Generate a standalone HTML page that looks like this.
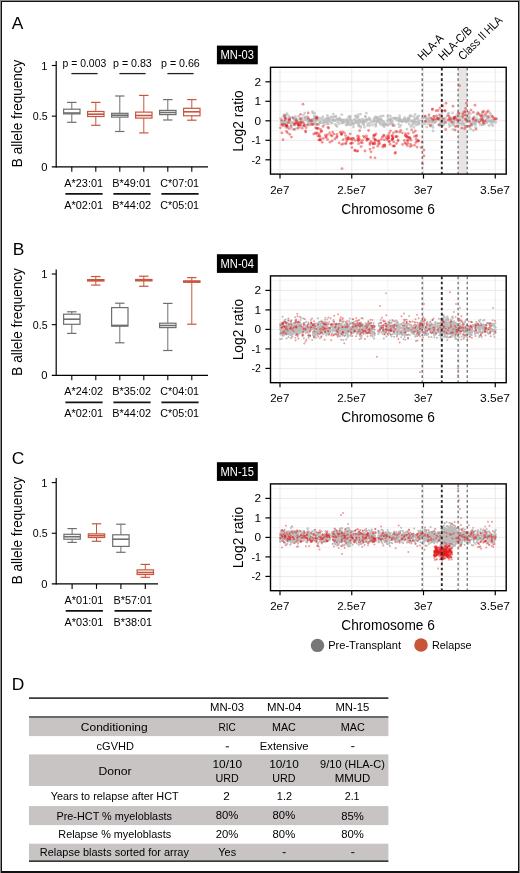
<!DOCTYPE html><html><head><meta charset="utf-8"><style>
html,body{margin:0;padding:0;background:#fff;}
svg{display:block;font-family:"Liberation Sans", sans-serif;will-change:transform;}
</style></head><body>
<svg width="520" height="873" viewBox="0 0 520 873"><rect x="0" y="0" width="520" height="873" fill="#8a8a8a"/>
<rect x="1" y="1" width="518" height="872" fill="#111"/>
<rect x="2" y="2" width="516" height="869" fill="#fff"/>
<text x="11.8" y="28.8" font-size="17.4" fill="#000">A</text>
<line x1="56.2" y1="61.0" x2="56.2" y2="167.4" stroke="#000" stroke-width="1.2"/>
<line x1="51.8" y1="166.8" x2="208" y2="166.8" stroke="#000" stroke-width="1.3"/>
<line x1="51.8" y1="65.5" x2="56.2" y2="65.5" stroke="#000" stroke-width="1.1"/>
<line x1="51.8" y1="116.15" x2="56.2" y2="116.15" stroke="#000" stroke-width="1.1"/>
<text x="47.6" y="69.5" font-size="11.2" fill="#000" text-anchor="end">1</text>
<text x="47.6" y="120.15" font-size="11.2" fill="#000" text-anchor="end" textLength="14.8" lengthAdjust="spacingAndGlyphs">0.5</text>
<text x="47.6" y="170.8" font-size="11.2" fill="#000" text-anchor="end">0</text>
<text x="22.3" y="113.4" font-size="14.8" fill="#000" text-anchor="middle" textLength="107.5" lengthAdjust="spacingAndGlyphs" transform="rotate(-90 22.3 113.4)">B allele frequency</text>
<line x1="71.8" y1="166.8" x2="71.8" y2="171.8" stroke="#000" stroke-width="1.1"/>
<line x1="71.8" y1="102.4" x2="71.8" y2="109.2" stroke="#6f6f6f" stroke-width="1.0"/>
<line x1="71.8" y1="113.9" x2="71.8" y2="122.3" stroke="#6f6f6f" stroke-width="1.0"/>
<line x1="67.1" y1="102.4" x2="76.5" y2="102.4" stroke="#6f6f6f" stroke-width="1.2"/>
<line x1="67.1" y1="122.3" x2="76.5" y2="122.3" stroke="#6f6f6f" stroke-width="1.2"/>
<rect x="63.599999999999994" y="109.2" width="16.4" height="4.700000000000003" fill="none" stroke="#6f6f6f" stroke-width="1.2"/>
<line x1="63.599999999999994" y1="113.0" x2="80.0" y2="113.0" stroke="#6f6f6f" stroke-width="1.6"/>
<line x1="95.8" y1="166.8" x2="95.8" y2="171.8" stroke="#000" stroke-width="1.1"/>
<line x1="95.8" y1="102.4" x2="95.8" y2="111.5" stroke="#c9563c" stroke-width="1.0"/>
<line x1="95.8" y1="116.5" x2="95.8" y2="125.3" stroke="#c9563c" stroke-width="1.0"/>
<line x1="91.1" y1="102.4" x2="100.5" y2="102.4" stroke="#c9563c" stroke-width="1.2"/>
<line x1="91.1" y1="125.3" x2="100.5" y2="125.3" stroke="#c9563c" stroke-width="1.2"/>
<rect x="87.6" y="111.5" width="16.4" height="5.0" fill="none" stroke="#c9563c" stroke-width="1.2"/>
<line x1="87.6" y1="114.2" x2="104.0" y2="114.2" stroke="#c9563c" stroke-width="1.6"/>
<line x1="119.8" y1="166.8" x2="119.8" y2="171.8" stroke="#000" stroke-width="1.1"/>
<line x1="119.8" y1="96" x2="119.8" y2="113.3" stroke="#6f6f6f" stroke-width="1.0"/>
<line x1="119.8" y1="117.1" x2="119.8" y2="131.5" stroke="#6f6f6f" stroke-width="1.0"/>
<line x1="115.1" y1="96" x2="124.5" y2="96" stroke="#6f6f6f" stroke-width="1.2"/>
<line x1="115.1" y1="131.5" x2="124.5" y2="131.5" stroke="#6f6f6f" stroke-width="1.2"/>
<rect x="111.6" y="113.3" width="16.4" height="3.799999999999997" fill="none" stroke="#6f6f6f" stroke-width="1.2"/>
<line x1="111.6" y1="115.2" x2="128.0" y2="115.2" stroke="#6f6f6f" stroke-width="1.6"/>
<line x1="143.8" y1="166.8" x2="143.8" y2="171.8" stroke="#000" stroke-width="1.1"/>
<line x1="143.8" y1="95.4" x2="143.8" y2="112.1" stroke="#c9563c" stroke-width="1.0"/>
<line x1="143.8" y1="118.1" x2="143.8" y2="132.9" stroke="#c9563c" stroke-width="1.0"/>
<line x1="139.10000000000002" y1="95.4" x2="148.5" y2="95.4" stroke="#c9563c" stroke-width="1.2"/>
<line x1="139.10000000000002" y1="132.9" x2="148.5" y2="132.9" stroke="#c9563c" stroke-width="1.2"/>
<rect x="135.60000000000002" y="112.1" width="16.4" height="6.0" fill="none" stroke="#c9563c" stroke-width="1.2"/>
<line x1="135.60000000000002" y1="115.5" x2="152.0" y2="115.5" stroke="#c9563c" stroke-width="1.6"/>
<line x1="167.8" y1="166.8" x2="167.8" y2="171.8" stroke="#000" stroke-width="1.1"/>
<line x1="167.8" y1="99.6" x2="167.8" y2="110.4" stroke="#6f6f6f" stroke-width="1.0"/>
<line x1="167.8" y1="114.6" x2="167.8" y2="120" stroke="#6f6f6f" stroke-width="1.0"/>
<line x1="163.10000000000002" y1="99.6" x2="172.5" y2="99.6" stroke="#6f6f6f" stroke-width="1.2"/>
<line x1="163.10000000000002" y1="120" x2="172.5" y2="120" stroke="#6f6f6f" stroke-width="1.2"/>
<rect x="159.60000000000002" y="110.4" width="16.4" height="4.199999999999989" fill="none" stroke="#6f6f6f" stroke-width="1.2"/>
<line x1="159.60000000000002" y1="112.5" x2="176.0" y2="112.5" stroke="#6f6f6f" stroke-width="1.6"/>
<line x1="191.8" y1="166.8" x2="191.8" y2="171.8" stroke="#000" stroke-width="1.1"/>
<line x1="191.8" y1="99.6" x2="191.8" y2="108.3" stroke="#c9563c" stroke-width="1.0"/>
<line x1="191.8" y1="115.8" x2="191.8" y2="120.2" stroke="#c9563c" stroke-width="1.0"/>
<line x1="187.10000000000002" y1="99.6" x2="196.5" y2="99.6" stroke="#c9563c" stroke-width="1.2"/>
<line x1="187.10000000000002" y1="120.2" x2="196.5" y2="120.2" stroke="#c9563c" stroke-width="1.2"/>
<rect x="183.60000000000002" y="108.3" width="16.4" height="7.5" fill="none" stroke="#c9563c" stroke-width="1.2"/>
<line x1="183.60000000000002" y1="111.8" x2="200.0" y2="111.8" stroke="#c9563c" stroke-width="1.6"/>
<text x="83.7" y="186.8" font-size="11.8" fill="#000" text-anchor="middle" textLength="38.8" lengthAdjust="spacingAndGlyphs">A*23:01</text>
<line x1="65.4" y1="193.8" x2="102.6" y2="193.8" stroke="#111" stroke-width="1.8"/>
<text x="83.7" y="208.9" font-size="11.8" fill="#000" text-anchor="middle" textLength="38.8" lengthAdjust="spacingAndGlyphs">A*02:01</text>
<text x="131.7" y="186.8" font-size="11.8" fill="#000" text-anchor="middle" textLength="38.8" lengthAdjust="spacingAndGlyphs">B*49:01</text>
<line x1="113.4" y1="193.8" x2="150.6" y2="193.8" stroke="#111" stroke-width="1.8"/>
<text x="131.7" y="208.9" font-size="11.8" fill="#000" text-anchor="middle" textLength="38.8" lengthAdjust="spacingAndGlyphs">B*44:02</text>
<text x="179.7" y="186.8" font-size="11.8" fill="#000" text-anchor="middle" textLength="38.8" lengthAdjust="spacingAndGlyphs">C*07:01</text>
<line x1="161.4" y1="193.8" x2="198.6" y2="193.8" stroke="#111" stroke-width="1.8"/>
<text x="179.7" y="208.9" font-size="11.8" fill="#000" text-anchor="middle" textLength="38.8" lengthAdjust="spacingAndGlyphs">C*05:01</text>
<text x="84.4" y="66.5" font-size="10.3" fill="#000" text-anchor="middle" textLength="43.599999999999994" lengthAdjust="spacingAndGlyphs">p = 0.003</text>
<line x1="71.4" y1="73.6" x2="97.6" y2="73.6" stroke="#222" stroke-width="1.3"/>
<text x="132.4" y="66.5" font-size="10.3" fill="#000" text-anchor="middle" textLength="38.8" lengthAdjust="spacingAndGlyphs">p = 0.83</text>
<line x1="119.4" y1="73.6" x2="145.6" y2="73.6" stroke="#222" stroke-width="1.3"/>
<text x="180.4" y="66.5" font-size="10.3" fill="#000" text-anchor="middle" textLength="38.8" lengthAdjust="spacingAndGlyphs">p = 0.66</text>
<line x1="167.4" y1="73.6" x2="193.6" y2="73.6" stroke="#222" stroke-width="1.3"/>
<text x="12.8" y="254.6" font-size="17.4" fill="#000">B</text>
<line x1="56.2" y1="269.5" x2="56.2" y2="375.90000000000003" stroke="#000" stroke-width="1.2"/>
<line x1="51.8" y1="375.3" x2="208" y2="375.3" stroke="#000" stroke-width="1.3"/>
<line x1="51.8" y1="274.0" x2="56.2" y2="274.0" stroke="#000" stroke-width="1.1"/>
<line x1="51.8" y1="324.65" x2="56.2" y2="324.65" stroke="#000" stroke-width="1.1"/>
<text x="47.6" y="278.0" font-size="11.2" fill="#000" text-anchor="end">1</text>
<text x="47.6" y="328.65" font-size="11.2" fill="#000" text-anchor="end" textLength="14.8" lengthAdjust="spacingAndGlyphs">0.5</text>
<text x="47.6" y="379.3" font-size="11.2" fill="#000" text-anchor="end">0</text>
<text x="22.3" y="321.9" font-size="14.8" fill="#000" text-anchor="middle" textLength="107.5" lengthAdjust="spacingAndGlyphs" transform="rotate(-90 22.3 321.9)">B allele frequency</text>
<line x1="71.8" y1="375.3" x2="71.8" y2="380.3" stroke="#000" stroke-width="1.1"/>
<line x1="71.8" y1="311.8" x2="71.8" y2="314.2" stroke="#6f6f6f" stroke-width="1.0"/>
<line x1="71.8" y1="324.3" x2="71.8" y2="333.4" stroke="#6f6f6f" stroke-width="1.0"/>
<line x1="67.1" y1="311.8" x2="76.5" y2="311.8" stroke="#6f6f6f" stroke-width="1.2"/>
<line x1="67.1" y1="333.4" x2="76.5" y2="333.4" stroke="#6f6f6f" stroke-width="1.2"/>
<rect x="63.599999999999994" y="314.2" width="16.4" height="10.100000000000023" fill="none" stroke="#6f6f6f" stroke-width="1.2"/>
<line x1="63.599999999999994" y1="319.2" x2="80.0" y2="319.2" stroke="#6f6f6f" stroke-width="1.6"/>
<line x1="95.8" y1="375.3" x2="95.8" y2="380.3" stroke="#000" stroke-width="1.1"/>
<line x1="95.8" y1="276.5" x2="95.8" y2="279.6" stroke="#c9563c" stroke-width="1.0"/>
<line x1="95.8" y1="281.0" x2="95.8" y2="285.1" stroke="#c9563c" stroke-width="1.0"/>
<line x1="91.1" y1="276.5" x2="100.5" y2="276.5" stroke="#c9563c" stroke-width="1.2"/>
<line x1="91.1" y1="285.1" x2="100.5" y2="285.1" stroke="#c9563c" stroke-width="1.2"/>
<rect x="87.6" y="279.6" width="16.4" height="1.3999999999999773" fill="none" stroke="#c9563c" stroke-width="1.2"/>
<line x1="87.6" y1="280.3" x2="104.0" y2="280.3" stroke="#c9563c" stroke-width="1.6"/>
<line x1="119.8" y1="375.3" x2="119.8" y2="380.3" stroke="#000" stroke-width="1.1"/>
<line x1="119.8" y1="303.2" x2="119.8" y2="307.6" stroke="#6f6f6f" stroke-width="1.0"/>
<line x1="119.8" y1="326.2" x2="119.8" y2="342.8" stroke="#6f6f6f" stroke-width="1.0"/>
<line x1="115.1" y1="303.2" x2="124.5" y2="303.2" stroke="#6f6f6f" stroke-width="1.2"/>
<line x1="115.1" y1="342.8" x2="124.5" y2="342.8" stroke="#6f6f6f" stroke-width="1.2"/>
<rect x="111.6" y="307.6" width="16.4" height="18.599999999999966" fill="none" stroke="#6f6f6f" stroke-width="1.2"/>
<line x1="111.6" y1="325.4" x2="128.0" y2="325.4" stroke="#6f6f6f" stroke-width="1.6"/>
<line x1="143.8" y1="375.3" x2="143.8" y2="380.3" stroke="#000" stroke-width="1.1"/>
<line x1="143.8" y1="276.2" x2="143.8" y2="279.5" stroke="#c9563c" stroke-width="1.0"/>
<line x1="143.8" y1="280.9" x2="143.8" y2="286.3" stroke="#c9563c" stroke-width="1.0"/>
<line x1="139.10000000000002" y1="276.2" x2="148.5" y2="276.2" stroke="#c9563c" stroke-width="1.2"/>
<line x1="139.10000000000002" y1="286.3" x2="148.5" y2="286.3" stroke="#c9563c" stroke-width="1.2"/>
<rect x="135.60000000000002" y="279.5" width="16.4" height="1.3999999999999773" fill="none" stroke="#c9563c" stroke-width="1.2"/>
<line x1="135.60000000000002" y1="280.2" x2="152.0" y2="280.2" stroke="#c9563c" stroke-width="1.6"/>
<line x1="167.8" y1="375.3" x2="167.8" y2="380.3" stroke="#000" stroke-width="1.1"/>
<line x1="167.8" y1="303.4" x2="167.8" y2="323.2" stroke="#6f6f6f" stroke-width="1.0"/>
<line x1="167.8" y1="327.6" x2="167.8" y2="350.5" stroke="#6f6f6f" stroke-width="1.0"/>
<line x1="163.10000000000002" y1="303.4" x2="172.5" y2="303.4" stroke="#6f6f6f" stroke-width="1.2"/>
<line x1="163.10000000000002" y1="350.5" x2="172.5" y2="350.5" stroke="#6f6f6f" stroke-width="1.2"/>
<rect x="159.60000000000002" y="323.2" width="16.4" height="4.400000000000034" fill="none" stroke="#6f6f6f" stroke-width="1.2"/>
<line x1="159.60000000000002" y1="325.5" x2="176.0" y2="325.5" stroke="#6f6f6f" stroke-width="1.6"/>
<line x1="191.8" y1="375.3" x2="191.8" y2="380.3" stroke="#000" stroke-width="1.1"/>
<line x1="191.8" y1="277.6" x2="191.8" y2="280.9" stroke="#c9563c" stroke-width="1.0"/>
<line x1="191.8" y1="282.3" x2="191.8" y2="324.2" stroke="#c9563c" stroke-width="1.0"/>
<line x1="187.10000000000002" y1="277.6" x2="196.5" y2="277.6" stroke="#c9563c" stroke-width="1.2"/>
<line x1="187.10000000000002" y1="324.2" x2="196.5" y2="324.2" stroke="#c9563c" stroke-width="1.2"/>
<rect x="183.60000000000002" y="280.9" width="16.4" height="1.400000000000034" fill="none" stroke="#c9563c" stroke-width="1.2"/>
<line x1="183.60000000000002" y1="281.6" x2="200.0" y2="281.6" stroke="#c9563c" stroke-width="1.6"/>
<text x="83.7" y="395.3" font-size="11.8" fill="#000" text-anchor="middle" textLength="38.8" lengthAdjust="spacingAndGlyphs">A*24:02</text>
<line x1="65.4" y1="402.3" x2="102.6" y2="402.3" stroke="#111" stroke-width="1.8"/>
<text x="83.7" y="417.40000000000003" font-size="11.8" fill="#000" text-anchor="middle" textLength="38.8" lengthAdjust="spacingAndGlyphs">A*02:01</text>
<text x="131.7" y="395.3" font-size="11.8" fill="#000" text-anchor="middle" textLength="38.8" lengthAdjust="spacingAndGlyphs">B*35:02</text>
<line x1="113.4" y1="402.3" x2="150.6" y2="402.3" stroke="#111" stroke-width="1.8"/>
<text x="131.7" y="417.40000000000003" font-size="11.8" fill="#000" text-anchor="middle" textLength="38.8" lengthAdjust="spacingAndGlyphs">B*44:02</text>
<text x="179.7" y="395.3" font-size="11.8" fill="#000" text-anchor="middle" textLength="38.8" lengthAdjust="spacingAndGlyphs">C*04:01</text>
<line x1="161.4" y1="402.3" x2="198.6" y2="402.3" stroke="#111" stroke-width="1.8"/>
<text x="179.7" y="417.40000000000003" font-size="11.8" fill="#000" text-anchor="middle" textLength="38.8" lengthAdjust="spacingAndGlyphs">C*05:01</text>
<text x="11.8" y="463.7" font-size="17.4" fill="#000">C</text>
<line x1="56.2" y1="478.1" x2="56.2" y2="584.5" stroke="#000" stroke-width="1.2"/>
<line x1="51.8" y1="583.9" x2="158" y2="583.9" stroke="#000" stroke-width="1.3"/>
<line x1="51.8" y1="482.6" x2="56.2" y2="482.6" stroke="#000" stroke-width="1.1"/>
<line x1="51.8" y1="533.25" x2="56.2" y2="533.25" stroke="#000" stroke-width="1.1"/>
<text x="47.6" y="486.6" font-size="11.2" fill="#000" text-anchor="end">1</text>
<text x="47.6" y="537.25" font-size="11.2" fill="#000" text-anchor="end" textLength="14.8" lengthAdjust="spacingAndGlyphs">0.5</text>
<text x="47.6" y="587.9" font-size="11.2" fill="#000" text-anchor="end">0</text>
<text x="22.3" y="530.5" font-size="14.8" fill="#000" text-anchor="middle" textLength="107.5" lengthAdjust="spacingAndGlyphs" transform="rotate(-90 22.3 530.5)">B allele frequency</text>
<line x1="72.1" y1="583.9" x2="72.1" y2="588.9" stroke="#000" stroke-width="1.1"/>
<line x1="72.1" y1="528.6" x2="72.1" y2="534.3" stroke="#6f6f6f" stroke-width="1.0"/>
<line x1="72.1" y1="539.2" x2="72.1" y2="542.4" stroke="#6f6f6f" stroke-width="1.0"/>
<line x1="67.39999999999999" y1="528.6" x2="76.8" y2="528.6" stroke="#6f6f6f" stroke-width="1.2"/>
<line x1="67.39999999999999" y1="542.4" x2="76.8" y2="542.4" stroke="#6f6f6f" stroke-width="1.2"/>
<rect x="63.89999999999999" y="534.3" width="16.4" height="4.900000000000091" fill="none" stroke="#6f6f6f" stroke-width="1.2"/>
<line x1="63.89999999999999" y1="536.7" x2="80.3" y2="536.7" stroke="#6f6f6f" stroke-width="1.6"/>
<line x1="96.5" y1="583.9" x2="96.5" y2="588.9" stroke="#000" stroke-width="1.1"/>
<line x1="96.5" y1="523.8" x2="96.5" y2="533.9" stroke="#c9563c" stroke-width="1.0"/>
<line x1="96.5" y1="537.5" x2="96.5" y2="541.3" stroke="#c9563c" stroke-width="1.0"/>
<line x1="91.8" y1="523.8" x2="101.2" y2="523.8" stroke="#c9563c" stroke-width="1.2"/>
<line x1="91.8" y1="541.3" x2="101.2" y2="541.3" stroke="#c9563c" stroke-width="1.2"/>
<rect x="88.3" y="533.9" width="16.4" height="3.6000000000000227" fill="none" stroke="#c9563c" stroke-width="1.2"/>
<line x1="88.3" y1="535.7" x2="104.7" y2="535.7" stroke="#c9563c" stroke-width="1.6"/>
<line x1="120.9" y1="583.9" x2="120.9" y2="588.9" stroke="#000" stroke-width="1.1"/>
<line x1="120.9" y1="524.2" x2="120.9" y2="534.8" stroke="#6f6f6f" stroke-width="1.0"/>
<line x1="120.9" y1="546.4" x2="120.9" y2="552.3" stroke="#6f6f6f" stroke-width="1.0"/>
<line x1="116.2" y1="524.2" x2="125.60000000000001" y2="524.2" stroke="#6f6f6f" stroke-width="1.2"/>
<line x1="116.2" y1="552.3" x2="125.60000000000001" y2="552.3" stroke="#6f6f6f" stroke-width="1.2"/>
<rect x="112.7" y="534.8" width="16.4" height="11.600000000000023" fill="none" stroke="#6f6f6f" stroke-width="1.2"/>
<line x1="112.7" y1="539.2" x2="129.1" y2="539.2" stroke="#6f6f6f" stroke-width="1.6"/>
<line x1="145.3" y1="583.9" x2="145.3" y2="588.9" stroke="#000" stroke-width="1.1"/>
<line x1="145.3" y1="564.4" x2="145.3" y2="569.9" stroke="#c9563c" stroke-width="1.0"/>
<line x1="145.3" y1="574.5" x2="145.3" y2="577.3" stroke="#c9563c" stroke-width="1.0"/>
<line x1="140.60000000000002" y1="564.4" x2="150.0" y2="564.4" stroke="#c9563c" stroke-width="1.2"/>
<line x1="140.60000000000002" y1="577.3" x2="150.0" y2="577.3" stroke="#c9563c" stroke-width="1.2"/>
<rect x="137.10000000000002" y="569.9" width="16.4" height="4.600000000000023" fill="none" stroke="#c9563c" stroke-width="1.2"/>
<line x1="137.10000000000002" y1="572.5" x2="153.5" y2="572.5" stroke="#c9563c" stroke-width="1.6"/>
<text x="84.0" y="603.9" font-size="11.8" fill="#000" text-anchor="middle" textLength="38.8" lengthAdjust="spacingAndGlyphs">A*01:01</text>
<line x1="65.69999999999999" y1="610.9" x2="102.9" y2="610.9" stroke="#111" stroke-width="1.8"/>
<text x="84.0" y="626.0" font-size="11.8" fill="#000" text-anchor="middle" textLength="38.8" lengthAdjust="spacingAndGlyphs">A*03:01</text>
<text x="132.79999999999998" y="603.9" font-size="11.8" fill="#000" text-anchor="middle" textLength="38.8" lengthAdjust="spacingAndGlyphs">B*57:01</text>
<line x1="114.5" y1="610.9" x2="151.7" y2="610.9" stroke="#111" stroke-width="1.8"/>
<text x="132.79999999999998" y="626.0" font-size="11.8" fill="#000" text-anchor="middle" textLength="38.8" lengthAdjust="spacingAndGlyphs">B*38:01</text>
<rect x="216.9" y="45.599999999999994" width="40.9" height="18.7" fill="#000"/>
<text x="237.3" y="58.9" font-size="13.2" fill="#fff" text-anchor="middle" textLength="33.4" lengthAdjust="spacingAndGlyphs">MN-03</text>
<line x1="270.5" y1="169.55" x2="506.2" y2="169.55" stroke="#f3f1f1" stroke-width="0.8"/><line x1="270.5" y1="150.05" x2="506.2" y2="150.05" stroke="#f3f1f1" stroke-width="0.8"/><line x1="270.5" y1="130.55" x2="506.2" y2="130.55" stroke="#f3f1f1" stroke-width="0.8"/><line x1="270.5" y1="111.05" x2="506.2" y2="111.05" stroke="#f3f1f1" stroke-width="0.8"/><line x1="270.5" y1="91.55" x2="506.2" y2="91.55" stroke="#f3f1f1" stroke-width="0.8"/><line x1="270.5" y1="72.05" x2="506.2" y2="72.05" stroke="#f3f1f1" stroke-width="0.8"/><line x1="315.875" y1="67.3" x2="315.875" y2="174.1" stroke="#f3f1f1" stroke-width="0.8"/><line x1="387.625" y1="67.3" x2="387.625" y2="174.1" stroke="#f3f1f1" stroke-width="0.8"/><line x1="459.375" y1="67.3" x2="459.375" y2="174.1" stroke="#f3f1f1" stroke-width="0.8"/><line x1="270.5" y1="159.8" x2="506.2" y2="159.8" stroke="#ebe8e8" stroke-width="1"/><line x1="270.5" y1="140.3" x2="506.2" y2="140.3" stroke="#ebe8e8" stroke-width="1"/><line x1="270.5" y1="120.8" x2="506.2" y2="120.8" stroke="#ebe8e8" stroke-width="1"/><line x1="270.5" y1="101.3" x2="506.2" y2="101.3" stroke="#ebe8e8" stroke-width="1"/><line x1="270.5" y1="81.8" x2="506.2" y2="81.8" stroke="#ebe8e8" stroke-width="1"/><line x1="280.0" y1="67.3" x2="280.0" y2="174.1" stroke="#ebe8e8" stroke-width="1"/><line x1="351.75" y1="67.3" x2="351.75" y2="174.1" stroke="#ebe8e8" stroke-width="1"/><line x1="423.5" y1="67.3" x2="423.5" y2="174.1" stroke="#ebe8e8" stroke-width="1"/><line x1="495.25" y1="67.3" x2="495.25" y2="174.1" stroke="#ebe8e8" stroke-width="1"/>
<rect x="458.4" y="67.3" width="8.6" height="106.8" fill="#e8e4e4"/>
<g stroke="#bbbbbb" stroke-width="2.8" stroke-linecap="round" stroke-opacity="0.7" fill="none"><path d="M307.8 119.7h0"/><path d="M387.8 125.2h0"/><path d="M409.9 115.8h0"/><path d="M286.2 114.7h0"/><path d="M312.0 123.8h0"/><path d="M480.5 115.4h0"/><path d="M295.2 120.6h0"/><path d="M308.0 121.3h0"/><path d="M484.8 116.1h0"/><path d="M414.3 120.1h0"/><path d="M359.7 119.8h0"/><path d="M390.5 116.1h0"/><path d="M423.2 116.8h0"/><path d="M339.5 118.0h0"/><path d="M309.8 125.2h0"/><path d="M450.2 125.7h0"/><path d="M424.8 117.3h0"/><path d="M390.7 123.7h0"/><path d="M456.4 120.3h0"/><path d="M398.6 124.2h0"/><path d="M491.9 121.4h0"/><path d="M324.2 124.8h0"/><path d="M399.6 115.7h0"/><path d="M384.5 124.0h0"/><path d="M356.3 121.2h0"/><path d="M407.8 121.4h0"/><path d="M330.8 117.0h0"/><path d="M453.3 125.2h0"/><path d="M467.3 120.9h0"/><path d="M307.8 121.5h0"/><path d="M380.9 119.1h0"/><path d="M339.9 119.3h0"/><path d="M298.0 122.2h0"/><path d="M473.5 120.1h0"/><path d="M372.9 122.0h0"/><path d="M311.9 119.3h0"/><path d="M425.4 121.1h0"/><path d="M323.7 122.8h0"/><path d="M474.7 120.9h0"/><path d="M326.9 119.7h0"/><path d="M287.1 113.7h0"/><path d="M323.4 122.3h0"/><path d="M354.7 119.8h0"/><path d="M381.3 116.2h0"/><path d="M475.7 127.3h0"/><path d="M430.6 126.2h0"/><path d="M353.3 124.5h0"/><path d="M283.6 121.2h0"/><path d="M314.5 113.2h0"/><path d="M495.2 119.6h0"/><path d="M379.3 117.0h0"/><path d="M429.3 121.5h0"/><path d="M291.8 128.5h0"/><path d="M287.4 128.0h0"/><path d="M462.7 117.6h0"/><path d="M407.0 120.2h0"/><path d="M346.7 124.9h0"/><path d="M348.6 117.3h0"/><path d="M299.3 125.6h0"/><path d="M317.3 117.3h0"/><path d="M285.3 116.3h0"/><path d="M461.3 123.2h0"/><path d="M380.7 124.3h0"/><path d="M307.5 118.2h0"/><path d="M439.7 124.2h0"/><path d="M322.3 118.1h0"/><path d="M293.4 124.5h0"/><path d="M409.3 118.3h0"/><path d="M473.5 120.5h0"/><path d="M285.8 122.2h0"/><path d="M453.9 123.6h0"/><path d="M321.1 120.1h0"/><path d="M300.1 126.7h0"/><path d="M283.9 121.7h0"/><path d="M343.3 122.0h0"/><path d="M437.1 118.7h0"/><path d="M386.5 124.7h0"/><path d="M464.2 115.5h0"/><path d="M326.9 121.8h0"/><path d="M348.1 124.4h0"/><path d="M335.8 116.5h0"/><path d="M491.3 115.6h0"/><path d="M483.3 121.4h0"/><path d="M353.6 123.6h0"/><path d="M374.2 120.7h0"/><path d="M347.9 123.0h0"/><path d="M441.2 121.8h0"/><path d="M288.6 115.9h0"/><path d="M294.6 119.6h0"/><path d="M367.3 120.3h0"/><path d="M332.9 119.7h0"/><path d="M462.6 121.0h0"/><path d="M440.2 118.2h0"/><path d="M397.9 118.1h0"/><path d="M422.9 122.0h0"/><path d="M429.5 120.5h0"/><path d="M448.7 113.3h0"/><path d="M480.3 119.5h0"/><path d="M312.3 121.4h0"/><path d="M415.2 114.4h0"/><path d="M311.0 120.8h0"/><path d="M375.7 124.2h0"/><path d="M449.8 118.7h0"/><path d="M473.3 123.6h0"/><path d="M444.0 122.4h0"/><path d="M287.6 119.8h0"/><path d="M357.6 121.2h0"/><path d="M315.2 123.2h0"/><path d="M495.7 122.5h0"/><path d="M311.1 122.7h0"/><path d="M332.8 117.2h0"/><path d="M357.2 123.0h0"/><path d="M293.2 122.6h0"/><path d="M468.0 114.4h0"/><path d="M417.5 122.5h0"/><path d="M314.5 116.2h0"/><path d="M387.6 116.7h0"/><path d="M297.0 121.3h0"/><path d="M412.0 125.2h0"/><path d="M330.0 119.4h0"/><path d="M288.3 118.7h0"/><path d="M304.9 117.8h0"/><path d="M399.9 120.6h0"/><path d="M417.6 117.0h0"/><path d="M350.2 116.5h0"/><path d="M419.0 124.1h0"/><path d="M356.0 116.3h0"/><path d="M308.2 120.3h0"/><path d="M348.1 122.6h0"/><path d="M365.4 121.8h0"/><path d="M477.1 114.9h0"/><path d="M305.0 117.7h0"/><path d="M298.6 126.4h0"/><path d="M401.3 120.5h0"/><path d="M488.1 121.2h0"/><path d="M476.0 121.3h0"/><path d="M431.3 122.4h0"/><path d="M294.4 125.3h0"/><path d="M454.2 118.1h0"/><path d="M427.6 123.7h0"/><path d="M311.1 122.0h0"/><path d="M380.4 122.7h0"/><path d="M290.7 123.1h0"/><path d="M453.2 118.5h0"/><path d="M435.2 119.6h0"/><path d="M453.8 122.9h0"/><path d="M444.2 123.7h0"/><path d="M337.7 122.3h0"/><path d="M450.6 117.8h0"/><path d="M333.8 120.4h0"/><path d="M309.8 120.1h0"/><path d="M364.3 121.8h0"/><path d="M387.5 121.6h0"/><path d="M341.7 120.1h0"/><path d="M410.8 126.6h0"/><path d="M410.1 115.8h0"/><path d="M331.8 123.3h0"/><path d="M414.5 122.6h0"/><path d="M357.2 116.6h0"/><path d="M438.7 120.1h0"/><path d="M342.7 120.7h0"/><path d="M452.5 122.6h0"/><path d="M369.7 125.7h0"/><path d="M399.5 120.2h0"/><path d="M425.4 117.1h0"/><path d="M392.0 123.6h0"/><path d="M335.6 116.5h0"/><path d="M491.5 124.3h0"/><path d="M300.7 123.1h0"/><path d="M350.2 119.2h0"/><path d="M398.6 120.8h0"/><path d="M286.2 118.6h0"/><path d="M313.5 123.1h0"/><path d="M452.6 124.0h0"/><path d="M449.3 126.6h0"/><path d="M417.6 124.6h0"/><path d="M474.8 124.2h0"/><path d="M443.2 125.3h0"/><path d="M344.5 119.8h0"/><path d="M419.3 122.9h0"/><path d="M353.5 127.0h0"/><path d="M442.0 113.1h0"/><path d="M363.1 123.4h0"/><path d="M313.1 124.7h0"/><path d="M469.3 116.9h0"/><path d="M429.1 117.2h0"/><path d="M440.9 124.4h0"/><path d="M400.9 125.4h0"/><path d="M449.1 123.9h0"/><path d="M376.7 117.3h0"/><path d="M402.2 121.8h0"/><path d="M293.5 123.3h0"/><path d="M399.9 120.9h0"/><path d="M456.0 117.0h0"/><path d="M432.4 125.1h0"/><path d="M453.5 122.0h0"/><path d="M387.2 125.1h0"/><path d="M470.4 114.0h0"/><path d="M303.4 115.1h0"/><path d="M469.2 117.8h0"/><path d="M360.2 121.2h0"/><path d="M299.6 118.7h0"/><path d="M413.8 127.4h0"/><path d="M378.3 119.9h0"/><path d="M372.5 125.0h0"/><path d="M464.0 124.9h0"/><path d="M309.8 123.0h0"/><path d="M413.3 121.9h0"/><path d="M369.4 119.0h0"/><path d="M394.1 118.6h0"/><path d="M387.9 120.0h0"/><path d="M309.0 123.7h0"/><path d="M390.6 118.7h0"/><path d="M466.2 121.2h0"/><path d="M317.0 117.1h0"/><path d="M282.5 123.7h0"/><path d="M294.6 129.4h0"/><path d="M379.3 122.3h0"/><path d="M490.5 114.1h0"/><path d="M289.6 119.3h0"/><path d="M494.0 121.4h0"/><path d="M395.8 118.0h0"/><path d="M306.0 119.2h0"/><path d="M370.4 119.4h0"/><path d="M324.8 122.4h0"/><path d="M434.3 120.6h0"/><path d="M397.0 120.2h0"/><path d="M342.2 122.8h0"/><path d="M335.2 124.3h0"/><path d="M467.3 120.4h0"/><path d="M445.5 117.8h0"/><path d="M374.2 118.8h0"/><path d="M367.6 119.3h0"/><path d="M439.3 119.2h0"/><path d="M489.7 112.7h0"/><path d="M297.2 120.0h0"/><path d="M314.4 117.5h0"/><path d="M358.3 114.7h0"/><path d="M389.7 120.6h0"/><path d="M295.4 120.0h0"/><path d="M291.6 117.5h0"/><path d="M327.4 115.5h0"/><path d="M363.4 119.8h0"/><path d="M439.7 119.7h0"/><path d="M411.7 120.5h0"/><path d="M286.3 124.6h0"/><path d="M289.7 117.3h0"/><path d="M377.6 121.6h0"/><path d="M469.0 126.2h0"/><path d="M477.6 121.2h0"/><path d="M358.9 126.2h0"/><path d="M471.7 123.9h0"/><path d="M480.7 120.7h0"/><path d="M367.8 123.7h0"/><path d="M441.2 117.4h0"/><path d="M358.9 125.4h0"/><path d="M313.2 120.0h0"/><path d="M404.2 119.0h0"/><path d="M298.7 116.2h0"/><path d="M423.3 117.9h0"/><path d="M454.8 120.0h0"/><path d="M477.7 120.5h0"/><path d="M376.8 121.0h0"/><path d="M305.4 117.2h0"/><path d="M474.9 122.8h0"/><path d="M468.0 119.1h0"/><path d="M489.0 121.1h0"/><path d="M408.3 120.0h0"/><path d="M425.5 121.6h0"/><path d="M360.6 114.1h0"/><path d="M319.6 122.8h0"/><path d="M343.0 120.0h0"/><path d="M435.7 119.9h0"/><path d="M350.2 118.9h0"/><path d="M429.4 119.4h0"/><path d="M388.5 119.4h0"/><path d="M377.0 117.7h0"/><path d="M489.0 125.5h0"/><path d="M315.9 120.7h0"/><path d="M385.2 124.6h0"/><path d="M314.5 120.0h0"/><path d="M482.5 124.5h0"/><path d="M385.5 123.8h0"/><path d="M351.7 121.0h0"/><path d="M316.4 116.4h0"/><path d="M408.3 119.0h0"/><path d="M366.2 119.8h0"/><path d="M307.5 116.4h0"/><path d="M287.0 123.7h0"/><path d="M364.5 127.3h0"/><path d="M406.0 122.1h0"/><path d="M392.1 121.6h0"/><path d="M474.4 116.9h0"/><path d="M476.9 114.1h0"/><path d="M482.2 124.9h0"/><path d="M452.7 113.0h0"/><path d="M383.2 115.9h0"/><path d="M393.1 118.1h0"/><path d="M365.8 119.6h0"/><path d="M366.3 113.2h0"/><path d="M289.0 120.5h0"/><path d="M452.5 122.2h0"/><path d="M333.1 120.3h0"/><path d="M286.3 125.0h0"/><path d="M380.8 119.3h0"/><path d="M435.1 121.1h0"/><path d="M374.2 119.7h0"/><path d="M358.7 119.6h0"/><path d="M422.2 124.1h0"/><path d="M315.2 116.6h0"/><path d="M282.4 123.9h0"/><path d="M408.0 118.0h0"/><path d="M394.6 125.7h0"/><path d="M467.0 119.6h0"/><path d="M369.8 123.3h0"/><path d="M449.8 120.6h0"/><path d="M283.9 122.8h0"/><path d="M285.9 127.6h0"/><path d="M409.3 124.2h0"/><path d="M328.9 120.5h0"/><path d="M294.5 118.8h0"/><path d="M307.6 125.3h0"/><path d="M360.9 127.4h0"/><path d="M352.8 123.5h0"/><path d="M401.8 121.4h0"/><path d="M471.7 122.7h0"/><path d="M359.0 123.3h0"/><path d="M319.8 118.1h0"/><path d="M404.9 117.7h0"/><path d="M280.5 118.4h0"/><path d="M363.1 123.7h0"/><path d="M348.5 120.5h0"/><path d="M363.7 121.4h0"/><path d="M291.0 125.2h0"/><path d="M399.7 118.0h0"/><path d="M414.8 120.5h0"/><path d="M441.9 122.3h0"/><path d="M486.8 116.3h0"/><path d="M356.6 118.4h0"/><path d="M421.8 118.1h0"/><path d="M375.5 117.0h0"/><path d="M326.5 118.5h0"/><path d="M472.1 124.7h0"/><path d="M441.1 122.0h0"/><path d="M483.6 117.6h0"/><path d="M457.5 123.2h0"/><path d="M478.2 120.6h0"/><path d="M307.7 119.5h0"/><path d="M283.4 116.3h0"/><path d="M322.9 116.7h0"/><path d="M369.0 118.0h0"/><path d="M428.5 121.3h0"/><path d="M374.7 117.9h0"/><path d="M390.9 119.1h0"/><path d="M444.4 121.3h0"/><path d="M295.3 116.5h0"/><path d="M426.5 119.2h0"/><path d="M290.5 123.1h0"/><path d="M333.7 116.8h0"/><path d="M436.0 121.6h0"/><path d="M427.5 118.9h0"/><path d="M367.5 125.5h0"/><path d="M343.6 120.8h0"/><path d="M458.9 123.7h0"/><path d="M339.3 123.8h0"/><path d="M286.7 126.7h0"/><path d="M333.4 114.1h0"/><path d="M284.6 121.2h0"/><path d="M455.1 120.0h0"/><path d="M306.4 117.3h0"/><path d="M490.4 121.1h0"/><path d="M326.0 119.2h0"/><path d="M346.1 125.0h0"/><path d="M406.4 120.2h0"/><path d="M346.6 122.1h0"/><path d="M361.9 119.2h0"/><path d="M302.5 120.2h0"/><path d="M364.0 125.1h0"/><path d="M285.5 126.5h0"/><path d="M328.4 123.9h0"/><path d="M476.4 118.5h0"/><path d="M340.6 119.4h0"/><path d="M338.5 119.5h0"/><path d="M426.7 127.1h0"/><path d="M470.7 129.2h0"/><path d="M343.9 122.7h0"/><path d="M361.3 121.8h0"/><path d="M434.4 122.7h0"/><path d="M451.1 119.7h0"/><path d="M412.6 121.3h0"/><path d="M318.7 124.5h0"/><path d="M319.0 123.5h0"/><path d="M443.7 120.3h0"/><path d="M432.7 120.6h0"/><path d="M473.6 121.0h0"/><path d="M448.4 113.7h0"/><path d="M371.0 121.6h0"/><path d="M308.8 120.4h0"/><path d="M472.3 123.9h0"/><path d="M430.2 121.9h0"/><path d="M404.5 119.2h0"/><path d="M427.3 119.0h0"/><path d="M363.2 121.3h0"/><path d="M354.1 119.6h0"/><path d="M404.3 120.6h0"/><path d="M384.3 126.7h0"/><path d="M433.1 131.0h0"/><path d="M482.2 113.6h0"/><path d="M463.0 118.2h0"/><path d="M363.7 121.0h0"/><path d="M360.5 126.2h0"/><path d="M480.2 124.8h0"/><path d="M365.2 116.6h0"/><path d="M452.9 129.5h0"/><path d="M300.0 121.8h0"/><path d="M377.4 118.1h0"/><path d="M391.5 120.4h0"/><path d="M454.7 118.4h0"/><path d="M469.6 121.2h0"/><path d="M313.0 113.3h0"/><path d="M413.3 124.0h0"/><path d="M415.9 125.1h0"/><path d="M312.7 119.9h0"/><path d="M460.1 116.3h0"/><path d="M399.5 121.0h0"/><path d="M487.7 117.5h0"/><path d="M320.2 122.5h0"/><path d="M393.4 124.5h0"/><path d="M349.9 116.4h0"/><path d="M418.8 115.9h0"/><path d="M411.3 116.0h0"/><path d="M390.7 122.2h0"/><path d="M350.2 124.4h0"/><path d="M388.9 124.4h0"/><path d="M360.4 121.5h0"/><path d="M472.4 119.0h0"/><path d="M379.7 119.2h0"/><path d="M382.7 125.3h0"/><path d="M335.8 120.2h0"/><path d="M334.8 120.7h0"/><path d="M486.0 120.5h0"/><path d="M347.8 120.9h0"/><path d="M467.6 121.4h0"/><path d="M408.5 118.9h0"/><path d="M491.8 120.4h0"/><path d="M315.4 120.1h0"/><path d="M483.4 123.0h0"/><path d="M446.9 119.6h0"/><path d="M402.7 121.2h0"/><path d="M433.1 127.4h0"/><path d="M436.0 119.3h0"/><path d="M376.9 121.6h0"/><path d="M417.0 117.9h0"/><path d="M329.4 121.3h0"/><path d="M284.6 121.1h0"/><path d="M426.1 120.1h0"/><path d="M382.5 120.8h0"/><path d="M475.6 122.2h0"/><path d="M337.0 126.4h0"/><path d="M456.7 115.1h0"/><path d="M493.0 125.7h0"/><path d="M474.0 121.9h0"/><path d="M488.3 118.8h0"/><path d="M314.4 119.6h0"/><path d="M315.7 119.0h0"/><path d="M329.3 118.4h0"/><path d="M358.1 116.9h0"/><path d="M304.9 119.9h0"/><path d="M312.5 111.7h0"/><path d="M284.0 124.0h0"/><path d="M481.6 120.1h0"/><path d="M358.0 121.9h0"/><path d="M415.2 122.5h0"/><path d="M378.2 119.9h0"/><path d="M440.5 116.3h0"/><path d="M454.1 123.0h0"/><path d="M362.7 123.0h0"/><path d="M395.6 118.5h0"/><path d="M301.1 119.1h0"/><path d="M341.7 114.7h0"/><path d="M328.1 117.6h0"/><path d="M346.6 120.1h0"/><path d="M350.1 121.8h0"/><path d="M404.2 120.1h0"/><path d="M351.9 121.3h0"/><path d="M350.6 125.1h0"/><path d="M459.6 120.8h0"/><path d="M282.6 121.3h0"/><path d="M281.1 121.5h0"/><path d="M292.3 122.1h0"/><path d="M467.0 115.5h0"/><path d="M416.9 118.6h0"/><path d="M437.2 117.9h0"/><path d="M486.9 122.7h0"/><path d="M327.1 124.0h0"/><path d="M478.7 121.7h0"/><path d="M332.4 120.0h0"/><path d="M392.1 121.9h0"/><path d="M427.1 121.4h0"/><path d="M452.2 117.8h0"/><path d="M333.6 119.9h0"/><path d="M383.0 123.9h0"/><path d="M289.8 122.1h0"/><path d="M342.2 122.9h0"/><path d="M491.9 120.2h0"/><path d="M475.5 124.4h0"/><path d="M405.7 121.4h0"/><path d="M449.9 118.6h0"/><path d="M474.9 120.7h0"/><path d="M351.7 123.7h0"/><path d="M491.8 122.7h0"/><path d="M376.9 120.4h0"/><path d="M314.3 119.3h0"/><path d="M394.5 118.2h0"/><path d="M408.2 121.3h0"/><path d="M429.7 124.9h0"/><path d="M424.9 116.4h0"/><path d="M289.0 119.9h0"/><path d="M418.0 119.5h0"/><path d="M479.1 119.8h0"/><path d="M424.7 124.0h0"/><path d="M490.6 121.8h0"/><path d="M390.5 120.0h0"/><path d="M455.0 117.6h0"/><path d="M310.3 120.6h0"/><path d="M473.4 130.5h0"/><path d="M374.3 121.6h0"/><path d="M469.4 119.7h0"/><path d="M349.3 116.8h0"/><path d="M414.9 118.6h0"/><path d="M462.9 113.0h0"/><path d="M433.7 116.4h0"/><path d="M413.9 116.6h0"/><path d="M489.7 117.9h0"/><path d="M299.0 125.1h0"/><path d="M302.0 118.2h0"/><path d="M399.1 118.9h0"/><path d="M486.2 122.4h0"/><path d="M428.3 119.0h0"/><path d="M346.9 119.5h0"/><path d="M303.3 122.3h0"/><path d="M376.8 121.2h0"/><path d="M383.7 121.6h0"/><path d="M381.1 120.1h0"/><path d="M413.8 122.1h0"/><path d="M338.9 119.1h0"/><path d="M470.2 126.8h0"/><path d="M342.3 121.7h0"/><path d="M303.1 126.1h0"/><path d="M355.4 122.3h0"/><path d="M482.1 119.2h0"/><path d="M314.4 120.7h0"/><path d="M340.0 121.1h0"/><path d="M480.1 120.6h0"/><path d="M355.2 115.9h0"/><path d="M462.1 124.3h0"/><path d="M289.8 118.0h0"/><path d="M471.9 125.5h0"/><path d="M331.3 122.3h0"/><path d="M319.0 120.3h0"/><path d="M440.3 123.5h0"/><path d="M493.7 120.2h0"/><path d="M487.2 118.5h0"/><path d="M442.5 124.5h0"/><path d="M477.5 121.0h0"/><path d="M493.2 122.0h0"/><path d="M399.4 126.9h0"/><path d="M311.2 121.4h0"/><path d="M463.5 123.3h0"/><path d="M365.5 116.6h0"/><path d="M347.5 123.5h0"/><path d="M388.2 115.5h0"/><path d="M287.5 122.5h0"/><path d="M284.0 114.8h0"/><path d="M337.1 119.1h0"/><path d="M408.7 119.4h0"/><path d="M441.9 118.3h0"/><path d="M486.8 118.0h0"/><path d="M456.7 116.4h0"/><path d="M483.3 115.4h0"/><path d="M417.4 121.9h0"/><path d="M438.5 124.7h0"/><path d="M406.9 129.1h0"/><path d="M297.6 122.0h0"/><path d="M293.4 118.4h0"/><path d="M444.2 119.6h0"/><path d="M323.7 120.4h0"/><path d="M450.6 121.9h0"/><path d="M380.2 122.8h0"/><path d="M281.5 121.7h0"/><path d="M401.3 119.6h0"/><path d="M375.7 126.3h0"/><path d="M296.0 118.5h0"/><path d="M336.4 125.4h0"/><path d="M346.2 121.3h0"/><path d="M354.7 122.8h0"/><path d="M432.7 122.0h0"/><path d="M316.1 124.1h0"/><path d="M375.8 124.4h0"/><path d="M411.1 121.5h0"/><path d="M484.4 124.2h0"/><path d="M304.8 113.1h0"/><path d="M297.1 122.1h0"/><path d="M321.4 122.9h0"/><path d="M327.6 122.5h0"/><path d="M315.2 124.2h0"/><path d="M296.4 128.5h0"/><path d="M325.3 121.6h0"/><path d="M328.2 119.9h0"/><path d="M383.6 125.5h0"/><path d="M419.9 120.8h0"/><path d="M358.6 124.6h0"/><path d="M316.3 120.9h0"/><path d="M300.4 119.7h0"/><path d="M336.8 119.3h0"/><path d="M316.9 119.5h0"/><path d="M383.9 123.0h0"/><path d="M468.2 118.1h0"/><path d="M434.8 122.2h0"/><path d="M323.9 119.7h0"/></g>
<g stroke="#e41a1c" stroke-width="2.8" stroke-linecap="round" stroke-opacity="0.47" fill="none"><path d="M308.2 112.9h0"/><path d="M312.9 124.3h0"/><path d="M298.1 124.9h0"/><path d="M283.0 125.8h0"/><path d="M300.6 114.3h0"/><path d="M289.2 128.6h0"/><path d="M281.2 124.6h0"/><path d="M315.6 127.7h0"/><path d="M311.6 124.4h0"/><path d="M304.1 124.0h0"/><path d="M308.4 118.2h0"/><path d="M305.5 131.0h0"/><path d="M297.6 123.9h0"/><path d="M284.6 115.6h0"/><path d="M291.0 126.4h0"/><path d="M299.2 124.7h0"/><path d="M302.1 128.3h0"/><path d="M291.5 137.1h0"/><path d="M284.8 124.3h0"/><path d="M293.0 117.8h0"/><path d="M287.1 126.2h0"/><path d="M315.4 133.2h0"/><path d="M288.4 122.5h0"/><path d="M295.0 123.4h0"/><path d="M300.6 118.7h0"/><path d="M289.6 119.2h0"/><path d="M298.8 125.2h0"/><path d="M301.0 121.8h0"/><path d="M281.9 132.9h0"/><path d="M316.0 118.2h0"/><path d="M300.4 122.9h0"/><path d="M285.5 118.3h0"/><path d="M317.3 118.4h0"/><path d="M286.4 125.3h0"/><path d="M307.6 124.6h0"/><path d="M298.3 128.2h0"/><path d="M289.8 134.3h0"/><path d="M294.4 124.5h0"/><path d="M298.3 123.0h0"/><path d="M294.1 129.3h0"/><path d="M289.4 120.2h0"/><path d="M295.8 123.3h0"/><path d="M296.6 121.5h0"/><path d="M306.1 127.7h0"/><path d="M287.5 132.8h0"/><path d="M281.7 119.9h0"/><path d="M311.7 120.7h0"/><path d="M282.6 124.4h0"/><path d="M304.0 125.9h0"/><path d="M300.9 125.2h0"/><path d="M317.1 124.5h0"/><path d="M287.2 126.4h0"/><path d="M313.7 134.0h0"/><path d="M285.0 119.8h0"/><path d="M286.5 131.4h0"/><path d="M304.8 125.5h0"/><path d="M286.3 125.4h0"/><path d="M302.3 122.5h0"/><path d="M305.7 132.0h0"/><path d="M284.8 117.7h0"/><path d="M310.0 120.5h0"/><path d="M296.1 119.9h0"/><path d="M316.7 117.4h0"/><path d="M280.4 127.8h0"/><path d="M283.0 139.7h0"/><path d="M323.0 126.4h0"/><path d="M317.2 128.3h0"/><path d="M327.9 127.4h0"/><path d="M316.7 128.4h0"/><path d="M322.3 142.3h0"/><path d="M318.4 128.5h0"/><path d="M329.6 132.8h0"/><path d="M330.7 135.1h0"/><path d="M320.6 139.7h0"/><path d="M330.0 142.2h0"/><path d="M318.8 139.9h0"/><path d="M327.4 134.6h0"/><path d="M320.0 140.2h0"/><path d="M323.1 138.4h0"/><path d="M325.8 137.5h0"/><path d="M321.6 131.2h0"/><path d="M319.2 135.9h0"/><path d="M325.4 135.2h0"/><path d="M328.7 128.0h0"/><path d="M331.9 136.0h0"/><path d="M321.2 131.5h0"/><path d="M320.1 139.6h0"/><path d="M317.2 132.8h0"/><path d="M319.3 133.9h0"/><path d="M316.4 133.6h0"/><path d="M320.0 136.7h0"/><path d="M327.6 139.5h0"/><path d="M317.8 135.9h0"/><path d="M326.3 136.7h0"/><path d="M320.7 129.4h0"/><path d="M407.5 140.3h0"/><path d="M397.2 136.6h0"/><path d="M358.9 136.6h0"/><path d="M392.0 139.5h0"/><path d="M358.6 143.7h0"/><path d="M374.7 135.4h0"/><path d="M407.7 137.3h0"/><path d="M352.3 138.3h0"/><path d="M348.1 138.4h0"/><path d="M410.3 138.4h0"/><path d="M374.6 142.5h0"/><path d="M348.0 137.2h0"/><path d="M361.2 146.6h0"/><path d="M357.8 138.6h0"/><path d="M414.5 145.2h0"/><path d="M375.5 140.1h0"/><path d="M416.7 135.3h0"/><path d="M375.3 139.7h0"/><path d="M418.4 140.7h0"/><path d="M416.3 136.3h0"/><path d="M384.2 139.8h0"/><path d="M404.3 140.4h0"/><path d="M358.4 140.3h0"/><path d="M342.6 131.8h0"/><path d="M387.6 135.6h0"/><path d="M337.1 136.4h0"/><path d="M375.0 143.9h0"/><path d="M389.0 135.8h0"/><path d="M402.6 144.4h0"/><path d="M414.5 136.4h0"/><path d="M350.8 143.6h0"/><path d="M411.6 129.8h0"/><path d="M377.7 146.2h0"/><path d="M389.3 133.1h0"/><path d="M374.5 135.0h0"/><path d="M410.0 146.6h0"/><path d="M359.6 139.7h0"/><path d="M332.7 132.1h0"/><path d="M408.3 133.5h0"/><path d="M392.9 146.1h0"/><path d="M397.9 141.0h0"/><path d="M343.4 143.9h0"/><path d="M351.0 143.2h0"/><path d="M389.5 141.5h0"/><path d="M400.7 130.4h0"/><path d="M392.8 138.0h0"/><path d="M386.8 139.6h0"/><path d="M392.2 140.1h0"/><path d="M345.6 135.6h0"/><path d="M373.5 135.5h0"/><path d="M362.3 142.8h0"/><path d="M399.7 132.1h0"/><path d="M379.6 143.5h0"/><path d="M398.2 139.9h0"/><path d="M395.9 136.6h0"/><path d="M415.3 131.0h0"/><path d="M410.8 140.2h0"/><path d="M336.7 137.4h0"/><path d="M393.4 132.8h0"/><path d="M366.4 135.8h0"/><path d="M341.3 133.6h0"/><path d="M376.0 134.0h0"/><path d="M409.6 137.5h0"/><path d="M405.3 135.8h0"/><path d="M341.7 134.5h0"/><path d="M350.6 138.8h0"/><path d="M395.9 131.5h0"/><path d="M421.1 147.5h0"/><path d="M339.1 142.8h0"/><path d="M340.2 132.2h0"/><path d="M396.0 136.7h0"/><path d="M388.7 141.5h0"/><path d="M406.6 136.9h0"/><path d="M350.2 133.8h0"/><path d="M377.5 141.1h0"/><path d="M405.7 135.2h0"/><path d="M367.2 139.2h0"/><path d="M368.8 139.1h0"/><path d="M335.0 138.9h0"/><path d="M405.4 133.7h0"/><path d="M373.1 143.7h0"/><path d="M366.8 140.3h0"/><path d="M392.3 135.7h0"/><path d="M410.5 144.1h0"/><path d="M411.7 145.7h0"/><path d="M363.5 136.1h0"/><path d="M388.0 138.6h0"/><path d="M367.6 139.3h0"/><path d="M409.2 138.0h0"/><path d="M405.0 143.0h0"/><path d="M392.9 125.6h0"/><path d="M407.8 143.0h0"/><path d="M378.9 140.6h0"/><path d="M384.5 145.0h0"/><path d="M347.0 140.5h0"/><path d="M397.1 131.8h0"/><path d="M358.5 138.5h0"/><path d="M383.7 136.0h0"/><path d="M332.2 140.8h0"/><path d="M368.6 130.5h0"/><path d="M388.7 137.9h0"/><path d="M390.0 144.2h0"/><path d="M383.9 135.2h0"/><path d="M355.2 140.3h0"/><path d="M392.2 135.9h0"/><path d="M392.8 138.0h0"/><path d="M386.3 137.5h0"/><path d="M366.7 138.0h0"/><path d="M346.0 142.7h0"/><path d="M383.2 145.4h0"/><path d="M336.8 134.3h0"/><path d="M416.3 139.2h0"/><path d="M364.4 137.4h0"/><path d="M358.0 140.7h0"/><path d="M373.5 147.7h0"/><path d="M341.6 144.4h0"/><path d="M413.3 132.4h0"/><path d="M422.1 142.2h0"/><path d="M407.7 140.4h0"/><path d="M384.8 145.2h0"/><path d="M418.5 141.0h0"/><path d="M362.4 140.3h0"/><path d="M374.8 139.6h0"/><path d="M347.8 139.0h0"/><path d="M371.1 141.5h0"/><path d="M417.3 141.2h0"/><path d="M393.0 138.7h0"/><path d="M382.2 137.2h0"/><path d="M381.3 139.3h0"/><path d="M390.4 130.8h0"/><path d="M388.1 137.7h0"/><path d="M373.6 137.9h0"/><path d="M379.0 141.6h0"/><path d="M341.3 134.0h0"/><path d="M372.8 143.2h0"/><path d="M394.1 145.9h0"/><path d="M352.5 143.0h0"/><path d="M357.5 135.9h0"/><path d="M406.0 143.8h0"/><path d="M344.5 132.9h0"/><path d="M350.0 138.8h0"/><path d="M407.3 145.5h0"/><path d="M343.1 139.7h0"/><path d="M359.6 130.7h0"/><path d="M415.8 142.5h0"/><path d="M370.0 144.5h0"/><path d="M407.2 136.4h0"/><path d="M402.3 132.8h0"/><path d="M333.8 134.1h0"/><path d="M352.2 140.1h0"/><path d="M395.5 152.5h0"/><path d="M345.9 143.8h0"/><path d="M384.8 146.6h0"/><path d="M357.7 150.9h0"/><path d="M373.3 143.9h0"/><path d="M354.8 150.7h0"/><path d="M394.5 146.1h0"/><path d="M353.6 138.3h0"/><path d="M370.7 157.4h0"/><path d="M378.5 144.1h0"/><path d="M369.9 143.0h0"/><path d="M356.9 151.2h0"/><path d="M360.9 142.5h0"/><path d="M396.4 143.5h0"/><path d="M351.9 147.6h0"/><path d="M346.0 138.5h0"/><path d="M395.0 153.2h0"/><path d="M393.7 141.8h0"/><path d="M382.7 147.0h0"/><path d="M371.0 151.8h0"/><path d="M462.8 113.8h0"/><path d="M483.7 111.5h0"/><path d="M475.8 120.5h0"/><path d="M469.5 121.5h0"/><path d="M473.2 119.1h0"/><path d="M456.7 126.1h0"/><path d="M482.9 119.7h0"/><path d="M485.1 120.8h0"/><path d="M465.3 114.9h0"/><path d="M432.5 118.9h0"/><path d="M455.1 130.0h0"/><path d="M443.3 118.6h0"/><path d="M438.0 110.5h0"/><path d="M445.7 129.5h0"/><path d="M483.8 123.2h0"/><path d="M449.4 118.7h0"/><path d="M455.4 126.6h0"/><path d="M451.9 122.0h0"/><path d="M437.5 118.5h0"/><path d="M465.7 126.5h0"/><path d="M454.4 117.1h0"/><path d="M492.4 116.4h0"/><path d="M469.1 126.2h0"/><path d="M495.4 118.6h0"/><path d="M486.7 112.4h0"/><path d="M459.8 119.8h0"/><path d="M425.2 116.2h0"/><path d="M439.5 115.0h0"/><path d="M432.7 120.1h0"/><path d="M477.8 113.0h0"/><path d="M434.1 116.5h0"/><path d="M471.1 124.5h0"/><path d="M447.5 115.7h0"/><path d="M459.1 113.6h0"/><path d="M479.2 114.0h0"/><path d="M445.8 122.5h0"/><path d="M436.5 116.0h0"/><path d="M445.0 110.6h0"/><path d="M492.9 117.3h0"/><path d="M464.4 111.7h0"/><path d="M445.0 111.0h0"/><path d="M434.6 118.9h0"/><path d="M429.0 114.8h0"/><path d="M448.4 120.3h0"/><path d="M468.8 112.4h0"/><path d="M457.3 119.2h0"/><path d="M483.3 121.8h0"/><path d="M496.6 118.8h0"/><path d="M465.6 119.0h0"/><path d="M449.2 116.4h0"/><path d="M482.0 115.9h0"/><path d="M430.5 125.4h0"/><path d="M479.4 122.4h0"/><path d="M488.4 116.5h0"/><path d="M480.7 115.8h0"/><path d="M431.2 118.1h0"/><path d="M466.4 103.2h0"/><path d="M482.6 112.0h0"/><path d="M454.0 119.0h0"/><path d="M485.6 114.3h0"/><path d="M436.1 110.7h0"/><path d="M462.6 116.4h0"/><path d="M464.7 128.7h0"/><path d="M481.5 118.0h0"/><path d="M454.1 118.2h0"/><path d="M442.9 106.0h0"/><path d="M476.0 129.2h0"/><path d="M432.3 109.4h0"/><path d="M450.9 119.4h0"/><path d="M458.2 113.0h0"/><path d="M481.5 120.2h0"/><path d="M455.0 117.4h0"/><path d="M465.0 111.8h0"/><path d="M473.5 118.0h0"/><path d="M473.3 112.3h0"/><path d="M494.3 118.9h0"/><path d="M457.8 120.8h0"/><path d="M465.7 119.7h0"/><path d="M425.4 121.4h0"/><path d="M438.0 119.1h0"/><path d="M442.2 110.4h0"/><path d="M439.4 125.2h0"/><path d="M461.9 128.1h0"/><path d="M438.6 118.5h0"/><path d="M465.6 108.5h0"/><path d="M303.0 104.2h0"/><path d="M342.0 168.6h0"/><path d="M424.0 155.9h0"/><path d="M424.0 150.1h0"/><path d="M365.0 151.0h0"/><path d="M370.0 149.1h0"/><path d="M355.0 150.1h0"/><path d="M375.0 157.8h0"/><path d="M453.0 106.2h0"/><path d="M475.0 105.2h0"/><path d="M440.0 108.1h0"/><path d="M432.5 109.1h0"/><path d="M488.0 111.0h0"/><path d="M471.0 110.1h0"/><path d="M417.0 147.1h0"/><path d="M422.5 163.7h0"/><path d="M459.5 85.7h0"/><path d="M446.0 103.2h0"/></g>
<line x1="422.2" y1="174.1" x2="422.2" y2="67.3" stroke="#4a4a4a" stroke-width="1.1" stroke-dasharray="2.7 2.5" stroke-dashoffset="0.45"/>
<line x1="441.8" y1="174.1" x2="441.8" y2="67.3" stroke="#2a2a2a" stroke-width="1.9" stroke-dasharray="2.7 2.5" stroke-dashoffset="0.45"/>
<line x1="458.1" y1="174.1" x2="458.1" y2="67.3" stroke="#555" stroke-width="1.1" stroke-dasharray="2.7 2.5" stroke-dashoffset="0.45"/>
<line x1="467.2" y1="174.1" x2="467.2" y2="67.3" stroke="#555" stroke-width="1.1" stroke-dasharray="2.7 2.5" stroke-dashoffset="0.45"/>
<rect x="270.5" y="67.3" width="235.7" height="106.8" fill="none" stroke="#000" stroke-width="1.4"/>
<line x1="265.4" y1="81.8" x2="270.5" y2="81.8" stroke="#000" stroke-width="1.2"/>
<text x="261.0" y="85.7" font-size="11.8" fill="#000" text-anchor="end">2</text>
<line x1="265.4" y1="101.3" x2="270.5" y2="101.3" stroke="#000" stroke-width="1.2"/>
<text x="261.0" y="105.2" font-size="11.8" fill="#000" text-anchor="end">1</text>
<line x1="265.4" y1="120.8" x2="270.5" y2="120.8" stroke="#000" stroke-width="1.2"/>
<text x="261.0" y="124.7" font-size="11.8" fill="#000" text-anchor="end">0</text>
<line x1="265.4" y1="140.3" x2="270.5" y2="140.3" stroke="#000" stroke-width="1.2"/>
<text x="261.0" y="144.20000000000002" font-size="11.8" fill="#000" text-anchor="end" textLength="9.4" lengthAdjust="spacingAndGlyphs">-1</text>
<line x1="265.4" y1="159.8" x2="270.5" y2="159.8" stroke="#000" stroke-width="1.2"/>
<text x="261.0" y="163.70000000000002" font-size="11.8" fill="#000" text-anchor="end" textLength="9.4" lengthAdjust="spacingAndGlyphs">-2</text>
<text x="243.4" y="121.0" font-size="14.2" fill="#000" text-anchor="middle" textLength="61.5" lengthAdjust="spacingAndGlyphs" transform="rotate(-90 243.4 121.0)">Log2 ratio</text>
<line x1="280.0" y1="174.1" x2="280.0" y2="178.6" stroke="#000" stroke-width="1.2"/>
<text x="279.8" y="193.79999999999998" font-size="11.8" fill="#000" text-anchor="middle" textLength="19.3" lengthAdjust="spacingAndGlyphs">2e7</text>
<line x1="351.75" y1="174.1" x2="351.75" y2="178.6" stroke="#000" stroke-width="1.2"/>
<text x="351.55" y="193.79999999999998" font-size="11.8" fill="#000" text-anchor="middle" textLength="28.8" lengthAdjust="spacingAndGlyphs">2.5e7</text>
<line x1="423.5" y1="174.1" x2="423.5" y2="178.6" stroke="#000" stroke-width="1.2"/>
<text x="423.3" y="193.79999999999998" font-size="11.8" fill="#000" text-anchor="middle" textLength="18.6" lengthAdjust="spacingAndGlyphs">3e7</text>
<line x1="495.25" y1="174.1" x2="495.25" y2="178.6" stroke="#000" stroke-width="1.2"/>
<text x="495.05" y="193.79999999999998" font-size="11.8" fill="#000" text-anchor="middle" textLength="30" lengthAdjust="spacingAndGlyphs">3.5e7</text>
<text x="388.1" y="213.5" font-size="14.4" fill="#000" text-anchor="middle" textLength="93.6" lengthAdjust="spacingAndGlyphs">Chromosome 6</text>
<rect x="216.9" y="254.2" width="40.9" height="18.7" fill="#000"/>
<text x="237.3" y="267.5" font-size="13.2" fill="#fff" text-anchor="middle" textLength="33.4" lengthAdjust="spacingAndGlyphs">MN-04</text>
<line x1="270.5" y1="378.15" x2="506.2" y2="378.15" stroke="#f3f1f1" stroke-width="0.8"/><line x1="270.5" y1="358.65" x2="506.2" y2="358.65" stroke="#f3f1f1" stroke-width="0.8"/><line x1="270.5" y1="339.15" x2="506.2" y2="339.15" stroke="#f3f1f1" stroke-width="0.8"/><line x1="270.5" y1="319.65" x2="506.2" y2="319.65" stroke="#f3f1f1" stroke-width="0.8"/><line x1="270.5" y1="300.15" x2="506.2" y2="300.15" stroke="#f3f1f1" stroke-width="0.8"/><line x1="270.5" y1="280.65" x2="506.2" y2="280.65" stroke="#f3f1f1" stroke-width="0.8"/><line x1="315.875" y1="275.9" x2="315.875" y2="382.7" stroke="#f3f1f1" stroke-width="0.8"/><line x1="387.625" y1="275.9" x2="387.625" y2="382.7" stroke="#f3f1f1" stroke-width="0.8"/><line x1="459.375" y1="275.9" x2="459.375" y2="382.7" stroke="#f3f1f1" stroke-width="0.8"/><line x1="270.5" y1="368.4" x2="506.2" y2="368.4" stroke="#ebe8e8" stroke-width="1"/><line x1="270.5" y1="348.9" x2="506.2" y2="348.9" stroke="#ebe8e8" stroke-width="1"/><line x1="270.5" y1="329.4" x2="506.2" y2="329.4" stroke="#ebe8e8" stroke-width="1"/><line x1="270.5" y1="309.9" x2="506.2" y2="309.9" stroke="#ebe8e8" stroke-width="1"/><line x1="270.5" y1="290.4" x2="506.2" y2="290.4" stroke="#ebe8e8" stroke-width="1"/><line x1="280.0" y1="275.9" x2="280.0" y2="382.7" stroke="#ebe8e8" stroke-width="1"/><line x1="351.75" y1="275.9" x2="351.75" y2="382.7" stroke="#ebe8e8" stroke-width="1"/><line x1="423.5" y1="275.9" x2="423.5" y2="382.7" stroke="#ebe8e8" stroke-width="1"/><line x1="495.25" y1="275.9" x2="495.25" y2="382.7" stroke="#ebe8e8" stroke-width="1"/>
<g stroke="#bbbbbb" stroke-width="2.0" stroke-linecap="round" stroke-opacity="1.0" fill="none"><path d="M293.8 325.4h0"/><path d="M296.7 327.4h0"/><path d="M282.4 326.4h0"/><path d="M286.5 329.7h0"/><path d="M297.9 329.3h0"/><path d="M289.5 324.5h0"/><path d="M283.1 335.7h0"/><path d="M281.7 327.0h0"/><path d="M282.5 316.7h0"/><path d="M282.1 335.2h0"/><path d="M287.1 322.8h0"/><path d="M295.5 334.9h0"/><path d="M289.1 327.1h0"/><path d="M282.0 322.4h0"/><path d="M287.1 323.0h0"/><path d="M289.7 331.9h0"/><path d="M289.0 333.3h0"/><path d="M292.8 333.9h0"/><path d="M293.6 325.9h0"/><path d="M295.0 330.0h0"/><path d="M290.7 328.6h0"/><path d="M280.6 327.6h0"/><path d="M295.4 327.1h0"/><path d="M295.7 326.6h0"/><path d="M294.6 328.2h0"/><path d="M288.8 334.6h0"/><path d="M297.7 323.2h0"/><path d="M281.9 338.8h0"/><path d="M294.8 324.1h0"/><path d="M291.9 330.9h0"/><path d="M294.0 329.4h0"/><path d="M281.3 330.6h0"/><path d="M299.4 330.0h0"/><path d="M280.6 328.7h0"/><path d="M283.5 329.7h0"/><path d="M290.3 332.7h0"/><path d="M291.5 325.5h0"/><path d="M283.6 330.8h0"/><path d="M285.7 323.7h0"/><path d="M298.3 329.2h0"/><path d="M286.4 331.3h0"/><path d="M288.9 327.1h0"/><path d="M282.2 325.4h0"/><path d="M291.4 332.1h0"/><path d="M294.0 329.7h0"/><path d="M294.8 323.4h0"/><path d="M284.7 332.4h0"/><path d="M287.4 331.8h0"/><path d="M293.1 328.1h0"/><path d="M299.5 333.2h0"/><path d="M295.4 337.8h0"/><path d="M284.4 334.9h0"/><path d="M281.3 327.3h0"/><path d="M286.6 326.3h0"/><path d="M290.6 326.5h0"/><path d="M285.4 327.2h0"/><path d="M295.8 333.2h0"/><path d="M285.1 326.2h0"/><path d="M282.5 324.4h0"/><path d="M292.0 331.3h0"/><path d="M295.2 325.2h0"/><path d="M284.1 330.0h0"/><path d="M286.7 328.0h0"/><path d="M285.2 327.3h0"/><path d="M280.6 334.2h0"/><path d="M293.7 323.2h0"/><path d="M281.0 331.8h0"/><path d="M292.2 329.0h0"/><path d="M292.5 330.5h0"/><path d="M290.6 327.0h0"/><path d="M280.8 327.1h0"/><path d="M280.7 328.6h0"/><path d="M290.3 323.4h0"/><path d="M289.8 327.6h0"/><path d="M280.3 330.1h0"/><path d="M280.2 339.3h0"/><path d="M295.5 329.7h0"/><path d="M286.5 329.7h0"/><path d="M294.3 331.9h0"/><path d="M284.0 331.9h0"/><path d="M285.3 326.5h0"/><path d="M298.0 324.8h0"/><path d="M284.0 321.6h0"/><path d="M288.2 324.4h0"/><path d="M290.0 331.3h0"/><path d="M294.2 327.7h0"/><path d="M286.4 333.7h0"/><path d="M293.0 326.0h0"/><path d="M284.4 327.3h0"/><path d="M293.6 330.9h0"/><path d="M280.4 329.1h0"/><path d="M283.7 329.6h0"/><path d="M281.2 331.0h0"/><path d="M282.0 323.8h0"/><path d="M295.0 317.2h0"/><path d="M289.3 325.6h0"/><path d="M295.7 324.7h0"/><path d="M299.5 328.1h0"/><path d="M283.7 330.0h0"/><path d="M295.4 320.5h0"/><path d="M299.4 330.0h0"/><path d="M286.2 327.2h0"/><path d="M281.5 329.1h0"/><path d="M289.2 326.5h0"/><path d="M290.9 328.8h0"/><path d="M293.8 326.5h0"/><path d="M291.4 333.3h0"/><path d="M286.0 329.0h0"/><path d="M283.2 323.6h0"/><path d="M286.8 332.5h0"/><path d="M289.4 331.1h0"/><path d="M283.7 323.6h0"/><path d="M286.0 327.2h0"/><path d="M297.7 324.7h0"/><path d="M288.5 336.9h0"/><path d="M282.5 328.1h0"/><path d="M293.3 333.4h0"/><path d="M287.1 333.8h0"/><path d="M290.3 327.1h0"/><path d="M287.9 324.3h0"/><path d="M282.3 334.2h0"/><path d="M294.7 332.8h0"/><path d="M291.4 330.8h0"/><path d="M299.8 329.1h0"/><path d="M280.1 333.6h0"/><path d="M291.5 320.3h0"/><path d="M288.5 326.5h0"/><path d="M288.7 330.0h0"/><path d="M294.5 330.6h0"/><path d="M284.8 320.1h0"/><path d="M288.0 320.4h0"/><path d="M282.7 330.5h0"/><path d="M291.3 327.4h0"/><path d="M288.7 324.0h0"/><path d="M280.9 333.1h0"/><path d="M284.6 330.9h0"/><path d="M287.9 323.7h0"/><path d="M290.6 331.3h0"/><path d="M281.9 330.3h0"/><path d="M292.4 333.7h0"/><path d="M296.4 331.5h0"/><path d="M286.7 326.2h0"/><path d="M281.3 331.8h0"/><path d="M282.9 333.6h0"/><path d="M295.3 331.1h0"/><path d="M290.6 322.1h0"/><path d="M282.7 328.1h0"/><path d="M283.4 330.8h0"/><path d="M296.7 328.2h0"/><path d="M293.6 327.1h0"/><path d="M293.9 328.3h0"/><path d="M282.8 335.5h0"/><path d="M299.8 327.6h0"/><path d="M285.1 329.6h0"/><path d="M287.1 325.6h0"/><path d="M284.7 333.8h0"/><path d="M298.9 324.9h0"/><path d="M292.6 330.6h0"/><path d="M291.1 335.1h0"/><path d="M288.3 323.8h0"/><path d="M294.3 330.7h0"/><path d="M289.4 327.4h0"/><path d="M289.2 329.4h0"/><path d="M283.0 324.7h0"/><path d="M296.5 324.7h0"/><path d="M281.3 324.6h0"/><path d="M298.1 326.1h0"/><path d="M298.3 334.8h0"/><path d="M290.5 335.1h0"/><path d="M283.3 328.1h0"/><path d="M284.4 332.4h0"/><path d="M282.8 327.1h0"/><path d="M294.0 328.2h0"/><path d="M287.3 334.1h0"/><path d="M299.6 332.7h0"/><path d="M286.8 333.1h0"/><path d="M286.6 332.1h0"/><path d="M293.5 329.6h0"/><path d="M297.6 326.3h0"/><path d="M290.5 323.8h0"/><path d="M282.4 332.4h0"/><path d="M283.4 330.9h0"/><path d="M294.3 323.0h0"/><path d="M295.3 325.5h0"/><path d="M299.8 327.9h0"/><path d="M291.5 337.6h0"/><path d="M295.6 332.6h0"/><path d="M293.5 328.2h0"/><path d="M291.0 331.0h0"/><path d="M296.2 321.4h0"/><path d="M284.1 328.5h0"/><path d="M283.1 327.8h0"/><path d="M286.2 332.9h0"/><path d="M287.7 332.7h0"/><path d="M299.0 331.3h0"/><path d="M296.5 331.2h0"/><path d="M294.9 329.7h0"/><path d="M297.8 327.4h0"/><path d="M287.7 327.9h0"/><path d="M299.7 325.1h0"/><path d="M298.2 333.9h0"/><path d="M283.7 328.0h0"/><path d="M287.6 327.9h0"/><path d="M286.2 322.9h0"/><path d="M283.9 329.6h0"/><path d="M298.7 327.6h0"/><path d="M287.8 331.9h0"/><path d="M297.4 327.2h0"/><path d="M291.9 327.3h0"/><path d="M281.2 331.2h0"/><path d="M288.7 330.5h0"/><path d="M295.6 328.9h0"/><path d="M286.4 326.7h0"/><path d="M285.9 333.1h0"/><path d="M281.9 325.5h0"/><path d="M289.5 330.1h0"/><path d="M298.8 321.7h0"/><path d="M280.4 323.4h0"/><path d="M297.7 330.3h0"/><path d="M292.0 331.2h0"/><path d="M285.6 319.6h0"/><path d="M298.0 326.5h0"/><path d="M298.6 326.7h0"/><path d="M299.5 330.4h0"/><path d="M289.3 329.3h0"/><path d="M288.3 325.8h0"/><path d="M293.3 326.5h0"/><path d="M297.8 331.9h0"/><path d="M287.0 324.2h0"/><path d="M286.6 327.7h0"/><path d="M288.2 332.4h0"/><path d="M280.4 325.1h0"/><path d="M296.8 329.5h0"/><path d="M289.2 325.9h0"/><path d="M289.3 330.9h0"/><path d="M292.7 327.5h0"/><path d="M296.2 334.9h0"/><path d="M294.1 327.4h0"/><path d="M286.7 334.5h0"/><path d="M285.9 328.2h0"/><path d="M286.7 338.3h0"/><path d="M290.6 329.1h0"/><path d="M296.2 326.1h0"/><path d="M280.2 327.0h0"/><path d="M292.1 324.3h0"/><path d="M296.9 332.8h0"/><path d="M291.2 323.0h0"/><path d="M287.6 322.8h0"/><path d="M289.5 333.3h0"/><path d="M290.3 331.8h0"/><path d="M292.5 331.0h0"/><path d="M281.5 328.9h0"/><path d="M295.8 328.1h0"/><path d="M291.0 338.1h0"/><path d="M285.5 326.6h0"/><path d="M298.3 329.8h0"/><path d="M288.0 332.6h0"/><path d="M295.5 325.3h0"/><path d="M286.0 330.1h0"/><path d="M291.0 324.6h0"/><path d="M308.4 322.5h0"/><path d="M300.9 327.7h0"/><path d="M304.4 327.4h0"/><path d="M302.2 328.2h0"/><path d="M305.2 330.7h0"/><path d="M302.5 331.6h0"/><path d="M300.7 325.6h0"/><path d="M305.3 330.2h0"/><path d="M304.7 322.9h0"/><path d="M308.8 328.1h0"/><path d="M300.2 328.5h0"/><path d="M307.6 329.6h0"/><path d="M300.5 329.1h0"/><path d="M305.8 328.7h0"/><path d="M300.2 323.1h0"/><path d="M310.9 320.1h0"/><path d="M305.9 333.1h0"/><path d="M305.7 327.8h0"/><path d="M300.9 326.2h0"/><path d="M309.4 332.2h0"/><path d="M303.2 331.2h0"/><path d="M305.6 330.5h0"/><path d="M308.7 337.8h0"/><path d="M309.5 326.4h0"/><path d="M304.6 329.0h0"/><path d="M300.7 329.1h0"/><path d="M311.8 328.5h0"/><path d="M303.1 327.9h0"/><path d="M300.5 320.2h0"/><path d="M307.4 328.1h0"/><path d="M310.5 325.7h0"/><path d="M301.1 330.7h0"/><path d="M300.5 327.5h0"/><path d="M308.1 329.9h0"/><path d="M306.9 329.3h0"/><path d="M303.1 332.1h0"/><path d="M303.2 331.8h0"/><path d="M309.2 327.1h0"/><path d="M300.3 326.0h0"/><path d="M302.9 327.1h0"/><path d="M304.4 331.3h0"/><path d="M309.3 327.6h0"/><path d="M303.8 338.2h0"/><path d="M300.7 325.3h0"/><path d="M308.9 328.9h0"/><path d="M308.3 327.8h0"/><path d="M301.5 324.4h0"/><path d="M308.7 330.3h0"/><path d="M307.5 325.2h0"/><path d="M304.4 330.4h0"/><path d="M306.9 326.7h0"/><path d="M306.0 330.3h0"/><path d="M309.5 327.6h0"/><path d="M311.4 323.3h0"/><path d="M304.1 331.2h0"/><path d="M301.1 331.0h0"/><path d="M304.4 330.0h0"/><path d="M307.2 327.6h0"/><path d="M303.1 318.5h0"/><path d="M301.9 330.9h0"/><path d="M302.5 336.3h0"/><path d="M310.2 331.2h0"/><path d="M308.6 334.6h0"/><path d="M301.5 330.8h0"/><path d="M303.6 328.7h0"/><path d="M303.3 332.3h0"/><path d="M301.3 331.2h0"/><path d="M310.1 335.7h0"/><path d="M303.5 328.0h0"/><path d="M306.8 331.5h0"/><path d="M304.6 324.7h0"/><path d="M300.8 324.8h0"/><path d="M300.4 331.9h0"/><path d="M308.3 330.1h0"/><path d="M307.5 328.5h0"/><path d="M305.9 325.9h0"/><path d="M302.1 334.9h0"/><path d="M304.1 329.0h0"/><path d="M306.1 321.8h0"/><path d="M302.6 329.0h0"/><path d="M306.9 327.9h0"/><path d="M310.1 328.7h0"/><path d="M302.1 333.1h0"/><path d="M311.2 325.1h0"/><path d="M306.1 327.7h0"/><path d="M311.7 328.1h0"/><path d="M311.6 326.0h0"/><path d="M300.8 325.7h0"/><path d="M308.2 335.7h0"/><path d="M302.9 326.9h0"/><path d="M324.7 327.4h0"/><path d="M317.5 324.0h0"/><path d="M324.9 332.9h0"/><path d="M319.8 331.1h0"/><path d="M318.6 329.9h0"/><path d="M319.1 328.3h0"/><path d="M317.8 327.4h0"/><path d="M321.7 330.2h0"/><path d="M319.4 321.7h0"/><path d="M324.3 330.9h0"/><path d="M318.6 329.0h0"/><path d="M312.7 324.2h0"/><path d="M314.2 325.4h0"/><path d="M317.8 328.3h0"/><path d="M318.6 326.8h0"/><path d="M323.4 325.2h0"/><path d="M320.3 328.3h0"/><path d="M314.4 325.8h0"/><path d="M316.2 331.7h0"/><path d="M319.5 328.0h0"/><path d="M323.1 334.4h0"/><path d="M321.9 331.6h0"/><path d="M321.0 332.6h0"/><path d="M315.6 323.6h0"/><path d="M320.0 330.0h0"/><path d="M315.4 327.2h0"/><path d="M312.9 331.8h0"/><path d="M322.6 329.1h0"/><path d="M321.1 329.4h0"/><path d="M325.8 331.5h0"/><path d="M322.5 325.1h0"/><path d="M315.5 334.6h0"/><path d="M312.4 326.0h0"/><path d="M318.0 318.3h0"/><path d="M316.8 331.4h0"/><path d="M319.2 328.2h0"/><path d="M317.2 334.2h0"/><path d="M312.7 328.5h0"/><path d="M313.0 334.9h0"/><path d="M317.0 326.0h0"/><path d="M320.2 330.2h0"/><path d="M314.5 335.4h0"/><path d="M314.5 333.3h0"/><path d="M315.2 334.4h0"/><path d="M322.4 329.5h0"/><path d="M322.7 325.2h0"/><path d="M318.8 330.0h0"/><path d="M312.8 332.9h0"/><path d="M325.2 331.6h0"/><path d="M324.2 328.1h0"/><path d="M316.2 337.7h0"/><path d="M312.1 326.3h0"/><path d="M318.9 327.0h0"/><path d="M314.4 337.8h0"/><path d="M317.3 324.1h0"/><path d="M317.6 334.7h0"/><path d="M316.4 329.4h0"/><path d="M324.8 324.1h0"/><path d="M317.5 334.8h0"/><path d="M313.6 335.6h0"/><path d="M320.0 332.9h0"/><path d="M324.4 332.7h0"/><path d="M315.2 329.2h0"/><path d="M319.1 330.6h0"/><path d="M317.3 330.5h0"/><path d="M321.5 330.5h0"/><path d="M316.4 329.4h0"/><path d="M315.6 331.9h0"/><path d="M325.5 327.4h0"/><path d="M323.5 328.7h0"/><path d="M321.8 332.5h0"/><path d="M321.2 321.8h0"/><path d="M325.1 333.5h0"/><path d="M312.8 325.9h0"/><path d="M318.2 331.5h0"/><path d="M320.7 327.3h0"/><path d="M313.8 326.7h0"/><path d="M325.9 325.4h0"/><path d="M321.6 323.3h0"/><path d="M322.6 331.8h0"/><path d="M325.5 317.8h0"/><path d="M320.1 327.1h0"/><path d="M324.8 331.7h0"/><path d="M317.2 333.7h0"/><path d="M324.9 319.7h0"/><path d="M319.1 322.4h0"/><path d="M322.9 328.6h0"/><path d="M315.8 325.7h0"/><path d="M318.7 323.6h0"/><path d="M319.8 328.2h0"/><path d="M319.2 330.2h0"/><path d="M324.9 328.7h0"/><path d="M318.4 325.4h0"/><path d="M324.3 328.5h0"/><path d="M313.6 333.2h0"/><path d="M314.9 325.7h0"/><path d="M314.5 335.1h0"/><path d="M314.6 331.4h0"/><path d="M320.2 323.8h0"/><path d="M313.4 327.6h0"/><path d="M321.4 327.6h0"/><path d="M324.2 328.1h0"/><path d="M324.9 324.6h0"/><path d="M312.8 328.7h0"/><path d="M315.4 335.9h0"/><path d="M318.2 327.6h0"/><path d="M312.2 340.1h0"/><path d="M321.4 336.3h0"/><path d="M318.4 322.5h0"/><path d="M318.0 324.6h0"/><path d="M314.2 330.3h0"/><path d="M313.0 328.8h0"/><path d="M324.4 328.2h0"/><path d="M320.4 324.7h0"/><path d="M316.8 331.5h0"/><path d="M324.3 331.9h0"/><path d="M313.6 330.9h0"/><path d="M317.6 328.0h0"/><path d="M313.0 327.5h0"/><path d="M323.1 330.0h0"/><path d="M324.4 325.7h0"/><path d="M316.0 332.4h0"/><path d="M323.5 328.8h0"/><path d="M325.3 331.2h0"/><path d="M315.2 332.4h0"/><path d="M325.5 323.9h0"/><path d="M316.7 329.8h0"/><path d="M321.9 332.4h0"/><path d="M319.5 328.4h0"/><path d="M316.9 332.3h0"/><path d="M320.4 326.3h0"/><path d="M312.0 325.3h0"/><path d="M319.0 324.7h0"/><path d="M319.0 332.6h0"/><path d="M320.9 329.1h0"/><path d="M322.7 321.6h0"/><path d="M324.3 329.4h0"/><path d="M323.2 323.8h0"/><path d="M324.2 322.8h0"/><path d="M317.3 333.8h0"/><path d="M313.5 324.0h0"/><path d="M321.1 325.7h0"/><path d="M312.6 325.2h0"/><path d="M325.4 322.1h0"/><path d="M318.8 326.8h0"/><path d="M315.6 328.2h0"/><path d="M312.4 326.2h0"/><path d="M323.8 329.8h0"/><path d="M323.7 326.7h0"/><path d="M313.9 336.2h0"/><path d="M330.2 328.9h0"/><path d="M330.0 330.0h0"/><path d="M334.2 326.4h0"/><path d="M332.3 329.9h0"/><path d="M326.3 326.4h0"/><path d="M329.5 328.4h0"/><path d="M330.6 324.6h0"/><path d="M330.4 331.7h0"/><path d="M335.4 328.5h0"/><path d="M335.9 327.5h0"/><path d="M337.4 327.3h0"/><path d="M337.3 324.6h0"/><path d="M331.9 327.3h0"/><path d="M332.7 325.4h0"/><path d="M333.2 321.5h0"/><path d="M332.1 325.7h0"/><path d="M326.5 332.7h0"/><path d="M327.3 334.1h0"/><path d="M335.6 326.3h0"/><path d="M335.0 330.2h0"/><path d="M329.7 327.7h0"/><path d="M328.4 329.4h0"/><path d="M332.8 323.9h0"/><path d="M336.2 324.3h0"/><path d="M326.7 333.0h0"/><path d="M333.8 327.8h0"/><path d="M328.7 329.9h0"/><path d="M329.1 333.7h0"/><path d="M331.3 326.4h0"/><path d="M328.0 329.3h0"/><path d="M334.9 327.2h0"/><path d="M327.2 319.6h0"/><path d="M331.9 323.9h0"/><path d="M334.0 324.7h0"/><path d="M336.0 330.3h0"/><path d="M332.6 333.2h0"/><path d="M327.6 324.2h0"/><path d="M335.7 329.9h0"/><path d="M337.3 328.6h0"/><path d="M326.4 330.2h0"/><path d="M337.0 328.4h0"/><path d="M333.5 319.9h0"/><path d="M333.2 330.0h0"/><path d="M330.7 329.9h0"/><path d="M328.0 328.1h0"/><path d="M333.2 327.8h0"/><path d="M336.6 333.3h0"/><path d="M326.3 335.4h0"/><path d="M332.7 331.0h0"/><path d="M333.7 329.6h0"/><path d="M337.0 331.8h0"/><path d="M326.2 332.6h0"/><path d="M330.4 332.3h0"/><path d="M327.5 330.3h0"/><path d="M329.7 329.3h0"/><path d="M336.9 334.9h0"/><path d="M328.2 330.9h0"/><path d="M330.3 327.6h0"/><path d="M335.9 329.4h0"/><path d="M335.0 333.9h0"/><path d="M337.0 330.2h0"/><path d="M327.5 329.0h0"/><path d="M326.9 326.1h0"/><path d="M328.7 334.9h0"/><path d="M331.9 326.4h0"/><path d="M334.2 330.6h0"/><path d="M327.4 328.2h0"/><path d="M333.5 326.4h0"/><path d="M328.7 332.1h0"/><path d="M337.6 331.9h0"/><path d="M332.7 329.3h0"/><path d="M327.7 326.2h0"/><path d="M336.0 330.9h0"/><path d="M331.9 334.2h0"/><path d="M335.2 331.5h0"/><path d="M332.5 327.5h0"/><path d="M336.6 324.7h0"/><path d="M329.4 330.8h0"/><path d="M337.6 330.2h0"/><path d="M326.2 329.6h0"/><path d="M348.4 330.4h0"/><path d="M349.7 323.9h0"/><path d="M348.8 329.3h0"/><path d="M348.1 332.1h0"/><path d="M343.4 339.9h0"/><path d="M350.5 327.6h0"/><path d="M346.8 328.4h0"/><path d="M355.0 326.6h0"/><path d="M343.8 321.2h0"/><path d="M341.9 328.8h0"/><path d="M355.2 328.3h0"/><path d="M348.7 331.4h0"/><path d="M342.6 329.0h0"/><path d="M353.6 328.9h0"/><path d="M343.7 326.0h0"/><path d="M352.4 326.8h0"/><path d="M351.1 331.6h0"/><path d="M343.8 330.6h0"/><path d="M350.8 323.7h0"/><path d="M347.8 332.4h0"/><path d="M338.6 326.0h0"/><path d="M357.6 322.8h0"/><path d="M343.2 326.4h0"/><path d="M345.7 327.9h0"/><path d="M355.6 323.8h0"/><path d="M351.8 327.5h0"/><path d="M341.4 328.8h0"/><path d="M350.8 329.6h0"/><path d="M338.4 324.6h0"/><path d="M353.0 326.2h0"/><path d="M350.1 323.1h0"/><path d="M351.3 330.1h0"/><path d="M349.4 330.0h0"/><path d="M345.1 330.4h0"/><path d="M351.1 327.8h0"/><path d="M347.2 331.4h0"/><path d="M353.0 325.4h0"/><path d="M338.7 327.6h0"/><path d="M343.3 332.5h0"/><path d="M341.1 339.8h0"/><path d="M348.2 335.6h0"/><path d="M350.4 323.5h0"/><path d="M342.4 329.0h0"/><path d="M356.9 328.3h0"/><path d="M345.4 330.4h0"/><path d="M338.3 327.4h0"/><path d="M352.5 335.9h0"/><path d="M340.2 336.2h0"/><path d="M338.3 334.9h0"/><path d="M343.8 328.6h0"/><path d="M347.4 326.2h0"/><path d="M342.8 327.1h0"/><path d="M344.6 329.3h0"/><path d="M340.6 333.6h0"/><path d="M345.1 325.9h0"/><path d="M353.9 329.9h0"/><path d="M344.2 328.9h0"/><path d="M349.6 329.1h0"/><path d="M342.2 330.6h0"/><path d="M340.5 331.5h0"/><path d="M344.4 331.0h0"/><path d="M338.7 333.6h0"/><path d="M347.5 327.9h0"/><path d="M352.1 329.5h0"/><path d="M346.4 325.1h0"/><path d="M342.5 335.5h0"/><path d="M344.5 324.5h0"/><path d="M354.4 329.1h0"/><path d="M342.8 329.4h0"/><path d="M344.6 331.8h0"/><path d="M351.7 331.9h0"/><path d="M343.0 334.4h0"/><path d="M356.6 325.5h0"/><path d="M341.5 329.6h0"/><path d="M338.5 326.2h0"/><path d="M346.5 325.8h0"/><path d="M348.8 330.7h0"/><path d="M349.4 329.7h0"/><path d="M344.5 330.1h0"/><path d="M353.6 325.0h0"/><path d="M354.9 328.3h0"/><path d="M347.8 328.2h0"/><path d="M354.4 326.2h0"/><path d="M354.1 329.1h0"/><path d="M341.6 321.3h0"/><path d="M340.8 332.3h0"/><path d="M340.6 324.2h0"/><path d="M339.7 323.6h0"/><path d="M353.5 333.1h0"/><path d="M345.6 325.6h0"/><path d="M340.8 327.8h0"/><path d="M349.0 325.6h0"/><path d="M343.9 333.3h0"/><path d="M339.0 327.9h0"/><path d="M346.3 332.4h0"/><path d="M354.5 330.0h0"/><path d="M352.1 323.6h0"/><path d="M357.7 329.3h0"/><path d="M347.5 337.2h0"/><path d="M357.3 334.0h0"/><path d="M345.6 333.0h0"/><path d="M347.8 325.1h0"/><path d="M352.9 331.4h0"/><path d="M347.2 334.6h0"/><path d="M341.3 324.7h0"/><path d="M352.2 327.9h0"/><path d="M356.3 327.5h0"/><path d="M345.1 331.8h0"/><path d="M346.3 323.5h0"/><path d="M344.2 329.3h0"/><path d="M351.8 336.1h0"/><path d="M347.8 333.0h0"/><path d="M342.6 331.9h0"/><path d="M356.0 329.4h0"/><path d="M338.3 326.0h0"/><path d="M354.7 331.5h0"/><path d="M355.3 331.0h0"/><path d="M339.9 320.6h0"/><path d="M338.3 328.5h0"/><path d="M350.9 330.8h0"/><path d="M349.7 328.7h0"/><path d="M341.5 333.5h0"/><path d="M346.7 326.8h0"/><path d="M339.9 325.2h0"/><path d="M346.3 331.0h0"/><path d="M348.5 325.1h0"/><path d="M355.9 329.9h0"/><path d="M345.5 327.7h0"/><path d="M341.2 331.6h0"/><path d="M357.0 331.8h0"/><path d="M350.7 334.4h0"/><path d="M340.7 328.0h0"/><path d="M339.2 329.9h0"/><path d="M345.6 329.8h0"/><path d="M342.8 333.0h0"/><path d="M345.3 333.1h0"/><path d="M343.4 331.2h0"/><path d="M356.2 327.1h0"/><path d="M354.2 327.7h0"/><path d="M351.4 331.3h0"/><path d="M339.8 327.7h0"/><path d="M353.8 322.3h0"/><path d="M346.0 328.4h0"/><path d="M355.4 321.3h0"/><path d="M339.0 327.2h0"/><path d="M340.9 323.9h0"/><path d="M340.6 330.8h0"/><path d="M354.3 324.5h0"/><path d="M357.1 333.2h0"/><path d="M352.9 327.9h0"/><path d="M344.2 330.1h0"/><path d="M339.0 336.2h0"/><path d="M357.3 333.9h0"/><path d="M341.4 324.6h0"/><path d="M354.2 327.0h0"/><path d="M347.4 324.0h0"/><path d="M344.8 328.1h0"/><path d="M346.2 339.6h0"/><path d="M339.5 327.9h0"/><path d="M340.3 330.9h0"/><path d="M355.3 330.7h0"/><path d="M347.1 330.5h0"/><path d="M351.4 331.7h0"/><path d="M344.7 332.4h0"/><path d="M347.6 324.2h0"/><path d="M353.9 327.2h0"/><path d="M350.9 331.2h0"/><path d="M346.0 330.4h0"/><path d="M347.2 325.2h0"/><path d="M357.7 327.4h0"/><path d="M338.6 328.1h0"/><path d="M346.0 333.4h0"/><path d="M340.6 330.4h0"/><path d="M340.1 333.0h0"/><path d="M339.1 335.9h0"/><path d="M353.3 325.5h0"/><path d="M347.1 330.1h0"/><path d="M349.0 330.4h0"/><path d="M344.0 332.4h0"/><path d="M345.9 326.0h0"/><path d="M347.0 321.1h0"/><path d="M354.6 326.7h0"/><path d="M339.8 325.4h0"/><path d="M341.6 333.5h0"/><path d="M341.4 328.2h0"/><path d="M347.3 328.0h0"/><path d="M347.5 323.3h0"/><path d="M351.6 328.8h0"/><path d="M357.8 332.3h0"/><path d="M356.3 329.1h0"/><path d="M342.8 330.5h0"/><path d="M346.2 323.5h0"/><path d="M348.6 326.4h0"/><path d="M353.8 327.6h0"/><path d="M348.2 328.2h0"/><path d="M341.2 325.7h0"/><path d="M339.0 330.7h0"/><path d="M344.8 332.3h0"/><path d="M350.1 335.8h0"/><path d="M341.6 324.5h0"/><path d="M347.1 327.0h0"/><path d="M345.7 326.5h0"/><path d="M357.2 328.7h0"/><path d="M352.0 322.7h0"/><path d="M357.5 332.5h0"/><path d="M348.4 324.4h0"/><path d="M347.8 332.0h0"/><path d="M357.5 330.5h0"/><path d="M346.2 333.4h0"/><path d="M349.1 328.5h0"/><path d="M338.5 329.9h0"/><path d="M341.4 327.3h0"/><path d="M343.7 331.0h0"/><path d="M342.9 334.0h0"/><path d="M346.7 326.8h0"/><path d="M355.8 324.1h0"/><path d="M342.2 326.2h0"/><path d="M339.0 329.1h0"/><path d="M349.3 327.4h0"/><path d="M345.3 335.2h0"/><path d="M338.9 330.1h0"/><path d="M353.2 324.6h0"/><path d="M356.8 327.2h0"/><path d="M352.9 332.1h0"/><path d="M354.0 325.7h0"/><path d="M353.2 329.4h0"/><path d="M357.6 326.2h0"/><path d="M340.8 334.1h0"/><path d="M355.5 330.9h0"/><path d="M352.0 327.7h0"/><path d="M357.0 327.8h0"/><path d="M354.9 326.9h0"/><path d="M349.0 328.9h0"/><path d="M351.2 329.6h0"/><path d="M342.9 327.2h0"/><path d="M344.7 325.7h0"/><path d="M341.0 334.5h0"/><path d="M346.1 330.1h0"/><path d="M354.5 329.7h0"/><path d="M344.8 328.3h0"/><path d="M355.6 325.2h0"/><path d="M341.9 333.8h0"/><path d="M350.9 326.9h0"/><path d="M342.7 335.3h0"/><path d="M350.7 331.7h0"/><path d="M353.7 330.8h0"/><path d="M355.6 329.9h0"/><path d="M353.2 331.2h0"/><path d="M340.8 330.8h0"/><path d="M351.7 330.2h0"/><path d="M343.9 329.9h0"/><path d="M348.1 335.7h0"/><path d="M340.8 334.1h0"/><path d="M346.8 330.5h0"/><path d="M351.2 326.9h0"/><path d="M340.3 325.2h0"/><path d="M349.8 318.4h0"/><path d="M355.7 328.5h0"/><path d="M348.5 331.8h0"/><path d="M344.5 328.2h0"/><path d="M374.1 338.6h0"/><path d="M368.7 324.4h0"/><path d="M359.7 324.4h0"/><path d="M369.3 323.5h0"/><path d="M366.6 325.5h0"/><path d="M372.1 334.9h0"/><path d="M361.2 323.5h0"/><path d="M363.9 327.4h0"/><path d="M366.3 325.2h0"/><path d="M366.7 329.3h0"/><path d="M360.4 329.6h0"/><path d="M372.1 329.6h0"/><path d="M360.7 322.8h0"/><path d="M365.9 327.7h0"/><path d="M367.7 329.4h0"/><path d="M365.5 333.4h0"/><path d="M363.8 327.0h0"/><path d="M370.3 328.6h0"/><path d="M366.9 328.1h0"/><path d="M369.6 325.0h0"/><path d="M371.0 326.0h0"/><path d="M373.7 328.7h0"/><path d="M366.4 327.9h0"/><path d="M365.1 328.4h0"/><path d="M373.6 326.0h0"/><path d="M374.4 326.1h0"/><path d="M372.8 328.2h0"/><path d="M361.5 331.8h0"/><path d="M373.4 325.6h0"/><path d="M369.0 325.4h0"/><path d="M366.9 332.6h0"/><path d="M360.2 327.3h0"/><path d="M360.8 330.1h0"/><path d="M372.7 336.8h0"/><path d="M362.9 328.9h0"/><path d="M366.1 325.2h0"/><path d="M365.3 331.4h0"/><path d="M364.6 331.3h0"/><path d="M365.2 324.9h0"/><path d="M362.8 332.8h0"/><path d="M373.3 332.2h0"/><path d="M366.7 329.9h0"/><path d="M363.0 326.4h0"/><path d="M361.6 326.4h0"/><path d="M371.6 330.7h0"/><path d="M371.4 329.9h0"/><path d="M372.0 328.4h0"/><path d="M368.1 330.2h0"/><path d="M363.6 331.9h0"/><path d="M361.6 332.8h0"/><path d="M364.3 326.1h0"/><path d="M359.5 329.5h0"/><path d="M362.7 318.2h0"/><path d="M363.9 326.4h0"/><path d="M360.0 331.5h0"/><path d="M360.6 328.7h0"/><path d="M360.0 327.5h0"/><path d="M364.6 327.3h0"/><path d="M373.8 327.1h0"/><path d="M374.3 327.1h0"/><path d="M359.8 329.2h0"/><path d="M368.1 326.3h0"/><path d="M358.1 320.7h0"/><path d="M369.3 330.4h0"/><path d="M368.6 330.1h0"/><path d="M366.7 326.1h0"/><path d="M362.7 324.1h0"/><path d="M365.9 325.7h0"/><path d="M358.7 324.2h0"/><path d="M369.1 328.9h0"/><path d="M371.2 329.6h0"/><path d="M359.5 326.3h0"/><path d="M375.0 326.2h0"/><path d="M361.0 322.6h0"/><path d="M373.6 323.0h0"/><path d="M374.6 335.5h0"/><path d="M365.2 325.9h0"/><path d="M372.3 331.2h0"/><path d="M367.5 336.5h0"/><path d="M362.6 327.3h0"/><path d="M369.7 329.4h0"/><path d="M364.1 330.0h0"/><path d="M360.6 333.5h0"/><path d="M371.1 332.5h0"/><path d="M361.2 329.5h0"/><path d="M373.9 334.3h0"/><path d="M361.4 329.2h0"/><path d="M363.5 328.3h0"/><path d="M371.6 329.3h0"/><path d="M372.2 327.7h0"/><path d="M364.8 329.0h0"/><path d="M368.4 333.1h0"/><path d="M374.0 332.6h0"/><path d="M362.9 328.3h0"/><path d="M362.6 325.2h0"/><path d="M359.8 328.2h0"/><path d="M369.7 330.6h0"/><path d="M369.7 328.2h0"/><path d="M360.1 335.5h0"/><path d="M370.2 332.5h0"/><path d="M362.9 330.2h0"/><path d="M366.7 329.0h0"/><path d="M367.5 330.0h0"/><path d="M367.9 329.8h0"/><path d="M367.4 333.2h0"/><path d="M364.8 330.9h0"/><path d="M369.9 327.9h0"/><path d="M361.6 335.6h0"/><path d="M372.8 333.2h0"/><path d="M364.6 330.1h0"/><path d="M371.1 323.3h0"/><path d="M368.3 326.3h0"/><path d="M365.7 323.0h0"/><path d="M366.1 323.9h0"/><path d="M366.9 330.5h0"/><path d="M365.1 329.1h0"/><path d="M367.5 333.2h0"/><path d="M366.1 324.5h0"/><path d="M372.3 326.1h0"/><path d="M362.4 326.6h0"/><path d="M370.8 326.4h0"/><path d="M365.0 327.1h0"/><path d="M372.5 328.0h0"/><path d="M372.1 327.8h0"/><path d="M359.3 324.3h0"/><path d="M373.8 331.7h0"/><path d="M371.8 332.7h0"/><path d="M369.1 328.8h0"/><path d="M361.3 324.5h0"/><path d="M372.2 327.9h0"/><path d="M368.1 329.6h0"/><path d="M361.9 325.7h0"/><path d="M368.9 328.4h0"/><path d="M360.0 335.8h0"/><path d="M369.9 332.5h0"/><path d="M361.3 336.5h0"/><path d="M363.2 329.6h0"/><path d="M358.4 330.5h0"/><path d="M364.3 327.2h0"/><path d="M368.3 321.0h0"/><path d="M369.2 331.0h0"/><path d="M365.1 328.8h0"/><path d="M362.8 330.2h0"/><path d="M359.6 339.2h0"/><path d="M364.1 331.6h0"/><path d="M371.3 331.5h0"/><path d="M373.9 327.8h0"/><path d="M373.7 331.9h0"/><path d="M359.4 333.6h0"/><path d="M360.2 326.6h0"/><path d="M394.9 325.7h0"/><path d="M390.6 328.8h0"/><path d="M382.0 325.9h0"/><path d="M400.9 333.7h0"/><path d="M393.0 330.0h0"/><path d="M403.7 339.3h0"/><path d="M391.7 329.3h0"/><path d="M398.6 326.0h0"/><path d="M383.6 329.7h0"/><path d="M380.7 320.1h0"/><path d="M419.1 332.4h0"/><path d="M410.3 330.0h0"/><path d="M396.5 332.2h0"/><path d="M386.8 330.6h0"/><path d="M407.2 330.5h0"/><path d="M404.5 334.2h0"/><path d="M405.3 332.4h0"/><path d="M421.0 321.3h0"/><path d="M393.5 329.8h0"/><path d="M418.8 325.4h0"/><path d="M397.1 333.5h0"/><path d="M420.9 329.2h0"/><path d="M420.8 326.8h0"/><path d="M396.3 329.4h0"/><path d="M399.9 330.7h0"/><path d="M417.4 329.5h0"/><path d="M417.3 328.7h0"/><path d="M382.2 325.7h0"/><path d="M400.2 324.4h0"/><path d="M382.3 333.7h0"/><path d="M415.2 336.4h0"/><path d="M389.9 329.5h0"/><path d="M392.5 328.8h0"/><path d="M392.1 326.2h0"/><path d="M409.6 324.9h0"/><path d="M392.2 331.3h0"/><path d="M397.4 321.2h0"/><path d="M416.4 327.9h0"/><path d="M397.4 335.3h0"/><path d="M418.4 325.3h0"/><path d="M418.3 327.8h0"/><path d="M398.0 327.7h0"/><path d="M388.2 334.7h0"/><path d="M419.3 329.9h0"/><path d="M402.5 328.2h0"/><path d="M393.6 329.4h0"/><path d="M380.6 326.3h0"/><path d="M398.4 324.2h0"/><path d="M379.5 323.2h0"/><path d="M405.6 324.2h0"/><path d="M395.4 329.3h0"/><path d="M390.8 322.5h0"/><path d="M387.7 327.8h0"/><path d="M411.3 325.7h0"/><path d="M417.6 329.7h0"/><path d="M378.4 333.9h0"/><path d="M401.3 337.2h0"/><path d="M381.4 328.1h0"/><path d="M379.6 331.3h0"/><path d="M421.3 328.8h0"/><path d="M391.8 325.5h0"/><path d="M401.5 334.4h0"/><path d="M417.7 335.3h0"/><path d="M406.3 327.8h0"/><path d="M393.4 327.5h0"/><path d="M408.9 329.8h0"/><path d="M412.4 330.7h0"/><path d="M406.4 334.7h0"/><path d="M395.0 329.1h0"/><path d="M411.2 331.5h0"/><path d="M394.4 327.2h0"/><path d="M393.9 325.3h0"/><path d="M390.4 330.9h0"/><path d="M420.9 327.3h0"/><path d="M383.3 328.1h0"/><path d="M380.3 326.2h0"/><path d="M390.9 323.2h0"/><path d="M383.4 326.4h0"/><path d="M394.1 326.2h0"/><path d="M419.3 325.9h0"/><path d="M419.7 330.4h0"/><path d="M388.0 328.8h0"/><path d="M391.0 327.5h0"/><path d="M395.7 324.2h0"/><path d="M419.8 324.0h0"/><path d="M389.7 320.4h0"/><path d="M411.6 332.8h0"/><path d="M406.1 329.0h0"/><path d="M416.7 335.2h0"/><path d="M390.2 330.8h0"/><path d="M418.8 334.9h0"/><path d="M421.8 324.5h0"/><path d="M395.4 326.0h0"/><path d="M419.2 332.8h0"/><path d="M410.2 327.6h0"/><path d="M387.9 326.1h0"/><path d="M397.4 322.4h0"/><path d="M389.0 325.7h0"/><path d="M417.7 328.3h0"/><path d="M388.1 329.1h0"/><path d="M416.6 326.5h0"/><path d="M390.2 327.7h0"/><path d="M417.2 330.6h0"/><path d="M412.9 333.3h0"/><path d="M410.2 324.9h0"/><path d="M389.8 331.5h0"/><path d="M409.5 329.8h0"/><path d="M405.6 325.9h0"/><path d="M393.3 329.0h0"/><path d="M421.4 324.6h0"/><path d="M420.1 332.9h0"/><path d="M406.7 326.0h0"/><path d="M417.9 333.7h0"/><path d="M392.7 334.3h0"/><path d="M385.5 332.6h0"/><path d="M392.7 328.4h0"/><path d="M403.0 331.3h0"/><path d="M417.7 333.9h0"/><path d="M414.9 324.4h0"/><path d="M388.6 332.3h0"/><path d="M414.0 329.2h0"/><path d="M416.9 327.9h0"/><path d="M403.7 330.6h0"/><path d="M399.8 327.5h0"/><path d="M398.7 326.5h0"/><path d="M386.7 329.2h0"/><path d="M389.3 325.0h0"/><path d="M400.3 331.0h0"/><path d="M400.5 332.7h0"/><path d="M401.4 328.1h0"/><path d="M397.7 332.4h0"/><path d="M415.4 327.4h0"/><path d="M385.4 329.2h0"/><path d="M385.8 330.5h0"/><path d="M419.0 326.7h0"/><path d="M403.8 326.8h0"/><path d="M405.2 339.7h0"/><path d="M398.8 330.0h0"/><path d="M396.8 328.3h0"/><path d="M393.4 327.0h0"/><path d="M401.5 330.8h0"/><path d="M414.4 333.0h0"/><path d="M379.9 328.4h0"/><path d="M419.5 326.3h0"/><path d="M386.4 336.4h0"/><path d="M399.5 334.3h0"/><path d="M414.4 331.0h0"/><path d="M383.8 338.4h0"/><path d="M406.6 331.0h0"/><path d="M404.7 325.8h0"/><path d="M402.4 332.7h0"/><path d="M414.5 328.3h0"/><path d="M383.7 332.1h0"/><path d="M387.7 327.3h0"/><path d="M418.1 326.4h0"/><path d="M419.8 324.0h0"/><path d="M383.5 328.5h0"/><path d="M407.5 324.9h0"/><path d="M382.3 327.3h0"/><path d="M419.1 330.6h0"/><path d="M419.5 323.4h0"/><path d="M408.4 331.0h0"/><path d="M399.1 328.2h0"/><path d="M406.7 319.8h0"/><path d="M402.6 325.6h0"/><path d="M414.3 331.9h0"/><path d="M414.7 327.7h0"/><path d="M415.9 330.9h0"/><path d="M414.9 329.4h0"/><path d="M387.7 334.4h0"/><path d="M387.1 328.0h0"/><path d="M408.7 334.6h0"/><path d="M402.3 327.5h0"/><path d="M420.6 327.4h0"/><path d="M380.5 325.7h0"/><path d="M395.8 320.6h0"/><path d="M416.2 334.9h0"/><path d="M397.8 333.2h0"/><path d="M383.9 332.5h0"/><path d="M392.4 330.9h0"/><path d="M420.3 325.6h0"/><path d="M411.9 330.1h0"/><path d="M414.9 331.0h0"/><path d="M389.5 333.0h0"/><path d="M413.3 331.2h0"/><path d="M378.2 330.4h0"/><path d="M387.7 329.2h0"/><path d="M405.5 334.1h0"/><path d="M407.0 329.1h0"/><path d="M398.0 326.7h0"/><path d="M420.2 327.5h0"/><path d="M394.3 333.4h0"/><path d="M390.0 325.8h0"/><path d="M387.0 325.9h0"/><path d="M410.9 327.7h0"/><path d="M413.9 333.4h0"/><path d="M414.3 334.3h0"/><path d="M405.4 328.7h0"/><path d="M379.5 332.6h0"/><path d="M396.2 333.8h0"/><path d="M385.4 325.5h0"/><path d="M390.5 325.5h0"/><path d="M379.2 326.4h0"/><path d="M408.5 324.0h0"/><path d="M389.0 325.5h0"/><path d="M402.8 333.1h0"/><path d="M420.3 324.6h0"/><path d="M388.4 328.4h0"/><path d="M390.6 327.2h0"/><path d="M389.3 323.0h0"/><path d="M380.9 327.2h0"/><path d="M403.0 323.0h0"/><path d="M402.3 328.6h0"/><path d="M404.4 330.2h0"/><path d="M420.4 331.4h0"/><path d="M403.4 329.3h0"/><path d="M404.8 335.0h0"/><path d="M417.2 329.1h0"/><path d="M416.5 329.3h0"/><path d="M401.0 330.8h0"/><path d="M404.7 337.1h0"/><path d="M394.2 336.8h0"/><path d="M399.9 326.2h0"/><path d="M399.3 332.4h0"/><path d="M401.3 323.7h0"/><path d="M388.4 331.5h0"/><path d="M404.4 327.5h0"/><path d="M390.5 334.2h0"/><path d="M391.7 331.2h0"/><path d="M391.5 329.6h0"/><path d="M412.5 326.7h0"/><path d="M381.1 322.6h0"/><path d="M421.8 325.2h0"/><path d="M385.3 334.2h0"/><path d="M405.2 328.8h0"/><path d="M388.2 329.4h0"/><path d="M408.1 331.2h0"/><path d="M415.7 326.6h0"/><path d="M397.1 323.0h0"/><path d="M398.6 330.5h0"/><path d="M421.3 324.7h0"/><path d="M403.9 323.6h0"/><path d="M394.1 332.8h0"/><path d="M388.1 322.2h0"/><path d="M415.4 322.6h0"/><path d="M408.8 327.7h0"/><path d="M391.7 322.5h0"/><path d="M400.3 327.9h0"/><path d="M384.0 324.5h0"/><path d="M412.2 326.4h0"/><path d="M417.6 332.0h0"/><path d="M410.0 327.8h0"/><path d="M409.3 329.4h0"/><path d="M383.7 330.6h0"/><path d="M418.1 333.1h0"/><path d="M404.2 331.7h0"/><path d="M417.4 333.4h0"/><path d="M410.8 324.6h0"/><path d="M417.1 336.1h0"/><path d="M413.6 328.5h0"/><path d="M410.2 331.1h0"/><path d="M404.4 333.4h0"/><path d="M390.3 326.1h0"/><path d="M389.1 331.8h0"/><path d="M418.3 324.3h0"/><path d="M413.1 329.5h0"/><path d="M389.1 327.6h0"/><path d="M382.6 329.3h0"/><path d="M416.6 326.4h0"/><path d="M378.6 325.3h0"/><path d="M405.5 330.5h0"/><path d="M409.1 328.8h0"/><path d="M396.7 322.3h0"/><path d="M418.2 330.9h0"/><path d="M406.4 322.1h0"/><path d="M421.7 330.3h0"/><path d="M408.4 330.9h0"/><path d="M402.5 335.1h0"/><path d="M381.5 332.0h0"/><path d="M416.8 335.3h0"/><path d="M383.2 330.9h0"/><path d="M390.1 326.3h0"/><path d="M406.5 329.0h0"/><path d="M408.1 331.0h0"/><path d="M418.7 332.6h0"/><path d="M419.6 331.4h0"/><path d="M418.5 334.2h0"/><path d="M412.8 333.5h0"/><path d="M394.8 321.6h0"/><path d="M409.8 327.9h0"/><path d="M384.8 332.2h0"/><path d="M392.3 326.3h0"/><path d="M421.8 323.3h0"/><path d="M406.1 331.2h0"/><path d="M418.9 329.2h0"/><path d="M385.3 333.5h0"/><path d="M404.3 334.7h0"/><path d="M386.1 323.7h0"/><path d="M409.1 316.1h0"/><path d="M418.8 331.6h0"/><path d="M397.2 334.8h0"/><path d="M378.8 323.6h0"/><path d="M392.6 324.9h0"/><path d="M381.8 327.1h0"/><path d="M398.1 323.4h0"/><path d="M413.3 330.1h0"/><path d="M421.2 327.8h0"/><path d="M390.2 325.9h0"/><path d="M384.6 330.0h0"/><path d="M380.1 327.0h0"/><path d="M391.5 329.7h0"/><path d="M389.4 327.1h0"/><path d="M387.1 328.2h0"/><path d="M416.9 336.2h0"/><path d="M390.6 328.5h0"/><path d="M385.0 334.1h0"/><path d="M384.6 332.0h0"/><path d="M409.9 335.0h0"/><path d="M396.9 325.8h0"/><path d="M395.1 330.0h0"/><path d="M409.0 330.3h0"/><path d="M405.8 324.2h0"/><path d="M398.3 326.2h0"/><path d="M405.3 329.6h0"/><path d="M391.6 336.5h0"/><path d="M397.0 326.4h0"/><path d="M407.7 329.8h0"/><path d="M379.0 330.2h0"/><path d="M396.0 326.1h0"/><path d="M394.8 331.2h0"/><path d="M438.0 327.0h0"/><path d="M434.7 330.1h0"/><path d="M425.3 328.9h0"/><path d="M429.8 329.8h0"/><path d="M430.1 322.1h0"/><path d="M437.5 327.1h0"/><path d="M439.5 331.3h0"/><path d="M422.2 332.1h0"/><path d="M422.5 324.0h0"/><path d="M433.0 332.2h0"/><path d="M423.0 327.4h0"/><path d="M429.5 328.1h0"/><path d="M433.5 324.7h0"/><path d="M431.3 332.2h0"/><path d="M425.3 327.0h0"/><path d="M427.2 328.0h0"/><path d="M431.7 325.7h0"/><path d="M424.7 323.6h0"/><path d="M438.7 328.4h0"/><path d="M426.6 329.7h0"/><path d="M437.2 325.4h0"/><path d="M425.5 334.2h0"/><path d="M431.0 328.1h0"/><path d="M436.8 332.6h0"/><path d="M434.0 333.5h0"/><path d="M424.4 334.9h0"/><path d="M426.7 335.2h0"/><path d="M428.9 325.6h0"/><path d="M431.1 325.4h0"/><path d="M439.4 328.4h0"/><path d="M428.3 324.8h0"/><path d="M428.5 328.7h0"/><path d="M431.7 330.7h0"/><path d="M426.1 332.9h0"/><path d="M437.0 325.8h0"/><path d="M422.0 325.6h0"/><path d="M435.5 323.9h0"/><path d="M438.4 331.9h0"/><path d="M428.0 329.9h0"/><path d="M435.8 334.0h0"/><path d="M435.1 324.4h0"/><path d="M436.0 326.0h0"/><path d="M434.0 326.8h0"/><path d="M431.8 328.8h0"/><path d="M427.1 329.3h0"/><path d="M429.6 330.2h0"/><path d="M424.1 324.6h0"/><path d="M433.4 331.2h0"/><path d="M431.3 325.3h0"/><path d="M423.2 327.6h0"/><path d="M424.0 332.6h0"/><path d="M427.9 334.3h0"/><path d="M425.5 331.8h0"/><path d="M425.5 328.9h0"/><path d="M435.9 333.7h0"/><path d="M427.9 326.3h0"/><path d="M423.2 324.4h0"/><path d="M438.6 326.6h0"/><path d="M439.2 335.3h0"/><path d="M436.9 337.8h0"/><path d="M430.1 325.4h0"/><path d="M439.4 323.0h0"/><path d="M438.3 330.3h0"/><path d="M433.7 326.7h0"/><path d="M434.5 329.8h0"/><path d="M435.0 331.2h0"/><path d="M431.9 324.9h0"/><path d="M437.9 330.9h0"/><path d="M437.6 325.5h0"/><path d="M435.5 322.1h0"/><path d="M434.7 329.2h0"/><path d="M430.4 321.5h0"/><path d="M428.1 333.8h0"/><path d="M439.4 325.2h0"/><path d="M432.4 328.7h0"/><path d="M438.9 318.8h0"/><path d="M426.0 328.6h0"/><path d="M425.0 331.8h0"/><path d="M435.3 322.5h0"/><path d="M434.0 334.7h0"/><path d="M429.5 327.0h0"/><path d="M431.3 331.7h0"/><path d="M438.7 323.4h0"/><path d="M434.3 329.1h0"/><path d="M431.9 325.4h0"/><path d="M427.0 328.9h0"/><path d="M425.0 333.0h0"/><path d="M428.8 337.1h0"/><path d="M427.5 321.8h0"/><path d="M434.7 327.8h0"/><path d="M439.9 333.2h0"/><path d="M437.5 330.0h0"/><path d="M427.1 324.9h0"/><path d="M427.4 334.5h0"/><path d="M432.8 319.9h0"/><path d="M437.3 329.7h0"/><path d="M427.5 330.2h0"/><path d="M427.1 323.8h0"/><path d="M430.6 327.9h0"/><path d="M435.9 332.6h0"/><path d="M430.2 325.2h0"/><path d="M422.2 327.0h0"/><path d="M434.4 324.4h0"/><path d="M438.0 332.3h0"/><path d="M434.5 333.1h0"/><path d="M422.6 326.3h0"/><path d="M426.9 330.5h0"/><path d="M431.4 337.1h0"/><path d="M430.9 331.1h0"/><path d="M423.4 326.3h0"/><path d="M427.1 331.6h0"/><path d="M429.3 323.8h0"/><path d="M431.1 330.7h0"/><path d="M439.7 329.2h0"/><path d="M434.9 335.1h0"/><path d="M431.5 331.9h0"/><path d="M422.2 329.5h0"/><path d="M422.6 326.6h0"/><path d="M435.9 328.1h0"/><path d="M432.2 324.7h0"/><path d="M434.2 337.3h0"/><path d="M424.3 328.7h0"/><path d="M439.6 329.4h0"/><path d="M431.3 332.9h0"/><path d="M432.3 329.0h0"/><path d="M434.3 331.7h0"/><path d="M433.4 327.1h0"/><path d="M436.2 330.2h0"/><path d="M425.8 326.8h0"/><path d="M423.1 332.4h0"/><path d="M445.0 326.9h0"/><path d="M446.4 329.6h0"/><path d="M443.8 331.9h0"/><path d="M442.2 314.8h0"/><path d="M444.9 329.5h0"/><path d="M444.2 322.6h0"/><path d="M444.5 333.7h0"/><path d="M447.7 331.8h0"/><path d="M446.1 323.4h0"/><path d="M451.7 333.4h0"/><path d="M444.1 333.3h0"/><path d="M451.4 328.9h0"/><path d="M454.2 331.8h0"/><path d="M448.0 329.9h0"/><path d="M452.9 328.0h0"/><path d="M441.2 324.9h0"/><path d="M444.2 327.9h0"/><path d="M441.4 327.4h0"/><path d="M447.9 322.9h0"/><path d="M446.1 322.5h0"/><path d="M447.7 330.2h0"/><path d="M443.7 336.6h0"/><path d="M440.6 333.0h0"/><path d="M452.2 324.0h0"/><path d="M455.0 330.7h0"/><path d="M443.1 331.7h0"/><path d="M451.8 330.6h0"/><path d="M445.6 321.8h0"/><path d="M451.9 328.4h0"/><path d="M449.6 330.3h0"/><path d="M452.1 331.6h0"/><path d="M455.8 333.4h0"/><path d="M444.5 316.5h0"/><path d="M454.1 328.8h0"/><path d="M443.3 328.0h0"/><path d="M452.7 330.0h0"/><path d="M442.5 324.0h0"/><path d="M443.2 333.0h0"/><path d="M446.9 336.9h0"/><path d="M443.3 331.1h0"/><path d="M452.9 327.2h0"/><path d="M440.6 318.9h0"/><path d="M445.5 328.9h0"/><path d="M449.1 332.3h0"/><path d="M452.8 329.6h0"/><path d="M455.6 332.0h0"/><path d="M448.6 332.0h0"/><path d="M443.1 328.2h0"/><path d="M443.7 327.3h0"/><path d="M449.8 331.5h0"/><path d="M442.4 323.9h0"/><path d="M453.5 328.9h0"/><path d="M453.5 328.1h0"/><path d="M451.6 330.8h0"/><path d="M455.5 327.0h0"/><path d="M447.2 326.8h0"/><path d="M455.4 325.7h0"/><path d="M443.2 332.1h0"/><path d="M444.1 325.9h0"/><path d="M448.5 331.1h0"/><path d="M454.2 328.2h0"/><path d="M440.2 325.4h0"/><path d="M453.7 322.1h0"/><path d="M446.0 330.5h0"/><path d="M453.8 333.4h0"/><path d="M453.7 328.0h0"/><path d="M454.2 323.3h0"/><path d="M449.0 330.0h0"/><path d="M441.9 318.1h0"/><path d="M444.8 336.7h0"/><path d="M445.7 322.1h0"/><path d="M450.4 323.5h0"/><path d="M445.4 323.8h0"/><path d="M447.9 332.2h0"/><path d="M445.8 322.7h0"/><path d="M449.9 323.5h0"/><path d="M442.4 323.2h0"/><path d="M446.2 329.5h0"/><path d="M454.1 329.6h0"/><path d="M444.6 323.0h0"/><path d="M447.8 327.1h0"/><path d="M452.4 330.1h0"/><path d="M451.1 332.2h0"/><path d="M447.5 327.4h0"/><path d="M441.2 334.4h0"/><path d="M453.9 326.1h0"/><path d="M454.7 327.9h0"/><path d="M452.7 335.3h0"/><path d="M452.2 326.6h0"/><path d="M454.2 323.4h0"/><path d="M454.0 327.5h0"/><path d="M447.6 334.3h0"/><path d="M446.3 331.2h0"/><path d="M447.3 325.0h0"/><path d="M442.1 334.2h0"/><path d="M443.1 330.2h0"/><path d="M451.0 323.6h0"/><path d="M451.8 329.8h0"/><path d="M451.1 331.1h0"/><path d="M449.3 325.1h0"/><path d="M442.5 321.6h0"/><path d="M446.0 326.9h0"/><path d="M455.2 334.3h0"/><path d="M455.2 335.6h0"/><path d="M444.7 329.7h0"/><path d="M446.0 336.4h0"/><path d="M443.0 329.0h0"/><path d="M445.7 324.7h0"/><path d="M447.2 340.1h0"/><path d="M444.5 329.4h0"/><path d="M454.5 327.2h0"/><path d="M441.2 330.9h0"/><path d="M447.0 326.9h0"/><path d="M441.1 326.4h0"/><path d="M445.7 324.1h0"/><path d="M452.2 316.9h0"/><path d="M441.6 327.2h0"/><path d="M449.3 332.5h0"/><path d="M449.2 333.0h0"/><path d="M449.1 333.9h0"/><path d="M448.0 325.5h0"/><path d="M449.9 327.1h0"/><path d="M444.2 326.6h0"/><path d="M444.2 327.7h0"/><path d="M452.4 321.7h0"/><path d="M442.8 323.9h0"/><path d="M453.2 324.2h0"/><path d="M454.4 331.5h0"/><path d="M449.1 330.0h0"/><path d="M444.5 334.2h0"/><path d="M447.0 331.4h0"/><path d="M448.2 328.2h0"/><path d="M451.1 333.9h0"/><path d="M455.0 331.4h0"/><path d="M446.8 319.9h0"/><path d="M443.3 329.4h0"/><path d="M444.9 335.1h0"/><path d="M455.2 334.0h0"/><path d="M443.4 329.0h0"/><path d="M444.0 325.0h0"/><path d="M440.5 329.0h0"/><path d="M449.8 324.9h0"/><path d="M447.5 327.3h0"/><path d="M453.2 333.4h0"/><path d="M450.3 324.1h0"/><path d="M450.4 330.6h0"/><path d="M451.0 320.5h0"/><path d="M447.3 331.2h0"/><path d="M444.7 329.2h0"/><path d="M440.3 331.0h0"/><path d="M446.3 329.8h0"/><path d="M440.2 326.6h0"/><path d="M443.4 329.4h0"/><path d="M446.0 323.5h0"/><path d="M448.4 326.8h0"/><path d="M446.1 321.7h0"/><path d="M443.4 328.3h0"/><path d="M452.1 323.0h0"/><path d="M445.1 323.4h0"/><path d="M445.7 329.2h0"/><path d="M443.6 317.6h0"/><path d="M441.1 322.0h0"/><path d="M452.1 326.2h0"/><path d="M447.3 329.4h0"/><path d="M448.8 328.9h0"/><path d="M454.0 329.3h0"/><path d="M454.1 327.3h0"/><path d="M449.3 333.4h0"/><path d="M455.1 328.3h0"/><path d="M448.7 331.1h0"/><path d="M454.1 321.3h0"/><path d="M447.5 325.2h0"/><path d="M444.3 321.3h0"/><path d="M448.0 318.2h0"/><path d="M442.6 326.4h0"/><path d="M446.1 319.8h0"/><path d="M443.7 326.9h0"/><path d="M447.2 325.8h0"/><path d="M441.5 332.6h0"/><path d="M447.0 328.1h0"/><path d="M449.1 322.3h0"/><path d="M455.8 326.3h0"/><path d="M456.0 330.1h0"/><path d="M450.5 328.5h0"/><path d="M447.3 331.7h0"/><path d="M452.0 331.4h0"/><path d="M454.8 334.7h0"/><path d="M451.1 323.7h0"/><path d="M443.1 323.8h0"/><path d="M449.7 329.0h0"/><path d="M448.0 334.3h0"/><path d="M454.6 329.5h0"/><path d="M450.7 319.8h0"/><path d="M455.5 334.2h0"/><path d="M440.7 330.7h0"/><path d="M451.2 330.5h0"/><path d="M443.5 325.0h0"/><path d="M447.5 334.0h0"/><path d="M453.5 327.3h0"/><path d="M455.9 332.0h0"/><path d="M443.6 330.0h0"/><path d="M453.8 333.7h0"/><path d="M442.1 326.2h0"/><path d="M444.9 330.6h0"/><path d="M443.5 331.0h0"/><path d="M455.7 323.7h0"/><path d="M441.7 327.0h0"/><path d="M452.8 318.3h0"/><path d="M448.4 326.6h0"/><path d="M451.5 328.1h0"/><path d="M441.4 327.9h0"/><path d="M447.4 316.6h0"/><path d="M448.9 323.1h0"/><path d="M444.7 329.7h0"/><path d="M450.4 327.1h0"/><path d="M441.3 330.7h0"/><path d="M441.3 325.6h0"/><path d="M450.4 330.6h0"/><path d="M444.2 330.9h0"/><path d="M453.7 326.5h0"/><path d="M449.0 322.6h0"/><path d="M454.1 324.8h0"/><path d="M453.6 325.2h0"/><path d="M451.3 328.3h0"/><path d="M455.7 338.9h0"/><path d="M443.9 329.2h0"/><path d="M449.0 329.4h0"/><path d="M442.1 326.2h0"/><path d="M451.4 320.9h0"/><path d="M453.1 325.2h0"/><path d="M454.3 336.0h0"/><path d="M448.5 328.4h0"/><path d="M454.8 329.5h0"/><path d="M446.1 325.4h0"/><path d="M445.7 328.8h0"/><path d="M451.8 336.8h0"/><path d="M454.7 332.4h0"/><path d="M441.3 329.9h0"/><path d="M448.1 337.4h0"/><path d="M447.1 329.1h0"/><path d="M440.5 329.8h0"/><path d="M441.8 323.9h0"/><path d="M453.1 329.0h0"/><path d="M455.1 331.2h0"/><path d="M449.1 329.1h0"/><path d="M443.8 328.5h0"/><path d="M455.7 324.4h0"/><path d="M446.8 332.7h0"/><path d="M442.1 338.3h0"/><path d="M452.6 316.6h0"/><path d="M451.2 325.3h0"/><path d="M451.0 328.4h0"/><path d="M446.1 318.1h0"/><path d="M444.5 333.5h0"/><path d="M443.7 332.0h0"/><path d="M449.6 330.5h0"/><path d="M445.0 326.5h0"/><path d="M451.6 330.6h0"/><path d="M454.6 325.2h0"/><path d="M453.5 330.1h0"/><path d="M440.5 323.0h0"/><path d="M450.3 326.6h0"/><path d="M440.8 335.8h0"/><path d="M444.8 328.8h0"/><path d="M444.8 333.6h0"/><path d="M448.9 329.2h0"/><path d="M440.7 328.6h0"/><path d="M443.7 318.9h0"/><path d="M454.9 329.7h0"/><path d="M440.5 335.6h0"/><path d="M445.5 328.2h0"/><path d="M447.8 333.7h0"/><path d="M441.7 320.7h0"/><path d="M444.7 325.6h0"/><path d="M450.0 321.8h0"/><path d="M445.3 330.4h0"/><path d="M448.9 333.2h0"/><path d="M455.1 327.4h0"/><path d="M441.5 334.7h0"/><path d="M450.7 332.9h0"/><path d="M440.4 332.0h0"/><path d="M446.2 329.3h0"/><path d="M451.5 335.3h0"/><path d="M455.3 337.7h0"/><path d="M447.4 322.4h0"/><path d="M450.1 331.0h0"/><path d="M447.8 329.5h0"/><path d="M441.9 326.1h0"/><path d="M441.4 326.8h0"/><path d="M448.9 331.5h0"/><path d="M454.0 330.6h0"/><path d="M444.1 321.6h0"/><path d="M452.0 323.2h0"/><path d="M450.0 325.4h0"/><path d="M445.4 321.4h0"/><path d="M450.5 336.9h0"/><path d="M441.0 328.1h0"/><path d="M444.1 329.8h0"/><path d="M446.1 337.0h0"/><path d="M450.3 327.1h0"/><path d="M440.6 325.8h0"/><path d="M440.7 327.5h0"/><path d="M454.8 336.5h0"/><path d="M448.5 329.5h0"/><path d="M454.3 327.7h0"/><path d="M455.9 329.6h0"/><path d="M442.7 327.4h0"/><path d="M446.0 326.4h0"/><path d="M455.8 322.4h0"/><path d="M440.1 327.5h0"/><path d="M455.7 317.0h0"/><path d="M456.0 327.6h0"/><path d="M452.1 327.3h0"/><path d="M446.2 325.1h0"/><path d="M450.8 328.9h0"/><path d="M440.3 330.0h0"/><path d="M445.6 323.1h0"/><path d="M440.6 337.9h0"/><path d="M446.8 336.3h0"/><path d="M450.9 319.4h0"/><path d="M479.4 337.1h0"/><path d="M483.7 329.6h0"/><path d="M483.3 327.3h0"/><path d="M463.2 324.8h0"/><path d="M459.6 328.2h0"/><path d="M461.7 331.2h0"/><path d="M480.7 325.1h0"/><path d="M463.2 325.1h0"/><path d="M492.6 320.2h0"/><path d="M483.2 320.5h0"/><path d="M468.1 329.4h0"/><path d="M481.2 323.4h0"/><path d="M458.9 327.9h0"/><path d="M480.2 332.5h0"/><path d="M462.2 326.0h0"/><path d="M481.3 323.7h0"/><path d="M467.2 337.6h0"/><path d="M478.1 323.6h0"/><path d="M484.1 331.8h0"/><path d="M464.8 322.5h0"/><path d="M458.3 327.7h0"/><path d="M461.7 328.1h0"/><path d="M489.5 323.3h0"/><path d="M494.1 329.9h0"/><path d="M479.1 320.7h0"/><path d="M459.4 332.3h0"/><path d="M479.9 330.9h0"/><path d="M469.5 332.8h0"/><path d="M462.9 326.6h0"/><path d="M485.8 328.9h0"/><path d="M490.6 325.6h0"/><path d="M477.3 324.5h0"/><path d="M479.0 325.7h0"/><path d="M493.9 324.6h0"/><path d="M456.1 324.5h0"/><path d="M490.3 329.0h0"/><path d="M493.2 331.5h0"/><path d="M489.9 332.4h0"/><path d="M478.0 325.9h0"/><path d="M491.6 330.8h0"/><path d="M475.9 332.4h0"/><path d="M470.7 331.9h0"/><path d="M475.9 329.6h0"/><path d="M457.7 327.9h0"/><path d="M457.2 329.7h0"/><path d="M476.7 332.7h0"/><path d="M479.6 326.7h0"/><path d="M458.8 337.3h0"/><path d="M486.5 330.0h0"/><path d="M462.0 324.9h0"/><path d="M464.5 327.8h0"/><path d="M475.0 324.3h0"/><path d="M487.0 328.5h0"/><path d="M475.5 326.7h0"/><path d="M492.0 328.7h0"/><path d="M486.3 330.5h0"/><path d="M478.5 327.5h0"/><path d="M490.8 325.2h0"/><path d="M469.9 336.4h0"/><path d="M479.2 332.0h0"/><path d="M481.8 336.9h0"/><path d="M459.6 332.5h0"/><path d="M466.5 333.9h0"/><path d="M495.3 330.8h0"/><path d="M468.2 330.1h0"/><path d="M492.4 325.4h0"/><path d="M458.0 324.3h0"/><path d="M466.0 332.1h0"/><path d="M465.3 330.9h0"/><path d="M456.1 326.7h0"/><path d="M485.0 331.5h0"/><path d="M465.3 330.6h0"/><path d="M479.4 336.1h0"/><path d="M459.8 326.3h0"/><path d="M478.9 328.1h0"/><path d="M475.8 332.7h0"/><path d="M474.9 334.1h0"/><path d="M487.6 333.1h0"/><path d="M470.0 327.4h0"/><path d="M484.6 330.9h0"/><path d="M488.3 333.7h0"/><path d="M465.7 330.3h0"/><path d="M467.9 325.8h0"/><path d="M480.5 324.3h0"/><path d="M463.3 324.0h0"/><path d="M456.2 328.5h0"/><path d="M480.3 328.0h0"/><path d="M484.2 327.9h0"/><path d="M460.3 326.4h0"/><path d="M478.8 326.7h0"/><path d="M475.0 332.6h0"/><path d="M476.4 331.7h0"/><path d="M493.5 330.4h0"/><path d="M457.7 326.3h0"/><path d="M463.4 330.9h0"/><path d="M459.3 331.9h0"/><path d="M480.8 325.1h0"/><path d="M490.5 323.4h0"/><path d="M477.5 332.4h0"/><path d="M457.3 329.5h0"/><path d="M476.1 324.6h0"/><path d="M460.4 330.4h0"/><path d="M459.5 325.5h0"/><path d="M468.1 334.3h0"/><path d="M490.1 329.8h0"/><path d="M483.8 326.4h0"/><path d="M495.4 323.1h0"/><path d="M475.3 325.3h0"/><path d="M463.4 335.1h0"/><path d="M470.5 334.7h0"/><path d="M459.4 332.2h0"/><path d="M472.0 325.8h0"/><path d="M480.1 326.2h0"/><path d="M482.3 324.8h0"/><path d="M494.8 326.3h0"/><path d="M471.1 331.1h0"/><path d="M459.5 330.4h0"/><path d="M490.5 332.3h0"/><path d="M463.0 325.8h0"/><path d="M469.0 333.7h0"/><path d="M461.7 328.7h0"/><path d="M484.4 328.0h0"/><path d="M491.3 324.3h0"/><path d="M464.4 331.8h0"/><path d="M479.2 327.4h0"/><path d="M457.0 332.7h0"/><path d="M483.4 325.1h0"/><path d="M461.8 330.3h0"/><path d="M468.5 330.1h0"/><path d="M478.1 332.6h0"/><path d="M474.4 331.3h0"/><path d="M487.0 331.4h0"/><path d="M457.3 331.3h0"/><path d="M464.4 324.6h0"/><path d="M464.0 332.7h0"/><path d="M471.5 328.0h0"/><path d="M490.0 325.8h0"/><path d="M494.6 333.2h0"/><path d="M494.5 337.1h0"/><path d="M463.4 327.2h0"/><path d="M464.2 335.2h0"/><path d="M467.5 331.9h0"/><path d="M479.6 329.3h0"/><path d="M489.4 327.9h0"/><path d="M476.3 330.0h0"/><path d="M457.5 331.6h0"/><path d="M483.3 325.2h0"/><path d="M480.8 328.1h0"/><path d="M471.1 321.7h0"/><path d="M477.4 332.4h0"/><path d="M465.6 329.3h0"/><path d="M468.0 329.1h0"/><path d="M479.5 326.9h0"/><path d="M470.8 328.1h0"/><path d="M469.7 328.9h0"/><path d="M461.7 321.6h0"/><path d="M491.1 329.5h0"/><path d="M476.7 327.3h0"/><path d="M490.6 328.2h0"/><path d="M479.7 331.2h0"/><path d="M459.0 326.1h0"/><path d="M457.4 335.9h0"/><path d="M463.0 324.6h0"/><path d="M470.8 334.8h0"/><path d="M462.9 330.1h0"/><path d="M470.0 328.6h0"/><path d="M492.7 330.8h0"/><path d="M456.7 330.9h0"/><path d="M459.0 324.4h0"/><path d="M484.5 319.9h0"/><path d="M485.3 325.0h0"/><path d="M466.3 328.3h0"/><path d="M459.0 331.3h0"/><path d="M469.5 331.8h0"/><path d="M483.8 324.4h0"/><path d="M467.1 325.6h0"/><path d="M476.3 324.0h0"/><path d="M473.5 325.2h0"/><path d="M491.7 323.9h0"/><path d="M480.7 331.2h0"/><path d="M469.8 331.9h0"/><path d="M471.8 332.7h0"/><path d="M461.0 329.0h0"/><path d="M487.8 329.7h0"/><path d="M463.6 328.5h0"/><path d="M460.5 333.5h0"/><path d="M469.0 328.3h0"/><path d="M482.5 325.9h0"/><path d="M477.1 328.6h0"/><path d="M456.4 339.1h0"/><path d="M479.3 329.0h0"/><path d="M485.6 330.3h0"/><path d="M485.3 325.5h0"/><path d="M464.2 329.5h0"/><path d="M459.0 326.6h0"/><path d="M470.9 330.4h0"/><path d="M464.5 327.7h0"/><path d="M494.3 325.3h0"/><path d="M483.3 330.0h0"/><path d="M468.3 327.8h0"/><path d="M488.9 328.3h0"/><path d="M480.0 326.7h0"/><path d="M457.6 329.4h0"/><path d="M464.7 327.2h0"/><path d="M466.3 335.8h0"/><path d="M492.6 329.8h0"/><path d="M481.6 325.9h0"/><path d="M463.5 326.4h0"/><path d="M489.9 332.5h0"/><path d="M471.5 331.9h0"/><path d="M495.7 327.5h0"/><path d="M478.1 327.6h0"/><path d="M456.5 327.2h0"/><path d="M472.1 328.7h0"/><path d="M482.8 328.6h0"/><path d="M473.4 325.1h0"/><path d="M482.4 332.4h0"/><path d="M459.7 334.1h0"/><path d="M456.6 325.2h0"/><path d="M459.7 331.8h0"/><path d="M481.5 326.4h0"/><path d="M464.9 331.5h0"/><path d="M488.7 333.1h0"/><path d="M487.6 323.2h0"/><path d="M461.1 329.2h0"/><path d="M458.3 334.2h0"/><path d="M482.7 329.8h0"/><path d="M484.0 329.6h0"/><path d="M491.5 329.8h0"/><path d="M470.0 328.4h0"/><path d="M457.1 333.3h0"/><path d="M486.2 330.1h0"/><path d="M479.9 327.3h0"/><path d="M494.2 326.7h0"/><path d="M468.2 328.7h0"/><path d="M456.4 332.0h0"/><path d="M458.3 336.3h0"/><path d="M491.4 323.6h0"/><path d="M470.1 333.2h0"/><path d="M459.0 330.7h0"/><path d="M457.1 328.9h0"/><path d="M481.6 327.3h0"/><path d="M470.4 329.1h0"/><path d="M485.7 332.0h0"/><path d="M480.3 329.1h0"/><path d="M465.2 321.3h0"/><path d="M480.3 319.7h0"/><path d="M471.8 329.8h0"/><path d="M482.8 326.6h0"/><path d="M465.8 335.5h0"/><path d="M468.1 328.2h0"/><path d="M462.8 326.3h0"/><path d="M461.4 330.1h0"/><path d="M472.1 322.2h0"/><path d="M480.5 325.7h0"/><path d="M479.4 326.7h0"/><path d="M463.6 338.7h0"/><path d="M471.5 331.2h0"/><path d="M473.5 326.3h0"/><path d="M464.7 330.8h0"/><path d="M480.8 335.5h0"/><path d="M469.6 331.1h0"/><path d="M459.9 323.3h0"/><path d="M483.3 326.4h0"/><path d="M462.9 325.7h0"/><path d="M470.1 328.2h0"/><path d="M486.9 322.9h0"/><path d="M461.1 339.4h0"/><path d="M478.0 333.4h0"/><path d="M479.6 321.8h0"/><path d="M466.8 325.0h0"/><path d="M460.5 328.0h0"/><path d="M472.2 330.2h0"/><path d="M465.3 335.7h0"/><path d="M471.4 330.5h0"/><path d="M461.6 329.5h0"/><path d="M472.0 332.4h0"/><path d="M492.8 323.8h0"/><path d="M456.4 325.1h0"/><path d="M478.9 330.0h0"/><path d="M472.7 325.6h0"/><path d="M489.8 329.1h0"/><path d="M486.7 327.9h0"/><path d="M474.1 330.7h0"/><path d="M466.2 319.7h0"/><path d="M493.7 334.5h0"/><path d="M488.8 329.4h0"/><path d="M491.3 325.1h0"/><path d="M459.4 325.1h0"/><path d="M471.7 334.9h0"/><path d="M474.7 332.4h0"/><path d="M467.8 329.3h0"/><path d="M464.9 331.9h0"/><path d="M469.0 331.4h0"/><path d="M462.8 329.8h0"/><path d="M494.3 329.5h0"/><path d="M492.1 324.8h0"/><path d="M480.9 335.2h0"/><path d="M478.9 325.0h0"/><path d="M495.6 329.7h0"/><path d="M301.0 317.7h0"/><path d="M320.0 338.2h0"/><path d="M386.0 293.3h0"/><path d="M460.0 307.9h0"/><path d="M493.0 307.9h0"/></g>
<g stroke="#e41a1c" stroke-width="2.0" stroke-linecap="round" stroke-opacity="0.45" fill="none"><path d="M361.6 324.8h0"/><path d="M359.1 319.9h0"/><path d="M337.6 336.7h0"/><path d="M356.8 321.1h0"/><path d="M298.4 338.5h0"/><path d="M342.6 327.0h0"/><path d="M307.8 327.2h0"/><path d="M358.0 325.1h0"/><path d="M318.0 324.4h0"/><path d="M325.6 324.1h0"/><path d="M314.7 331.5h0"/><path d="M320.6 331.4h0"/><path d="M362.8 332.2h0"/><path d="M372.4 327.1h0"/><path d="M305.5 329.6h0"/><path d="M356.2 336.2h0"/><path d="M370.9 322.8h0"/><path d="M329.3 333.9h0"/><path d="M336.9 330.4h0"/><path d="M358.2 331.8h0"/><path d="M342.9 331.8h0"/><path d="M331.0 324.8h0"/><path d="M365.1 331.5h0"/><path d="M333.2 335.4h0"/><path d="M354.7 331.4h0"/><path d="M367.0 333.3h0"/><path d="M310.2 336.0h0"/><path d="M359.2 323.0h0"/><path d="M297.9 321.8h0"/><path d="M331.4 335.5h0"/><path d="M342.2 319.6h0"/><path d="M361.5 318.2h0"/><path d="M310.0 335.2h0"/><path d="M372.1 325.7h0"/><path d="M351.3 329.3h0"/><path d="M367.7 323.5h0"/><path d="M304.3 343.4h0"/><path d="M332.0 324.6h0"/><path d="M323.0 329.8h0"/><path d="M371.3 325.4h0"/><path d="M357.2 323.2h0"/><path d="M295.6 340.4h0"/><path d="M366.5 328.1h0"/><path d="M314.4 327.9h0"/><path d="M325.0 324.7h0"/><path d="M285.2 321.9h0"/><path d="M328.5 323.9h0"/><path d="M366.0 331.9h0"/><path d="M324.0 324.1h0"/><path d="M283.1 331.9h0"/><path d="M360.1 323.8h0"/><path d="M324.7 328.8h0"/><path d="M289.6 328.8h0"/><path d="M346.2 327.2h0"/><path d="M297.6 336.3h0"/><path d="M338.0 329.6h0"/><path d="M319.8 334.2h0"/><path d="M303.6 323.0h0"/><path d="M321.2 321.2h0"/><path d="M308.4 335.5h0"/><path d="M324.7 339.7h0"/><path d="M335.6 326.6h0"/><path d="M327.9 330.9h0"/><path d="M285.3 332.8h0"/><path d="M334.2 315.8h0"/><path d="M369.8 330.1h0"/><path d="M361.0 333.3h0"/><path d="M320.1 329.3h0"/><path d="M353.3 326.4h0"/><path d="M296.1 319.6h0"/><path d="M347.5 326.2h0"/><path d="M296.8 334.5h0"/><path d="M287.6 330.5h0"/><path d="M343.0 318.2h0"/><path d="M313.8 337.0h0"/><path d="M329.0 328.1h0"/><path d="M284.7 321.7h0"/><path d="M301.6 326.4h0"/><path d="M287.2 329.0h0"/><path d="M368.1 332.5h0"/><path d="M291.0 327.0h0"/><path d="M367.5 325.1h0"/><path d="M286.6 326.7h0"/><path d="M299.2 322.4h0"/><path d="M347.5 326.8h0"/><path d="M340.1 321.0h0"/><path d="M284.8 327.1h0"/><path d="M311.6 323.0h0"/><path d="M292.2 329.5h0"/><path d="M312.0 318.6h0"/><path d="M314.0 321.2h0"/><path d="M331.1 324.2h0"/><path d="M351.3 333.0h0"/><path d="M283.0 326.8h0"/><path d="M344.3 343.3h0"/><path d="M368.4 329.7h0"/><path d="M311.8 326.9h0"/><path d="M342.9 332.4h0"/><path d="M322.5 327.0h0"/><path d="M308.0 324.3h0"/><path d="M330.6 318.2h0"/><path d="M285.6 327.7h0"/><path d="M344.5 336.1h0"/><path d="M331.1 340.2h0"/><path d="M305.2 328.7h0"/><path d="M283.0 323.0h0"/><path d="M368.4 321.9h0"/><path d="M342.2 327.3h0"/><path d="M284.3 331.3h0"/><path d="M355.0 331.5h0"/><path d="M290.4 328.5h0"/><path d="M323.4 327.3h0"/><path d="M291.4 324.6h0"/><path d="M367.4 327.1h0"/><path d="M340.9 317.2h0"/><path d="M345.2 326.9h0"/><path d="M312.8 325.1h0"/><path d="M311.0 322.2h0"/><path d="M286.0 322.7h0"/><path d="M363.6 331.2h0"/><path d="M292.5 336.3h0"/><path d="M337.9 334.6h0"/><path d="M299.7 325.8h0"/><path d="M288.9 324.6h0"/><path d="M284.4 325.9h0"/><path d="M311.1 323.5h0"/><path d="M291.1 320.9h0"/><path d="M359.9 331.8h0"/><path d="M338.0 314.2h0"/><path d="M297.3 313.7h0"/><path d="M282.5 323.7h0"/><path d="M324.6 328.6h0"/><path d="M360.1 326.3h0"/><path d="M303.5 335.1h0"/><path d="M335.1 327.5h0"/><path d="M303.0 332.0h0"/><path d="M372.1 328.2h0"/><path d="M303.5 329.4h0"/><path d="M299.7 316.8h0"/><path d="M338.3 332.2h0"/><path d="M307.3 326.0h0"/><path d="M362.0 329.8h0"/><path d="M352.6 319.3h0"/><path d="M345.8 322.1h0"/><path d="M370.6 335.7h0"/><path d="M320.8 332.9h0"/><path d="M283.9 326.2h0"/><path d="M309.9 330.9h0"/><path d="M303.9 325.3h0"/><path d="M296.8 327.2h0"/><path d="M317.9 333.4h0"/><path d="M285.8 329.2h0"/><path d="M280.2 325.1h0"/><path d="M330.0 328.0h0"/><path d="M294.2 326.9h0"/><path d="M358.4 325.7h0"/><path d="M290.6 328.3h0"/><path d="M289.0 320.5h0"/><path d="M335.7 334.3h0"/><path d="M356.5 325.2h0"/><path d="M354.2 330.4h0"/><path d="M361.9 325.5h0"/><path d="M324.0 323.2h0"/><path d="M303.6 324.3h0"/><path d="M282.3 324.1h0"/><path d="M369.6 323.6h0"/><path d="M335.9 324.8h0"/><path d="M369.5 328.9h0"/><path d="M359.7 323.8h0"/><path d="M342.8 322.5h0"/><path d="M352.7 323.1h0"/><path d="M296.2 326.2h0"/><path d="M365.7 326.2h0"/><path d="M361.1 338.2h0"/><path d="M325.3 332.0h0"/><path d="M321.6 328.7h0"/><path d="M326.9 322.4h0"/><path d="M334.1 321.4h0"/><path d="M295.8 326.9h0"/><path d="M370.2 333.6h0"/><path d="M313.5 325.1h0"/><path d="M283.5 322.5h0"/><path d="M336.9 323.7h0"/><path d="M293.6 331.4h0"/><path d="M375.0 333.4h0"/><path d="M368.3 332.5h0"/><path d="M351.7 333.4h0"/><path d="M286.3 322.4h0"/><path d="M360.1 326.1h0"/><path d="M297.4 316.3h0"/><path d="M340.1 319.0h0"/><path d="M296.4 322.4h0"/><path d="M348.1 331.3h0"/><path d="M347.1 324.2h0"/><path d="M313.0 325.3h0"/><path d="M302.7 335.1h0"/><path d="M360.1 334.4h0"/><path d="M369.6 331.6h0"/><path d="M296.0 321.1h0"/><path d="M374.6 329.8h0"/><path d="M334.0 335.0h0"/><path d="M310.8 327.3h0"/><path d="M326.2 324.6h0"/><path d="M286.2 334.1h0"/><path d="M328.5 317.6h0"/><path d="M337.1 331.7h0"/><path d="M329.1 322.1h0"/><path d="M283.0 324.1h0"/><path d="M350.4 331.6h0"/><path d="M326.7 328.4h0"/><path d="M296.1 327.7h0"/><path d="M359.3 329.7h0"/><path d="M339.0 323.8h0"/><path d="M281.9 327.5h0"/><path d="M321.3 337.0h0"/><path d="M352.5 327.3h0"/><path d="M341.7 333.9h0"/><path d="M316.2 329.0h0"/><path d="M355.8 326.5h0"/><path d="M324.8 328.4h0"/><path d="M295.2 322.4h0"/><path d="M293.1 328.2h0"/><path d="M365.2 330.5h0"/><path d="M304.8 319.0h0"/><path d="M335.9 323.9h0"/><path d="M303.5 328.5h0"/><path d="M310.5 327.7h0"/><path d="M310.9 329.9h0"/><path d="M281.4 327.4h0"/><path d="M281.0 332.9h0"/><path d="M288.4 318.5h0"/><path d="M349.0 321.3h0"/><path d="M306.3 339.7h0"/><path d="M322.0 332.9h0"/><path d="M338.8 328.1h0"/><path d="M328.5 331.2h0"/><path d="M364.9 339.1h0"/><path d="M354.1 324.1h0"/><path d="M363.6 334.1h0"/><path d="M308.9 324.2h0"/><path d="M373.7 325.4h0"/><path d="M370.4 319.8h0"/><path d="M342.7 332.5h0"/><path d="M356.3 318.2h0"/><path d="M297.3 334.3h0"/><path d="M372.4 319.9h0"/><path d="M298.3 322.2h0"/><path d="M355.5 325.5h0"/><path d="M283.2 333.6h0"/><path d="M353.1 319.2h0"/><path d="M334.4 323.5h0"/><path d="M318.3 336.6h0"/><path d="M305.6 341.6h0"/><path d="M325.0 331.3h0"/><path d="M307.6 332.4h0"/><path d="M314.4 324.0h0"/><path d="M374.2 327.1h0"/><path d="M315.0 326.1h0"/><path d="M362.8 330.5h0"/><path d="M322.5 322.8h0"/><path d="M381.9 317.7h0"/><path d="M415.5 327.1h0"/><path d="M434.0 329.3h0"/><path d="M386.3 329.2h0"/><path d="M458.5 320.9h0"/><path d="M433.7 330.6h0"/><path d="M475.8 330.5h0"/><path d="M406.8 321.9h0"/><path d="M383.6 321.5h0"/><path d="M443.2 320.2h0"/><path d="M495.7 332.6h0"/><path d="M382.4 325.5h0"/><path d="M465.8 331.0h0"/><path d="M430.1 325.6h0"/><path d="M461.6 336.5h0"/><path d="M420.0 329.0h0"/><path d="M476.3 322.0h0"/><path d="M443.9 326.8h0"/><path d="M416.0 341.1h0"/><path d="M417.3 322.4h0"/><path d="M454.9 325.9h0"/><path d="M411.5 329.4h0"/><path d="M415.2 327.9h0"/><path d="M488.7 329.6h0"/><path d="M404.2 321.5h0"/><path d="M459.3 328.0h0"/><path d="M396.8 336.6h0"/><path d="M401.3 332.5h0"/><path d="M459.6 318.9h0"/><path d="M422.8 321.7h0"/><path d="M431.5 323.5h0"/><path d="M405.2 332.2h0"/><path d="M486.1 324.9h0"/><path d="M462.7 322.2h0"/><path d="M407.2 327.3h0"/><path d="M420.4 323.8h0"/><path d="M409.6 321.6h0"/><path d="M471.3 322.1h0"/><path d="M451.1 325.3h0"/><path d="M416.1 325.2h0"/><path d="M441.5 334.6h0"/><path d="M469.3 329.4h0"/><path d="M406.9 323.2h0"/><path d="M424.4 318.4h0"/><path d="M425.9 326.8h0"/><path d="M443.7 321.8h0"/><path d="M383.2 327.7h0"/><path d="M417.1 333.1h0"/><path d="M402.5 325.4h0"/><path d="M394.2 325.2h0"/><path d="M418.7 332.7h0"/><path d="M405.3 332.5h0"/><path d="M455.9 327.5h0"/><path d="M390.2 330.5h0"/><path d="M475.9 325.0h0"/><path d="M480.4 335.2h0"/><path d="M490.1 323.3h0"/><path d="M391.1 331.1h0"/><path d="M386.2 325.8h0"/><path d="M490.7 336.3h0"/><path d="M389.0 322.6h0"/><path d="M392.8 326.6h0"/><path d="M401.5 316.2h0"/><path d="M450.0 336.9h0"/><path d="M471.9 337.8h0"/><path d="M385.9 323.8h0"/><path d="M420.0 322.8h0"/><path d="M422.8 337.5h0"/><path d="M489.5 324.8h0"/><path d="M450.7 322.6h0"/><path d="M432.3 320.0h0"/><path d="M422.5 327.0h0"/><path d="M420.0 336.2h0"/><path d="M408.0 338.4h0"/><path d="M461.5 316.2h0"/><path d="M396.8 325.5h0"/><path d="M442.5 322.3h0"/><path d="M469.6 329.5h0"/><path d="M438.0 329.0h0"/><path d="M429.9 328.9h0"/><path d="M452.7 332.9h0"/><path d="M385.7 329.3h0"/><path d="M387.8 333.8h0"/><path d="M389.2 330.0h0"/><path d="M412.3 321.6h0"/><path d="M425.8 327.6h0"/><path d="M415.1 331.4h0"/><path d="M418.7 318.2h0"/><path d="M459.8 320.6h0"/><path d="M472.1 327.5h0"/><path d="M464.0 337.3h0"/><path d="M461.1 320.6h0"/><path d="M383.4 320.5h0"/><path d="M417.4 330.9h0"/><path d="M425.3 319.9h0"/><path d="M451.5 332.3h0"/><path d="M429.0 329.2h0"/><path d="M448.0 330.2h0"/><path d="M471.1 326.7h0"/><path d="M445.8 328.5h0"/><path d="M405.5 319.8h0"/><path d="M485.2 329.6h0"/><path d="M478.6 325.3h0"/><path d="M434.3 327.5h0"/><path d="M465.9 326.4h0"/><path d="M386.0 332.2h0"/><path d="M448.9 327.9h0"/><path d="M448.2 320.1h0"/><path d="M488.3 323.2h0"/><path d="M463.0 334.2h0"/><path d="M380.1 329.9h0"/><path d="M436.1 333.3h0"/><path d="M490.3 331.7h0"/><path d="M393.9 331.3h0"/><path d="M455.8 334.4h0"/><path d="M420.5 325.2h0"/><path d="M426.6 322.7h0"/><path d="M485.8 326.9h0"/><path d="M476.0 330.3h0"/><path d="M419.5 326.8h0"/><path d="M457.3 331.9h0"/><path d="M410.1 322.0h0"/><path d="M443.3 314.9h0"/><path d="M399.7 342.4h0"/><path d="M470.3 325.6h0"/><path d="M394.3 327.4h0"/><path d="M386.2 326.6h0"/><path d="M380.2 329.2h0"/><path d="M475.6 336.0h0"/><path d="M459.2 328.2h0"/><path d="M456.1 329.9h0"/><path d="M485.7 328.5h0"/><path d="M461.0 328.0h0"/><path d="M382.8 330.5h0"/><path d="M386.3 315.2h0"/><path d="M384.2 334.6h0"/><path d="M390.6 329.9h0"/><path d="M390.9 334.7h0"/><path d="M408.3 328.6h0"/><path d="M415.5 319.2h0"/><path d="M443.5 328.0h0"/><path d="M432.8 332.3h0"/><path d="M464.9 335.0h0"/><path d="M426.8 324.8h0"/><path d="M495.1 331.7h0"/><path d="M463.0 324.3h0"/><path d="M378.1 331.6h0"/><path d="M427.3 330.7h0"/><path d="M413.2 328.1h0"/><path d="M469.7 336.7h0"/><path d="M385.0 321.2h0"/><path d="M481.1 334.0h0"/><path d="M450.9 326.9h0"/><path d="M481.2 325.3h0"/><path d="M417.1 314.8h0"/><path d="M486.6 325.2h0"/><path d="M385.3 323.2h0"/><path d="M462.9 330.6h0"/><path d="M391.0 328.5h0"/><path d="M484.7 327.8h0"/><path d="M414.4 321.9h0"/><path d="M450.5 333.2h0"/><path d="M413.8 325.5h0"/><path d="M453.9 312.1h0"/><path d="M431.9 333.0h0"/><path d="M408.0 337.8h0"/><path d="M386.7 330.6h0"/><path d="M486.3 328.5h0"/><path d="M433.5 318.6h0"/><path d="M419.7 325.1h0"/><path d="M468.7 321.5h0"/><path d="M461.1 331.6h0"/><path d="M475.1 327.9h0"/><path d="M468.1 326.1h0"/><path d="M482.4 332.4h0"/><path d="M470.9 326.2h0"/><path d="M453.3 329.3h0"/><path d="M469.9 326.5h0"/><path d="M485.5 335.4h0"/><path d="M398.3 338.9h0"/><path d="M424.5 320.2h0"/><path d="M433.0 327.4h0"/><path d="M458.7 328.2h0"/><path d="M404.0 313.5h0"/><path d="M443.6 322.1h0"/><path d="M423.4 325.2h0"/><path d="M397.4 331.2h0"/><path d="M404.2 325.6h0"/><path d="M491.0 326.3h0"/><path d="M404.6 329.0h0"/><path d="M404.0 319.7h0"/><path d="M421.3 323.4h0"/><path d="M387.9 324.4h0"/><path d="M413.1 332.0h0"/><path d="M484.8 331.3h0"/><path d="M424.2 321.4h0"/><path d="M443.8 326.2h0"/><path d="M438.0 330.5h0"/><path d="M476.4 325.7h0"/><path d="M462.2 327.3h0"/><path d="M458.4 329.8h0"/><path d="M419.8 328.4h0"/><path d="M437.4 323.3h0"/><path d="M383.6 325.6h0"/><path d="M393.6 332.1h0"/><path d="M440.9 331.5h0"/><path d="M475.3 325.8h0"/><path d="M425.3 333.2h0"/><path d="M386.3 326.7h0"/><path d="M463.4 328.1h0"/><path d="M419.0 334.6h0"/><path d="M417.5 340.6h0"/><path d="M485.1 332.1h0"/><path d="M440.2 327.6h0"/><path d="M489.5 327.5h0"/><path d="M494.9 320.7h0"/><path d="M381.4 327.5h0"/><path d="M465.6 327.9h0"/><path d="M440.9 325.5h0"/><path d="M383.5 330.0h0"/><path d="M457.9 318.2h0"/><path d="M425.2 330.7h0"/><path d="M452.7 332.3h0"/><path d="M391.0 330.4h0"/><path d="M393.4 321.0h0"/><path d="M459.1 330.7h0"/><path d="M443.8 331.8h0"/><path d="M394.6 324.4h0"/><path d="M451.1 321.2h0"/><path d="M456.6 329.9h0"/><path d="M442.0 323.9h0"/><path d="M460.6 331.3h0"/><path d="M392.4 320.0h0"/><path d="M490.0 333.5h0"/><path d="M395.4 329.2h0"/><path d="M388.0 330.0h0"/><path d="M446.3 332.8h0"/><path d="M475.1 328.1h0"/><path d="M477.9 324.1h0"/><path d="M430.1 332.2h0"/><path d="M422.9 317.3h0"/><path d="M459.9 326.4h0"/><path d="M390.8 325.9h0"/><path d="M456.3 332.0h0"/><path d="M381.6 328.1h0"/><path d="M380.8 322.9h0"/><path d="M446.7 333.2h0"/><path d="M444.8 331.5h0"/><path d="M423.3 332.3h0"/><path d="M407.5 334.9h0"/><path d="M377.0 356.7h0"/><path d="M380.0 306.0h0"/><path d="M424.0 304.0h0"/><path d="M420.0 372.3h0"/><path d="M458.0 360.6h0"/><path d="M458.0 368.4h0"/><path d="M458.0 375.2h0"/><path d="M450.0 292.3h0"/><path d="M456.0 304.0h0"/></g>
<line x1="422.2" y1="382.7" x2="422.2" y2="275.9" stroke="#4a4a4a" stroke-width="1.1" stroke-dasharray="2.7 2.5" stroke-dashoffset="0.45"/>
<line x1="441.8" y1="382.7" x2="441.8" y2="275.9" stroke="#2a2a2a" stroke-width="1.9" stroke-dasharray="2.7 2.5" stroke-dashoffset="0.45"/>
<line x1="458.1" y1="382.7" x2="458.1" y2="275.9" stroke="#555" stroke-width="1.1" stroke-dasharray="2.7 2.5" stroke-dashoffset="0.45"/>
<line x1="467.2" y1="382.7" x2="467.2" y2="275.9" stroke="#555" stroke-width="1.1" stroke-dasharray="2.7 2.5" stroke-dashoffset="0.45"/>
<rect x="270.5" y="275.9" width="235.7" height="106.80000000000001" fill="none" stroke="#000" stroke-width="1.4"/>
<line x1="265.4" y1="290.4" x2="270.5" y2="290.4" stroke="#000" stroke-width="1.2"/>
<text x="261.0" y="294.29999999999995" font-size="11.8" fill="#000" text-anchor="end">2</text>
<line x1="265.4" y1="309.9" x2="270.5" y2="309.9" stroke="#000" stroke-width="1.2"/>
<text x="261.0" y="313.79999999999995" font-size="11.8" fill="#000" text-anchor="end">1</text>
<line x1="265.4" y1="329.4" x2="270.5" y2="329.4" stroke="#000" stroke-width="1.2"/>
<text x="261.0" y="333.29999999999995" font-size="11.8" fill="#000" text-anchor="end">0</text>
<line x1="265.4" y1="348.9" x2="270.5" y2="348.9" stroke="#000" stroke-width="1.2"/>
<text x="261.0" y="352.79999999999995" font-size="11.8" fill="#000" text-anchor="end" textLength="9.4" lengthAdjust="spacingAndGlyphs">-1</text>
<line x1="265.4" y1="368.4" x2="270.5" y2="368.4" stroke="#000" stroke-width="1.2"/>
<text x="261.0" y="372.29999999999995" font-size="11.8" fill="#000" text-anchor="end" textLength="9.4" lengthAdjust="spacingAndGlyphs">-2</text>
<text x="243.4" y="329.59999999999997" font-size="14.2" fill="#000" text-anchor="middle" textLength="61.5" lengthAdjust="spacingAndGlyphs" transform="rotate(-90 243.4 329.59999999999997)">Log2 ratio</text>
<line x1="280.0" y1="382.7" x2="280.0" y2="387.2" stroke="#000" stroke-width="1.2"/>
<text x="279.8" y="402.4" font-size="11.8" fill="#000" text-anchor="middle" textLength="19.3" lengthAdjust="spacingAndGlyphs">2e7</text>
<line x1="351.75" y1="382.7" x2="351.75" y2="387.2" stroke="#000" stroke-width="1.2"/>
<text x="351.55" y="402.4" font-size="11.8" fill="#000" text-anchor="middle" textLength="28.8" lengthAdjust="spacingAndGlyphs">2.5e7</text>
<line x1="423.5" y1="382.7" x2="423.5" y2="387.2" stroke="#000" stroke-width="1.2"/>
<text x="423.3" y="402.4" font-size="11.8" fill="#000" text-anchor="middle" textLength="18.6" lengthAdjust="spacingAndGlyphs">3e7</text>
<line x1="495.25" y1="382.7" x2="495.25" y2="387.2" stroke="#000" stroke-width="1.2"/>
<text x="495.05" y="402.4" font-size="11.8" fill="#000" text-anchor="middle" textLength="30" lengthAdjust="spacingAndGlyphs">3.5e7</text>
<text x="388.1" y="422.09999999999997" font-size="14.4" fill="#000" text-anchor="middle" textLength="93.6" lengthAdjust="spacingAndGlyphs">Chromosome 6</text>
<rect x="216.9" y="462.2" width="40.9" height="18.7" fill="#000"/>
<text x="237.3" y="475.5" font-size="13.2" fill="#fff" text-anchor="middle" textLength="33.4" lengthAdjust="spacingAndGlyphs">MN-15</text>
<line x1="270.5" y1="586.15" x2="506.2" y2="586.15" stroke="#f3f1f1" stroke-width="0.8"/><line x1="270.5" y1="566.65" x2="506.2" y2="566.65" stroke="#f3f1f1" stroke-width="0.8"/><line x1="270.5" y1="547.15" x2="506.2" y2="547.15" stroke="#f3f1f1" stroke-width="0.8"/><line x1="270.5" y1="527.65" x2="506.2" y2="527.65" stroke="#f3f1f1" stroke-width="0.8"/><line x1="270.5" y1="508.15" x2="506.2" y2="508.15" stroke="#f3f1f1" stroke-width="0.8"/><line x1="270.5" y1="488.65" x2="506.2" y2="488.65" stroke="#f3f1f1" stroke-width="0.8"/><line x1="315.875" y1="483.9" x2="315.875" y2="590.6999999999999" stroke="#f3f1f1" stroke-width="0.8"/><line x1="387.625" y1="483.9" x2="387.625" y2="590.6999999999999" stroke="#f3f1f1" stroke-width="0.8"/><line x1="459.375" y1="483.9" x2="459.375" y2="590.6999999999999" stroke="#f3f1f1" stroke-width="0.8"/><line x1="270.5" y1="576.4" x2="506.2" y2="576.4" stroke="#ebe8e8" stroke-width="1"/><line x1="270.5" y1="556.9" x2="506.2" y2="556.9" stroke="#ebe8e8" stroke-width="1"/><line x1="270.5" y1="537.4" x2="506.2" y2="537.4" stroke="#ebe8e8" stroke-width="1"/><line x1="270.5" y1="517.9" x2="506.2" y2="517.9" stroke="#ebe8e8" stroke-width="1"/><line x1="270.5" y1="498.4" x2="506.2" y2="498.4" stroke="#ebe8e8" stroke-width="1"/><line x1="280.0" y1="483.9" x2="280.0" y2="590.6999999999999" stroke="#ebe8e8" stroke-width="1"/><line x1="351.75" y1="483.9" x2="351.75" y2="590.6999999999999" stroke="#ebe8e8" stroke-width="1"/><line x1="423.5" y1="483.9" x2="423.5" y2="590.6999999999999" stroke="#ebe8e8" stroke-width="1"/><line x1="495.25" y1="483.9" x2="495.25" y2="590.6999999999999" stroke="#ebe8e8" stroke-width="1"/>
<g stroke="#bbbbbb" stroke-width="2.0" stroke-linecap="round" stroke-opacity="1.0" fill="none"><path d="M283.8 539.5h0"/><path d="M295.0 541.1h0"/><path d="M289.4 539.0h0"/><path d="M297.3 536.3h0"/><path d="M296.7 536.3h0"/><path d="M284.7 536.0h0"/><path d="M286.6 538.1h0"/><path d="M285.1 535.5h0"/><path d="M294.9 535.4h0"/><path d="M296.7 540.6h0"/><path d="M295.9 535.6h0"/><path d="M280.0 535.6h0"/><path d="M292.1 537.7h0"/><path d="M280.7 533.5h0"/><path d="M299.8 536.7h0"/><path d="M297.9 539.2h0"/><path d="M287.2 533.9h0"/><path d="M287.0 531.4h0"/><path d="M282.2 540.4h0"/><path d="M291.0 537.1h0"/><path d="M293.0 534.1h0"/><path d="M294.6 534.9h0"/><path d="M282.8 533.7h0"/><path d="M291.0 532.8h0"/><path d="M294.0 542.4h0"/><path d="M296.4 534.7h0"/><path d="M280.4 541.8h0"/><path d="M289.7 539.8h0"/><path d="M286.0 540.2h0"/><path d="M290.9 535.4h0"/><path d="M290.8 542.0h0"/><path d="M287.9 536.5h0"/><path d="M299.2 541.5h0"/><path d="M292.6 530.7h0"/><path d="M286.3 538.5h0"/><path d="M298.8 536.9h0"/><path d="M286.9 540.5h0"/><path d="M295.7 538.6h0"/><path d="M295.0 532.8h0"/><path d="M282.7 536.1h0"/><path d="M287.0 540.4h0"/><path d="M284.7 538.4h0"/><path d="M299.1 537.3h0"/><path d="M288.7 531.4h0"/><path d="M297.6 537.2h0"/><path d="M292.3 535.5h0"/><path d="M295.3 533.6h0"/><path d="M284.6 529.5h0"/><path d="M287.6 534.8h0"/><path d="M296.5 540.2h0"/><path d="M294.1 539.9h0"/><path d="M298.5 531.6h0"/><path d="M295.6 535.6h0"/><path d="M293.4 542.8h0"/><path d="M293.5 538.4h0"/><path d="M285.5 538.3h0"/><path d="M282.8 537.9h0"/><path d="M291.8 534.8h0"/><path d="M291.8 534.8h0"/><path d="M297.3 532.7h0"/><path d="M285.1 542.7h0"/><path d="M284.9 535.9h0"/><path d="M298.5 537.5h0"/><path d="M289.6 540.1h0"/><path d="M289.7 534.2h0"/><path d="M293.0 541.0h0"/><path d="M280.2 541.2h0"/><path d="M283.7 531.8h0"/><path d="M298.3 535.6h0"/><path d="M282.5 534.3h0"/><path d="M298.5 532.8h0"/><path d="M298.4 540.8h0"/><path d="M281.2 532.6h0"/><path d="M290.4 536.5h0"/><path d="M286.0 535.2h0"/><path d="M293.3 534.3h0"/><path d="M298.7 534.8h0"/><path d="M286.1 538.0h0"/><path d="M282.8 536.9h0"/><path d="M298.7 536.3h0"/><path d="M295.5 533.5h0"/><path d="M287.4 543.7h0"/><path d="M297.0 532.4h0"/><path d="M290.5 539.7h0"/><path d="M282.1 530.0h0"/><path d="M287.5 535.3h0"/><path d="M294.8 531.3h0"/><path d="M286.3 537.5h0"/><path d="M292.9 531.4h0"/><path d="M283.5 535.5h0"/><path d="M295.6 535.5h0"/><path d="M284.1 535.4h0"/><path d="M286.7 544.6h0"/><path d="M295.5 541.4h0"/><path d="M283.9 541.9h0"/><path d="M289.1 536.5h0"/><path d="M296.2 537.5h0"/><path d="M292.8 534.2h0"/><path d="M281.6 535.7h0"/><path d="M282.0 532.9h0"/><path d="M295.4 539.0h0"/><path d="M281.1 535.7h0"/><path d="M283.1 538.4h0"/><path d="M281.2 540.4h0"/><path d="M283.9 542.3h0"/><path d="M292.4 537.1h0"/><path d="M286.1 539.7h0"/><path d="M280.5 538.5h0"/><path d="M293.1 539.8h0"/><path d="M291.7 540.3h0"/><path d="M290.9 528.0h0"/><path d="M292.0 536.7h0"/><path d="M292.7 541.0h0"/><path d="M283.9 537.5h0"/><path d="M280.3 536.8h0"/><path d="M287.9 541.5h0"/><path d="M280.3 533.5h0"/><path d="M288.3 539.8h0"/><path d="M296.5 535.2h0"/><path d="M282.2 538.3h0"/><path d="M293.7 539.4h0"/><path d="M292.2 526.8h0"/><path d="M296.9 538.8h0"/><path d="M290.5 541.7h0"/><path d="M293.7 538.6h0"/><path d="M295.3 540.1h0"/><path d="M292.2 533.5h0"/><path d="M284.1 535.6h0"/><path d="M298.6 540.7h0"/><path d="M289.5 531.4h0"/><path d="M284.4 537.7h0"/><path d="M297.0 541.1h0"/><path d="M292.6 533.5h0"/><path d="M287.5 534.9h0"/><path d="M294.8 540.2h0"/><path d="M289.4 540.5h0"/><path d="M293.1 537.5h0"/><path d="M297.5 539.1h0"/><path d="M280.4 535.2h0"/><path d="M295.0 536.1h0"/><path d="M298.4 540.7h0"/><path d="M296.5 540.4h0"/><path d="M300.0 537.8h0"/><path d="M288.5 532.9h0"/><path d="M284.8 539.0h0"/><path d="M287.2 535.1h0"/><path d="M280.7 539.0h0"/><path d="M293.0 535.6h0"/><path d="M282.6 538.8h0"/><path d="M297.2 535.7h0"/><path d="M299.9 539.8h0"/><path d="M288.5 539.3h0"/><path d="M295.0 530.9h0"/><path d="M285.6 534.1h0"/><path d="M299.8 540.9h0"/><path d="M298.4 533.3h0"/><path d="M293.3 537.5h0"/><path d="M290.8 532.7h0"/><path d="M280.4 541.2h0"/><path d="M299.5 537.3h0"/><path d="M280.1 538.4h0"/><path d="M298.5 539.2h0"/><path d="M289.6 540.7h0"/><path d="M299.8 530.9h0"/><path d="M287.9 537.0h0"/><path d="M286.8 538.0h0"/><path d="M292.7 542.2h0"/><path d="M294.7 533.5h0"/><path d="M291.6 533.4h0"/><path d="M280.6 537.5h0"/><path d="M283.5 541.3h0"/><path d="M288.1 535.2h0"/><path d="M286.5 537.0h0"/><path d="M293.0 541.6h0"/><path d="M299.2 530.4h0"/><path d="M292.5 534.7h0"/><path d="M291.6 540.1h0"/><path d="M281.2 539.5h0"/><path d="M285.9 534.5h0"/><path d="M296.1 533.2h0"/><path d="M296.4 535.1h0"/><path d="M283.3 535.3h0"/><path d="M293.9 538.1h0"/><path d="M297.1 530.3h0"/><path d="M298.6 537.8h0"/><path d="M289.3 536.2h0"/><path d="M287.9 535.6h0"/><path d="M281.4 537.7h0"/><path d="M285.7 534.4h0"/><path d="M281.8 531.9h0"/><path d="M290.8 543.9h0"/><path d="M284.4 537.5h0"/><path d="M297.7 532.8h0"/><path d="M283.5 532.4h0"/><path d="M281.1 538.3h0"/><path d="M298.1 534.7h0"/><path d="M292.2 536.2h0"/><path d="M292.1 536.3h0"/><path d="M293.0 538.8h0"/><path d="M281.1 533.6h0"/><path d="M281.4 533.0h0"/><path d="M286.4 531.7h0"/><path d="M288.8 535.9h0"/><path d="M290.1 536.3h0"/><path d="M294.6 533.2h0"/><path d="M291.8 526.3h0"/><path d="M289.7 537.5h0"/><path d="M295.7 537.0h0"/><path d="M291.0 531.2h0"/><path d="M281.1 540.3h0"/><path d="M290.1 544.8h0"/><path d="M287.3 533.6h0"/><path d="M287.3 532.3h0"/><path d="M284.1 532.5h0"/><path d="M294.0 533.5h0"/><path d="M284.4 533.2h0"/><path d="M282.6 538.9h0"/><path d="M293.1 533.4h0"/><path d="M296.0 539.9h0"/><path d="M298.2 541.7h0"/><path d="M284.5 537.4h0"/><path d="M280.1 540.8h0"/><path d="M290.7 540.2h0"/><path d="M299.6 538.8h0"/><path d="M284.7 538.0h0"/><path d="M287.0 536.3h0"/><path d="M297.9 540.0h0"/><path d="M293.2 538.6h0"/><path d="M292.1 537.2h0"/><path d="M294.6 536.3h0"/><path d="M283.3 535.3h0"/><path d="M289.1 534.3h0"/><path d="M284.3 536.0h0"/><path d="M292.1 535.3h0"/><path d="M292.9 534.6h0"/><path d="M290.4 536.8h0"/><path d="M295.1 536.2h0"/><path d="M283.1 539.6h0"/><path d="M289.3 536.0h0"/><path d="M280.2 533.7h0"/><path d="M323.7 539.0h0"/><path d="M310.1 535.3h0"/><path d="M308.6 540.1h0"/><path d="M325.6 536.5h0"/><path d="M311.2 533.5h0"/><path d="M304.6 533.5h0"/><path d="M319.6 532.7h0"/><path d="M329.7 538.2h0"/><path d="M318.5 542.4h0"/><path d="M302.1 536.4h0"/><path d="M306.1 536.3h0"/><path d="M309.7 536.1h0"/><path d="M329.5 538.2h0"/><path d="M306.1 535.5h0"/><path d="M309.0 540.3h0"/><path d="M301.4 534.4h0"/><path d="M309.2 531.4h0"/><path d="M325.6 536.5h0"/><path d="M309.0 536.8h0"/><path d="M322.3 534.9h0"/><path d="M329.8 535.2h0"/><path d="M303.9 535.1h0"/><path d="M307.8 536.3h0"/><path d="M311.3 537.8h0"/><path d="M300.5 532.0h0"/><path d="M301.0 540.8h0"/><path d="M327.6 533.4h0"/><path d="M329.6 539.7h0"/><path d="M313.3 535.4h0"/><path d="M327.5 540.0h0"/><path d="M306.4 541.9h0"/><path d="M312.0 540.2h0"/><path d="M320.4 540.1h0"/><path d="M308.8 532.7h0"/><path d="M320.0 538.9h0"/><path d="M318.1 539.2h0"/><path d="M329.0 540.1h0"/><path d="M324.5 537.1h0"/><path d="M310.2 537.1h0"/><path d="M317.3 535.2h0"/><path d="M314.6 539.2h0"/><path d="M315.5 540.8h0"/><path d="M316.2 537.2h0"/><path d="M313.8 534.3h0"/><path d="M301.0 534.6h0"/><path d="M304.4 540.1h0"/><path d="M307.3 538.6h0"/><path d="M328.6 536.0h0"/><path d="M327.8 538.8h0"/><path d="M320.1 541.5h0"/><path d="M327.1 536.4h0"/><path d="M323.5 538.1h0"/><path d="M318.7 536.1h0"/><path d="M308.1 534.3h0"/><path d="M305.6 538.6h0"/><path d="M300.9 540.6h0"/><path d="M328.1 539.4h0"/><path d="M309.8 534.6h0"/><path d="M329.4 536.7h0"/><path d="M300.9 534.5h0"/><path d="M315.8 538.1h0"/><path d="M328.4 534.7h0"/><path d="M301.5 538.5h0"/><path d="M330.0 539.0h0"/><path d="M322.9 537.0h0"/><path d="M308.6 537.4h0"/><path d="M329.3 537.7h0"/><path d="M324.0 536.8h0"/><path d="M308.4 534.0h0"/><path d="M327.7 539.1h0"/><path d="M307.3 542.5h0"/><path d="M325.9 535.7h0"/><path d="M325.3 531.0h0"/><path d="M320.1 533.7h0"/><path d="M315.8 540.8h0"/><path d="M309.3 535.5h0"/><path d="M305.0 533.5h0"/><path d="M312.8 534.1h0"/><path d="M304.3 531.2h0"/><path d="M316.0 534.3h0"/><path d="M317.8 545.8h0"/><path d="M322.1 535.2h0"/><path d="M311.5 539.4h0"/><path d="M313.0 539.9h0"/><path d="M322.1 542.4h0"/><path d="M311.1 541.0h0"/><path d="M303.0 538.1h0"/><path d="M326.6 533.5h0"/><path d="M304.6 533.4h0"/><path d="M301.7 534.9h0"/><path d="M307.2 533.1h0"/><path d="M325.4 538.2h0"/><path d="M322.7 539.6h0"/><path d="M303.4 530.9h0"/><path d="M319.3 535.5h0"/><path d="M326.1 538.1h0"/><path d="M328.1 534.6h0"/><path d="M316.2 539.3h0"/><path d="M326.0 532.0h0"/><path d="M310.8 541.1h0"/><path d="M300.9 538.7h0"/><path d="M304.7 537.6h0"/><path d="M308.0 537.6h0"/><path d="M301.2 540.9h0"/><path d="M329.0 534.2h0"/><path d="M330.0 535.0h0"/><path d="M326.8 536.8h0"/><path d="M315.9 535.1h0"/><path d="M313.0 538.4h0"/><path d="M309.8 533.9h0"/><path d="M317.0 538.8h0"/><path d="M303.9 540.3h0"/><path d="M323.1 537.5h0"/><path d="M310.3 537.6h0"/><path d="M324.0 535.8h0"/><path d="M303.0 534.8h0"/><path d="M308.3 531.6h0"/><path d="M324.8 541.1h0"/><path d="M323.6 542.0h0"/><path d="M319.7 536.0h0"/><path d="M317.2 532.8h0"/><path d="M329.6 533.6h0"/><path d="M319.9 537.2h0"/><path d="M309.5 537.6h0"/><path d="M305.9 537.8h0"/><path d="M312.9 531.2h0"/><path d="M327.9 537.5h0"/><path d="M305.1 535.8h0"/><path d="M326.1 540.7h0"/><path d="M322.7 533.9h0"/><path d="M305.1 537.2h0"/><path d="M300.4 537.6h0"/><path d="M302.0 537.7h0"/><path d="M315.6 537.2h0"/><path d="M307.6 528.2h0"/><path d="M321.5 534.9h0"/><path d="M316.6 534.7h0"/><path d="M311.5 539.2h0"/><path d="M316.7 541.2h0"/><path d="M321.7 543.6h0"/><path d="M321.3 538.6h0"/><path d="M304.1 536.2h0"/><path d="M307.6 536.0h0"/><path d="M306.0 541.4h0"/><path d="M318.2 534.7h0"/><path d="M328.5 538.5h0"/><path d="M314.1 533.2h0"/><path d="M301.8 537.6h0"/><path d="M311.7 536.6h0"/><path d="M308.7 539.1h0"/><path d="M313.5 538.9h0"/><path d="M329.2 536.6h0"/><path d="M329.0 534.9h0"/><path d="M316.7 534.5h0"/><path d="M321.9 539.0h0"/><path d="M300.7 540.7h0"/><path d="M317.4 535.4h0"/><path d="M318.5 532.7h0"/><path d="M325.2 538.3h0"/><path d="M312.9 538.1h0"/><path d="M312.6 538.1h0"/><path d="M325.6 535.7h0"/><path d="M304.1 533.7h0"/><path d="M328.7 539.7h0"/><path d="M321.0 535.4h0"/><path d="M326.1 532.2h0"/><path d="M326.3 534.9h0"/><path d="M311.9 539.1h0"/><path d="M327.8 541.3h0"/><path d="M321.6 536.6h0"/><path d="M318.8 532.5h0"/><path d="M303.9 534.2h0"/><path d="M315.0 532.2h0"/><path d="M316.8 537.8h0"/><path d="M304.5 536.5h0"/><path d="M310.0 539.2h0"/><path d="M314.4 534.9h0"/><path d="M306.6 537.3h0"/><path d="M307.4 539.1h0"/><path d="M312.0 537.9h0"/><path d="M304.0 534.9h0"/><path d="M309.3 533.9h0"/><path d="M312.0 534.2h0"/><path d="M307.6 529.4h0"/><path d="M306.7 534.3h0"/><path d="M312.6 539.5h0"/><path d="M320.0 533.2h0"/><path d="M301.8 539.3h0"/><path d="M309.9 540.0h0"/><path d="M308.5 534.3h0"/><path d="M317.6 538.4h0"/><path d="M302.9 536.6h0"/><path d="M303.6 538.2h0"/><path d="M328.2 537.2h0"/><path d="M316.4 542.0h0"/><path d="M317.9 533.8h0"/><path d="M304.8 532.7h0"/><path d="M300.5 537.3h0"/><path d="M302.5 532.7h0"/><path d="M301.3 533.9h0"/><path d="M310.9 532.8h0"/><path d="M307.3 531.9h0"/><path d="M328.8 540.4h0"/><path d="M301.3 534.0h0"/><path d="M300.0 537.0h0"/><path d="M302.5 534.2h0"/><path d="M300.2 537.3h0"/><path d="M314.6 530.1h0"/><path d="M312.1 531.3h0"/><path d="M309.2 536.5h0"/><path d="M328.9 535.1h0"/><path d="M322.4 535.8h0"/><path d="M305.7 535.7h0"/><path d="M302.8 533.6h0"/><path d="M326.6 539.5h0"/><path d="M325.5 540.9h0"/><path d="M302.3 533.0h0"/><path d="M325.2 535.4h0"/><path d="M318.3 537.9h0"/><path d="M323.4 538.6h0"/><path d="M321.8 541.1h0"/><path d="M309.6 537.4h0"/><path d="M325.7 541.9h0"/><path d="M301.3 536.1h0"/><path d="M328.1 535.6h0"/><path d="M345.0 535.9h0"/><path d="M346.1 543.1h0"/><path d="M351.1 534.1h0"/><path d="M373.0 538.9h0"/><path d="M367.4 536.0h0"/><path d="M336.8 535.2h0"/><path d="M363.2 533.8h0"/><path d="M351.9 532.4h0"/><path d="M343.2 533.1h0"/><path d="M334.9 534.4h0"/><path d="M359.5 538.8h0"/><path d="M374.6 540.5h0"/><path d="M333.4 534.4h0"/><path d="M372.1 535.8h0"/><path d="M369.6 538.5h0"/><path d="M346.4 537.0h0"/><path d="M363.5 533.8h0"/><path d="M363.1 533.9h0"/><path d="M362.6 538.8h0"/><path d="M359.5 541.1h0"/><path d="M367.7 543.1h0"/><path d="M370.0 538.3h0"/><path d="M342.6 537.9h0"/><path d="M354.4 541.2h0"/><path d="M372.0 533.4h0"/><path d="M336.4 530.6h0"/><path d="M356.3 539.3h0"/><path d="M367.1 534.4h0"/><path d="M371.6 537.2h0"/><path d="M361.0 534.9h0"/><path d="M355.0 536.2h0"/><path d="M353.8 537.1h0"/><path d="M343.7 533.7h0"/><path d="M347.0 534.5h0"/><path d="M362.3 538.2h0"/><path d="M370.9 535.2h0"/><path d="M373.8 538.8h0"/><path d="M372.8 536.9h0"/><path d="M343.8 534.8h0"/><path d="M342.8 535.3h0"/><path d="M335.6 541.9h0"/><path d="M371.5 534.9h0"/><path d="M356.6 540.7h0"/><path d="M346.6 536.1h0"/><path d="M360.6 534.5h0"/><path d="M368.3 541.7h0"/><path d="M363.9 540.3h0"/><path d="M340.4 534.1h0"/><path d="M356.7 535.8h0"/><path d="M332.8 543.6h0"/><path d="M344.3 533.7h0"/><path d="M357.0 538.8h0"/><path d="M360.3 540.6h0"/><path d="M341.3 536.0h0"/><path d="M362.0 538.9h0"/><path d="M347.4 536.7h0"/><path d="M334.6 535.9h0"/><path d="M375.4 528.9h0"/><path d="M356.7 533.8h0"/><path d="M358.7 535.9h0"/><path d="M339.2 536.5h0"/><path d="M365.4 535.7h0"/><path d="M335.1 535.2h0"/><path d="M339.2 538.8h0"/><path d="M368.7 535.1h0"/><path d="M365.7 539.0h0"/><path d="M351.6 538.6h0"/><path d="M339.0 537.1h0"/><path d="M353.3 533.5h0"/><path d="M343.9 534.1h0"/><path d="M348.3 546.5h0"/><path d="M339.7 532.8h0"/><path d="M372.1 536.6h0"/><path d="M368.3 536.5h0"/><path d="M375.4 532.0h0"/><path d="M347.3 539.2h0"/><path d="M351.1 540.2h0"/><path d="M362.1 543.3h0"/><path d="M372.4 540.7h0"/><path d="M337.6 534.1h0"/><path d="M338.0 539.5h0"/><path d="M335.0 540.2h0"/><path d="M334.2 535.6h0"/><path d="M341.6 540.1h0"/><path d="M345.2 539.3h0"/><path d="M351.7 539.5h0"/><path d="M362.2 535.5h0"/><path d="M365.0 539.1h0"/><path d="M371.5 538.5h0"/><path d="M367.0 537.5h0"/><path d="M345.6 542.9h0"/><path d="M375.5 537.7h0"/><path d="M347.2 542.8h0"/><path d="M338.1 540.8h0"/><path d="M371.3 538.5h0"/><path d="M372.2 536.5h0"/><path d="M350.9 537.8h0"/><path d="M340.3 533.5h0"/><path d="M345.9 536.6h0"/><path d="M373.4 535.1h0"/><path d="M336.3 538.5h0"/><path d="M363.8 539.0h0"/><path d="M333.6 531.5h0"/><path d="M360.5 542.3h0"/><path d="M367.6 533.1h0"/><path d="M358.4 539.4h0"/><path d="M332.4 534.8h0"/><path d="M335.1 541.2h0"/><path d="M353.6 535.3h0"/><path d="M365.5 535.9h0"/><path d="M337.6 543.8h0"/><path d="M348.9 539.1h0"/><path d="M374.1 534.9h0"/><path d="M332.4 533.6h0"/><path d="M375.0 536.0h0"/><path d="M340.3 538.8h0"/><path d="M340.3 537.1h0"/><path d="M369.6 541.2h0"/><path d="M374.7 540.2h0"/><path d="M364.5 536.2h0"/><path d="M332.4 537.0h0"/><path d="M339.4 534.7h0"/><path d="M374.6 536.4h0"/><path d="M356.5 535.0h0"/><path d="M367.1 537.3h0"/><path d="M367.8 535.0h0"/><path d="M357.2 528.9h0"/><path d="M342.3 540.1h0"/><path d="M345.7 536.5h0"/><path d="M370.0 538.4h0"/><path d="M374.6 535.3h0"/><path d="M341.1 535.4h0"/><path d="M362.1 539.5h0"/><path d="M366.2 536.4h0"/><path d="M340.0 536.2h0"/><path d="M357.3 537.2h0"/><path d="M361.5 535.8h0"/><path d="M349.1 532.3h0"/><path d="M348.7 534.9h0"/><path d="M346.2 537.7h0"/><path d="M364.5 536.1h0"/><path d="M371.3 530.3h0"/><path d="M358.3 538.8h0"/><path d="M336.1 533.2h0"/><path d="M364.4 539.0h0"/><path d="M348.6 542.0h0"/><path d="M372.5 539.1h0"/><path d="M352.1 535.7h0"/><path d="M358.7 537.6h0"/><path d="M358.3 539.1h0"/><path d="M371.3 539.4h0"/><path d="M362.0 540.0h0"/><path d="M356.3 540.3h0"/><path d="M357.9 538.8h0"/><path d="M358.8 544.9h0"/><path d="M363.4 535.4h0"/><path d="M372.7 535.9h0"/><path d="M350.2 536.5h0"/><path d="M353.6 533.9h0"/><path d="M364.8 538.8h0"/><path d="M370.4 536.9h0"/><path d="M368.0 545.3h0"/><path d="M363.2 536.2h0"/><path d="M357.8 538.2h0"/><path d="M337.9 534.9h0"/><path d="M334.7 534.1h0"/><path d="M337.3 537.4h0"/><path d="M365.5 541.0h0"/><path d="M334.4 535.8h0"/><path d="M341.9 534.1h0"/><path d="M360.3 533.9h0"/><path d="M349.6 538.6h0"/><path d="M333.1 539.9h0"/><path d="M373.8 537.8h0"/><path d="M370.1 540.3h0"/><path d="M332.5 543.9h0"/><path d="M357.6 535.7h0"/><path d="M372.6 535.5h0"/><path d="M337.0 534.8h0"/><path d="M353.1 539.7h0"/><path d="M348.5 537.0h0"/><path d="M375.9 540.9h0"/><path d="M335.1 541.7h0"/><path d="M334.9 535.4h0"/><path d="M351.4 542.9h0"/><path d="M352.8 538.0h0"/><path d="M349.2 529.3h0"/><path d="M358.4 533.0h0"/><path d="M344.4 534.7h0"/><path d="M364.4 535.0h0"/><path d="M351.1 537.6h0"/><path d="M375.1 538.8h0"/><path d="M335.4 530.4h0"/><path d="M360.0 537.6h0"/><path d="M340.9 538.8h0"/><path d="M359.5 534.7h0"/><path d="M355.8 537.1h0"/><path d="M343.1 532.7h0"/><path d="M349.2 539.0h0"/><path d="M355.0 539.6h0"/><path d="M359.6 538.2h0"/><path d="M371.6 531.7h0"/><path d="M357.4 533.8h0"/><path d="M371.0 536.0h0"/><path d="M357.8 536.6h0"/><path d="M356.9 535.7h0"/><path d="M338.3 540.0h0"/><path d="M362.0 535.2h0"/><path d="M375.8 538.4h0"/><path d="M341.5 536.1h0"/><path d="M367.7 536.8h0"/><path d="M358.7 535.8h0"/><path d="M335.4 538.3h0"/><path d="M342.4 533.7h0"/><path d="M353.4 535.6h0"/><path d="M337.3 539.3h0"/><path d="M335.7 535.4h0"/><path d="M348.6 537.9h0"/><path d="M374.5 535.6h0"/><path d="M343.4 534.0h0"/><path d="M374.8 538.4h0"/><path d="M339.9 536.9h0"/><path d="M349.6 536.6h0"/><path d="M370.3 536.7h0"/><path d="M349.7 530.2h0"/><path d="M370.4 535.7h0"/><path d="M357.0 540.5h0"/><path d="M357.8 536.4h0"/><path d="M367.8 538.6h0"/><path d="M366.2 528.8h0"/><path d="M337.7 538.8h0"/><path d="M356.2 540.4h0"/><path d="M373.2 534.4h0"/><path d="M345.2 538.5h0"/><path d="M338.7 538.0h0"/><path d="M372.8 537.5h0"/><path d="M360.9 539.0h0"/><path d="M366.5 538.1h0"/><path d="M360.1 543.9h0"/><path d="M336.9 537.1h0"/><path d="M371.9 534.7h0"/><path d="M341.7 530.7h0"/><path d="M369.1 536.5h0"/><path d="M353.9 534.1h0"/><path d="M348.2 539.1h0"/><path d="M342.0 532.0h0"/><path d="M371.8 529.4h0"/><path d="M368.9 535.6h0"/><path d="M338.4 537.8h0"/><path d="M374.9 536.5h0"/><path d="M340.6 531.7h0"/><path d="M374.5 540.7h0"/><path d="M359.3 532.5h0"/><path d="M354.6 539.9h0"/><path d="M364.5 539.4h0"/><path d="M369.0 535.8h0"/><path d="M350.2 534.6h0"/><path d="M369.7 533.5h0"/><path d="M370.7 532.0h0"/><path d="M350.7 540.4h0"/><path d="M364.5 536.4h0"/><path d="M359.7 534.2h0"/><path d="M357.5 535.8h0"/><path d="M357.7 533.0h0"/><path d="M339.0 536.5h0"/><path d="M369.6 537.6h0"/><path d="M361.0 544.0h0"/><path d="M336.4 542.8h0"/><path d="M355.5 534.1h0"/><path d="M341.7 540.4h0"/><path d="M352.1 535.7h0"/><path d="M365.7 534.6h0"/><path d="M333.9 537.1h0"/><path d="M364.7 533.4h0"/><path d="M349.9 538.8h0"/><path d="M336.3 534.8h0"/><path d="M336.5 537.1h0"/><path d="M374.8 541.5h0"/><path d="M350.4 543.2h0"/><path d="M343.9 537.3h0"/><path d="M365.7 531.4h0"/><path d="M332.2 532.9h0"/><path d="M374.1 535.1h0"/><path d="M356.2 534.1h0"/><path d="M335.1 533.8h0"/><path d="M357.0 537.5h0"/><path d="M369.4 532.4h0"/><path d="M355.5 535.8h0"/><path d="M333.8 538.4h0"/><path d="M348.2 524.1h0"/><path d="M338.7 534.5h0"/><path d="M332.4 537.1h0"/><path d="M363.0 534.2h0"/><path d="M362.9 540.7h0"/><path d="M336.4 540.7h0"/><path d="M349.7 530.4h0"/><path d="M363.5 534.7h0"/><path d="M340.6 540.2h0"/><path d="M355.8 542.0h0"/><path d="M338.0 537.1h0"/><path d="M335.4 540.1h0"/><path d="M363.9 532.4h0"/><path d="M346.1 543.0h0"/><path d="M361.0 532.7h0"/><path d="M359.7 540.1h0"/><path d="M369.2 540.9h0"/><path d="M336.7 536.6h0"/><path d="M353.3 540.9h0"/><path d="M334.4 538.7h0"/><path d="M366.9 538.6h0"/><path d="M352.6 544.8h0"/><path d="M362.5 540.7h0"/><path d="M370.8 535.7h0"/><path d="M361.1 543.6h0"/><path d="M339.2 541.3h0"/><path d="M346.5 539.9h0"/><path d="M367.4 533.8h0"/><path d="M347.0 533.8h0"/><path d="M358.9 531.9h0"/><path d="M352.5 540.0h0"/><path d="M361.7 534.2h0"/><path d="M366.8 536.1h0"/><path d="M360.7 541.1h0"/><path d="M370.0 535.1h0"/><path d="M340.4 536.9h0"/><path d="M367.7 539.1h0"/><path d="M340.6 540.4h0"/><path d="M359.0 542.2h0"/><path d="M369.4 535.2h0"/><path d="M362.3 535.4h0"/><path d="M334.1 537.8h0"/><path d="M368.7 538.1h0"/><path d="M346.6 538.8h0"/><path d="M337.6 534.4h0"/><path d="M374.6 536.2h0"/><path d="M348.6 542.8h0"/><path d="M338.0 536.6h0"/><path d="M369.2 535.3h0"/><path d="M360.5 538.9h0"/><path d="M336.7 538.4h0"/><path d="M333.2 538.8h0"/><path d="M372.6 534.8h0"/><path d="M374.2 538.2h0"/><path d="M372.1 537.0h0"/><path d="M368.1 536.6h0"/><path d="M334.4 531.8h0"/><path d="M372.4 541.8h0"/><path d="M345.8 529.2h0"/><path d="M348.9 540.9h0"/><path d="M340.2 537.6h0"/><path d="M344.2 539.5h0"/><path d="M333.3 536.4h0"/><path d="M373.7 535.0h0"/><path d="M335.0 529.1h0"/><path d="M375.7 532.9h0"/><path d="M334.4 539.1h0"/><path d="M342.6 536.1h0"/><path d="M335.8 536.5h0"/><path d="M373.8 539.0h0"/><path d="M338.3 534.9h0"/><path d="M364.0 536.0h0"/><path d="M366.0 538.3h0"/><path d="M363.6 539.1h0"/><path d="M340.3 534.5h0"/><path d="M368.1 537.2h0"/><path d="M344.8 532.9h0"/><path d="M370.5 534.0h0"/><path d="M334.5 540.8h0"/><path d="M334.7 543.8h0"/><path d="M336.4 536.7h0"/><path d="M340.4 539.1h0"/><path d="M372.5 540.3h0"/><path d="M344.1 539.2h0"/><path d="M332.5 532.0h0"/><path d="M356.6 537.6h0"/><path d="M355.0 530.5h0"/><path d="M342.1 534.2h0"/><path d="M363.6 542.6h0"/><path d="M350.5 535.4h0"/><path d="M332.0 531.9h0"/><path d="M347.7 542.7h0"/><path d="M348.9 541.0h0"/><path d="M344.0 537.2h0"/><path d="M339.3 538.6h0"/><path d="M352.8 531.2h0"/><path d="M370.9 539.7h0"/><path d="M340.5 531.2h0"/><path d="M371.4 541.5h0"/><path d="M335.6 539.7h0"/><path d="M359.2 535.7h0"/><path d="M337.1 535.1h0"/><path d="M359.7 536.3h0"/><path d="M344.8 531.5h0"/><path d="M362.8 530.8h0"/><path d="M368.9 530.2h0"/><path d="M344.2 537.1h0"/><path d="M368.3 533.9h0"/><path d="M342.3 537.7h0"/><path d="M352.0 532.0h0"/><path d="M335.6 544.5h0"/><path d="M351.2 538.9h0"/><path d="M373.5 537.5h0"/><path d="M339.2 538.4h0"/><path d="M353.4 531.5h0"/><path d="M334.8 541.4h0"/><path d="M364.0 539.5h0"/><path d="M342.3 540.8h0"/><path d="M365.4 536.9h0"/><path d="M359.8 539.8h0"/><path d="M374.4 533.6h0"/><path d="M381.3 536.8h0"/><path d="M393.1 535.6h0"/><path d="M422.0 537.7h0"/><path d="M420.2 536.2h0"/><path d="M379.6 532.0h0"/><path d="M398.1 538.7h0"/><path d="M400.1 539.5h0"/><path d="M382.7 530.4h0"/><path d="M382.5 538.2h0"/><path d="M383.2 535.9h0"/><path d="M381.8 537.2h0"/><path d="M384.8 534.6h0"/><path d="M389.3 534.5h0"/><path d="M414.2 536.2h0"/><path d="M384.9 539.8h0"/><path d="M408.5 539.7h0"/><path d="M412.9 536.4h0"/><path d="M420.0 530.6h0"/><path d="M387.2 542.5h0"/><path d="M405.3 537.0h0"/><path d="M381.2 535.1h0"/><path d="M382.6 538.5h0"/><path d="M413.1 535.9h0"/><path d="M415.6 537.0h0"/><path d="M420.5 534.0h0"/><path d="M420.5 531.2h0"/><path d="M392.2 537.7h0"/><path d="M401.2 535.6h0"/><path d="M421.6 535.2h0"/><path d="M408.9 536.1h0"/><path d="M387.9 536.6h0"/><path d="M386.8 543.7h0"/><path d="M399.3 536.3h0"/><path d="M395.0 540.2h0"/><path d="M416.0 538.1h0"/><path d="M404.3 535.3h0"/><path d="M402.0 534.8h0"/><path d="M389.7 538.2h0"/><path d="M403.5 538.2h0"/><path d="M400.7 537.6h0"/><path d="M397.7 540.2h0"/><path d="M394.2 531.6h0"/><path d="M402.7 531.0h0"/><path d="M399.1 537.3h0"/><path d="M378.7 531.4h0"/><path d="M385.4 534.2h0"/><path d="M381.0 540.3h0"/><path d="M397.4 533.7h0"/><path d="M420.0 534.5h0"/><path d="M418.9 536.2h0"/><path d="M395.9 541.5h0"/><path d="M420.7 538.7h0"/><path d="M387.9 544.3h0"/><path d="M394.9 536.8h0"/><path d="M417.5 537.7h0"/><path d="M400.3 540.4h0"/><path d="M389.1 540.9h0"/><path d="M405.2 532.4h0"/><path d="M385.9 541.7h0"/><path d="M403.1 534.3h0"/><path d="M393.7 536.4h0"/><path d="M389.4 532.7h0"/><path d="M384.6 542.1h0"/><path d="M402.2 536.4h0"/><path d="M410.4 532.7h0"/><path d="M411.3 537.3h0"/><path d="M387.3 541.4h0"/><path d="M392.4 543.2h0"/><path d="M388.1 539.1h0"/><path d="M408.9 533.4h0"/><path d="M421.7 531.7h0"/><path d="M407.1 536.6h0"/><path d="M409.4 533.8h0"/><path d="M386.3 533.5h0"/><path d="M396.9 534.8h0"/><path d="M395.6 539.5h0"/><path d="M411.1 534.4h0"/><path d="M379.0 540.1h0"/><path d="M403.3 536.4h0"/><path d="M399.7 534.1h0"/><path d="M408.8 533.2h0"/><path d="M409.6 537.1h0"/><path d="M384.2 533.0h0"/><path d="M396.5 531.7h0"/><path d="M413.3 533.5h0"/><path d="M395.2 536.9h0"/><path d="M378.1 535.7h0"/><path d="M419.6 536.6h0"/><path d="M386.8 536.5h0"/><path d="M402.1 534.3h0"/><path d="M382.7 533.1h0"/><path d="M413.6 536.6h0"/><path d="M390.2 534.2h0"/><path d="M379.5 535.8h0"/><path d="M401.8 536.1h0"/><path d="M387.7 539.9h0"/><path d="M398.0 535.4h0"/><path d="M420.2 537.0h0"/><path d="M381.5 535.7h0"/><path d="M383.4 533.3h0"/><path d="M397.6 534.2h0"/><path d="M387.6 534.3h0"/><path d="M416.4 538.3h0"/><path d="M381.9 541.9h0"/><path d="M417.3 538.0h0"/><path d="M379.9 536.7h0"/><path d="M388.3 536.0h0"/><path d="M378.6 532.2h0"/><path d="M383.1 535.7h0"/><path d="M394.2 532.0h0"/><path d="M393.8 538.0h0"/><path d="M384.2 540.2h0"/><path d="M387.0 533.8h0"/><path d="M394.5 540.4h0"/><path d="M379.6 541.8h0"/><path d="M418.7 538.5h0"/><path d="M413.2 535.6h0"/><path d="M379.7 533.1h0"/><path d="M391.7 536.7h0"/><path d="M389.5 533.7h0"/><path d="M407.9 536.8h0"/><path d="M411.1 542.0h0"/><path d="M380.7 540.3h0"/><path d="M407.1 542.2h0"/><path d="M378.2 537.4h0"/><path d="M382.4 543.5h0"/><path d="M399.3 541.4h0"/><path d="M383.7 539.4h0"/><path d="M383.4 533.8h0"/><path d="M415.3 535.0h0"/><path d="M410.2 538.0h0"/><path d="M411.7 536.1h0"/><path d="M382.1 537.6h0"/><path d="M401.1 527.8h0"/><path d="M378.5 542.2h0"/><path d="M415.7 543.4h0"/><path d="M403.1 543.1h0"/><path d="M398.1 541.5h0"/><path d="M391.6 537.9h0"/><path d="M405.2 533.8h0"/><path d="M381.7 537.6h0"/><path d="M411.7 537.7h0"/><path d="M419.0 537.3h0"/><path d="M412.2 536.2h0"/><path d="M378.2 539.9h0"/><path d="M413.7 534.8h0"/><path d="M418.7 537.1h0"/><path d="M420.8 536.1h0"/><path d="M379.2 535.1h0"/><path d="M385.5 535.1h0"/><path d="M397.0 534.3h0"/><path d="M391.9 539.7h0"/><path d="M386.8 535.4h0"/><path d="M408.1 542.0h0"/><path d="M389.1 543.8h0"/><path d="M397.9 538.2h0"/><path d="M409.2 535.6h0"/><path d="M412.5 535.4h0"/><path d="M420.2 535.8h0"/><path d="M381.3 534.2h0"/><path d="M391.2 542.7h0"/><path d="M416.0 538.8h0"/><path d="M385.6 537.7h0"/><path d="M413.0 539.6h0"/><path d="M392.1 535.9h0"/><path d="M417.3 535.1h0"/><path d="M398.2 536.0h0"/><path d="M417.4 536.6h0"/><path d="M409.0 529.5h0"/><path d="M380.8 536.7h0"/><path d="M392.6 536.9h0"/><path d="M390.8 533.0h0"/><path d="M400.1 531.1h0"/><path d="M401.2 539.9h0"/><path d="M389.9 540.2h0"/><path d="M403.5 532.6h0"/><path d="M383.7 533.3h0"/><path d="M417.4 534.2h0"/><path d="M409.7 537.8h0"/><path d="M390.0 534.8h0"/><path d="M384.9 541.5h0"/><path d="M407.7 540.6h0"/><path d="M398.8 531.9h0"/><path d="M412.7 541.0h0"/><path d="M418.9 537.4h0"/><path d="M382.7 534.9h0"/><path d="M388.0 535.9h0"/><path d="M399.0 540.5h0"/><path d="M393.1 538.8h0"/><path d="M421.6 535.0h0"/><path d="M395.7 538.3h0"/><path d="M406.4 531.6h0"/><path d="M379.0 537.4h0"/><path d="M418.3 531.1h0"/><path d="M382.1 537.0h0"/><path d="M408.4 533.0h0"/><path d="M393.7 535.5h0"/><path d="M388.1 536.7h0"/><path d="M412.0 541.3h0"/><path d="M416.8 535.1h0"/><path d="M392.6 536.7h0"/><path d="M392.5 535.8h0"/><path d="M386.0 538.7h0"/><path d="M392.9 540.0h0"/><path d="M399.2 540.1h0"/><path d="M398.7 537.3h0"/><path d="M384.6 534.1h0"/><path d="M384.7 538.1h0"/><path d="M404.2 540.6h0"/><path d="M384.5 539.7h0"/><path d="M416.8 540.8h0"/><path d="M415.0 542.3h0"/><path d="M401.7 538.3h0"/><path d="M386.2 539.2h0"/><path d="M407.3 538.3h0"/><path d="M400.8 531.0h0"/><path d="M397.1 534.0h0"/><path d="M409.8 532.4h0"/><path d="M389.9 537.0h0"/><path d="M404.0 536.2h0"/><path d="M416.5 539.6h0"/><path d="M389.7 542.7h0"/><path d="M378.6 542.2h0"/><path d="M404.2 538.2h0"/><path d="M388.9 535.5h0"/><path d="M381.3 529.8h0"/><path d="M392.3 537.3h0"/><path d="M397.4 542.0h0"/><path d="M391.1 538.3h0"/><path d="M398.4 535.4h0"/><path d="M417.8 540.8h0"/><path d="M394.1 538.6h0"/><path d="M388.7 535.4h0"/><path d="M382.4 536.6h0"/><path d="M379.4 535.6h0"/><path d="M415.7 536.8h0"/><path d="M410.5 537.1h0"/><path d="M388.0 532.6h0"/><path d="M394.5 534.0h0"/><path d="M420.1 536.1h0"/><path d="M393.0 535.2h0"/><path d="M384.3 537.1h0"/><path d="M405.6 537.1h0"/><path d="M421.1 535.6h0"/><path d="M396.0 536.2h0"/><path d="M414.2 528.6h0"/><path d="M410.2 536.1h0"/><path d="M405.5 535.5h0"/><path d="M387.6 529.9h0"/><path d="M383.1 539.8h0"/><path d="M409.0 536.5h0"/><path d="M407.3 532.7h0"/><path d="M418.4 536.1h0"/><path d="M385.9 536.9h0"/><path d="M388.0 539.5h0"/><path d="M419.2 536.7h0"/><path d="M394.2 539.1h0"/><path d="M408.7 533.4h0"/><path d="M417.4 535.0h0"/><path d="M401.7 537.7h0"/><path d="M378.3 533.0h0"/><path d="M414.1 540.1h0"/><path d="M420.2 539.6h0"/><path d="M408.4 534.4h0"/><path d="M390.9 535.9h0"/><path d="M397.3 540.5h0"/><path d="M393.1 539.2h0"/><path d="M386.2 537.5h0"/><path d="M401.2 538.9h0"/><path d="M415.6 536.1h0"/><path d="M403.1 537.1h0"/><path d="M413.2 535.2h0"/><path d="M399.4 537.0h0"/><path d="M382.1 535.6h0"/><path d="M383.9 538.2h0"/><path d="M381.2 535.6h0"/><path d="M410.9 535.7h0"/><path d="M396.0 534.5h0"/><path d="M392.4 535.7h0"/><path d="M418.7 538.1h0"/><path d="M402.5 537.0h0"/><path d="M399.9 532.6h0"/><path d="M381.4 537.6h0"/><path d="M413.7 536.6h0"/><path d="M383.1 531.7h0"/><path d="M406.8 534.7h0"/><path d="M392.7 534.6h0"/><path d="M395.8 539.6h0"/><path d="M410.4 539.7h0"/><path d="M413.6 535.9h0"/><path d="M382.3 530.0h0"/><path d="M407.3 542.6h0"/><path d="M402.1 542.2h0"/><path d="M402.2 535.0h0"/><path d="M389.5 536.0h0"/><path d="M410.2 540.0h0"/><path d="M418.0 533.9h0"/><path d="M402.5 536.2h0"/><path d="M380.6 538.4h0"/><path d="M419.4 537.1h0"/><path d="M410.4 538.6h0"/><path d="M385.4 535.9h0"/><path d="M395.8 539.1h0"/><path d="M410.5 540.5h0"/><path d="M405.5 539.2h0"/><path d="M392.8 535.7h0"/><path d="M398.7 533.3h0"/><path d="M418.0 538.9h0"/><path d="M408.1 540.1h0"/><path d="M407.3 535.9h0"/><path d="M396.9 533.3h0"/><path d="M379.4 538.1h0"/><path d="M388.1 532.0h0"/><path d="M400.8 539.3h0"/><path d="M385.8 532.3h0"/><path d="M404.6 534.6h0"/><path d="M420.5 542.3h0"/><path d="M405.3 535.2h0"/><path d="M403.2 537.6h0"/><path d="M405.1 537.4h0"/><path d="M397.2 539.2h0"/><path d="M392.4 536.8h0"/><path d="M408.3 538.9h0"/><path d="M397.4 536.4h0"/><path d="M382.8 533.4h0"/><path d="M385.4 532.5h0"/><path d="M395.7 533.3h0"/><path d="M412.0 534.0h0"/><path d="M380.1 535.4h0"/><path d="M407.1 537.5h0"/><path d="M415.5 540.4h0"/><path d="M383.0 533.6h0"/><path d="M413.0 538.2h0"/><path d="M407.2 536.2h0"/><path d="M411.2 541.2h0"/><path d="M379.7 535.4h0"/><path d="M393.7 532.4h0"/><path d="M410.1 537.1h0"/><path d="M387.2 534.0h0"/><path d="M401.3 537.3h0"/><path d="M425.2 545.5h0"/><path d="M423.3 539.7h0"/><path d="M433.5 539.0h0"/><path d="M424.8 538.7h0"/><path d="M434.6 540.3h0"/><path d="M433.4 540.6h0"/><path d="M439.7 537.9h0"/><path d="M428.5 539.1h0"/><path d="M431.9 532.4h0"/><path d="M439.6 537.0h0"/><path d="M433.6 537.2h0"/><path d="M435.7 534.1h0"/><path d="M424.8 537.2h0"/><path d="M439.4 537.0h0"/><path d="M430.2 532.9h0"/><path d="M434.6 533.6h0"/><path d="M436.8 537.6h0"/><path d="M428.3 541.4h0"/><path d="M440.7 539.0h0"/><path d="M430.8 535.0h0"/><path d="M437.0 542.5h0"/><path d="M430.8 538.0h0"/><path d="M432.0 537.1h0"/><path d="M432.7 542.0h0"/><path d="M429.1 532.8h0"/><path d="M429.8 537.7h0"/><path d="M423.1 542.1h0"/><path d="M436.3 540.3h0"/><path d="M438.3 535.4h0"/><path d="M439.9 532.2h0"/><path d="M422.2 535.9h0"/><path d="M434.8 536.2h0"/><path d="M422.5 537.5h0"/><path d="M434.8 531.4h0"/><path d="M439.8 532.5h0"/><path d="M431.7 542.3h0"/><path d="M424.2 536.8h0"/><path d="M433.3 534.9h0"/><path d="M438.2 537.5h0"/><path d="M433.3 535.3h0"/><path d="M433.4 534.6h0"/><path d="M431.4 539.9h0"/><path d="M426.1 532.4h0"/><path d="M430.6 536.3h0"/><path d="M434.7 533.2h0"/><path d="M422.1 535.9h0"/><path d="M424.4 537.1h0"/><path d="M437.8 532.2h0"/><path d="M426.9 535.5h0"/><path d="M429.2 531.4h0"/><path d="M424.2 534.8h0"/><path d="M424.7 529.4h0"/><path d="M432.7 539.5h0"/><path d="M432.1 536.5h0"/><path d="M429.9 539.4h0"/><path d="M433.5 540.5h0"/><path d="M424.6 536.2h0"/><path d="M432.6 541.9h0"/><path d="M424.0 537.2h0"/><path d="M426.3 532.4h0"/><path d="M428.8 535.0h0"/><path d="M426.9 538.6h0"/><path d="M428.4 537.7h0"/><path d="M431.0 534.4h0"/><path d="M434.4 531.5h0"/><path d="M424.3 537.7h0"/><path d="M433.7 536.4h0"/><path d="M428.5 535.2h0"/><path d="M426.5 537.5h0"/><path d="M424.4 535.6h0"/><path d="M431.0 535.9h0"/><path d="M422.3 532.3h0"/><path d="M425.6 538.8h0"/><path d="M428.3 536.6h0"/><path d="M440.7 535.7h0"/><path d="M430.5 539.3h0"/><path d="M430.9 538.0h0"/><path d="M438.7 536.9h0"/><path d="M432.6 541.8h0"/><path d="M434.2 538.5h0"/><path d="M428.8 540.7h0"/><path d="M424.2 538.6h0"/><path d="M426.0 539.2h0"/><path d="M423.4 538.5h0"/><path d="M432.3 534.5h0"/><path d="M423.7 532.7h0"/><path d="M430.5 534.0h0"/><path d="M426.9 539.6h0"/><path d="M422.0 535.8h0"/><path d="M435.0 541.2h0"/><path d="M422.5 535.0h0"/><path d="M432.4 534.4h0"/><path d="M430.0 538.0h0"/><path d="M438.2 536.7h0"/><path d="M429.5 534.1h0"/><path d="M424.7 534.4h0"/><path d="M429.7 538.8h0"/><path d="M430.8 539.3h0"/><path d="M423.5 542.6h0"/><path d="M426.3 538.0h0"/><path d="M425.5 538.9h0"/><path d="M426.1 536.9h0"/><path d="M437.2 535.0h0"/><path d="M427.8 541.6h0"/><path d="M435.0 539.5h0"/><path d="M422.3 538.1h0"/><path d="M440.9 542.3h0"/><path d="M438.4 537.6h0"/><path d="M430.2 538.6h0"/><path d="M423.4 535.7h0"/><path d="M430.9 534.7h0"/><path d="M434.8 534.6h0"/><path d="M427.7 537.8h0"/><path d="M422.0 536.1h0"/><path d="M427.8 536.2h0"/><path d="M433.6 533.4h0"/><path d="M423.6 543.1h0"/><path d="M431.7 537.8h0"/><path d="M437.1 539.5h0"/><path d="M434.3 536.6h0"/><path d="M436.8 533.4h0"/><path d="M436.4 536.2h0"/><path d="M438.5 536.5h0"/><path d="M429.8 539.3h0"/><path d="M434.8 535.9h0"/><path d="M440.3 536.1h0"/><path d="M435.1 540.3h0"/><path d="M441.0 534.8h0"/><path d="M440.0 538.5h0"/><path d="M428.8 544.1h0"/><path d="M424.6 537.6h0"/><path d="M427.4 535.2h0"/><path d="M424.2 535.4h0"/><path d="M423.9 536.5h0"/><path d="M430.2 537.1h0"/><path d="M439.9 534.7h0"/><path d="M439.8 535.0h0"/><path d="M434.3 543.1h0"/><path d="M440.6 539.4h0"/><path d="M427.5 536.7h0"/><path d="M425.0 537.2h0"/><path d="M439.3 534.2h0"/><path d="M438.8 533.6h0"/><path d="M427.5 536.5h0"/><path d="M436.0 538.2h0"/><path d="M424.7 531.2h0"/><path d="M439.8 539.8h0"/><path d="M427.4 537.3h0"/><path d="M425.7 530.1h0"/><path d="M440.6 534.8h0"/><path d="M422.9 534.9h0"/><path d="M426.5 537.0h0"/><path d="M441.0 532.9h0"/><path d="M430.6 527.1h0"/><path d="M429.3 535.8h0"/><path d="M433.5 537.7h0"/><path d="M422.8 533.0h0"/><path d="M422.5 530.5h0"/><path d="M429.4 535.6h0"/><path d="M439.2 539.7h0"/><path d="M439.0 535.7h0"/><path d="M437.8 539.5h0"/><path d="M438.3 533.6h0"/><path d="M430.6 537.6h0"/><path d="M436.4 535.1h0"/><path d="M434.2 536.6h0"/><path d="M425.4 534.1h0"/><path d="M423.2 543.7h0"/><path d="M435.5 535.7h0"/><path d="M430.4 536.2h0"/><path d="M439.1 535.9h0"/><path d="M440.6 541.8h0"/><path d="M431.3 532.3h0"/><path d="M424.0 539.1h0"/><path d="M428.3 535.3h0"/><path d="M430.7 538.6h0"/><path d="M426.7 537.5h0"/><path d="M429.6 538.4h0"/><path d="M434.7 542.3h0"/><path d="M436.1 539.0h0"/><path d="M435.3 532.4h0"/><path d="M424.6 540.7h0"/><path d="M440.3 536.4h0"/><path d="M430.6 542.8h0"/><path d="M422.4 533.2h0"/><path d="M437.5 541.5h0"/><path d="M427.7 540.8h0"/><path d="M440.9 537.4h0"/><path d="M424.9 535.0h0"/><path d="M438.8 541.3h0"/><path d="M436.2 537.2h0"/><path d="M423.4 535.0h0"/><path d="M435.3 536.8h0"/><path d="M423.6 539.4h0"/><path d="M424.2 535.3h0"/><path d="M427.9 533.1h0"/><path d="M435.5 529.0h0"/><path d="M430.7 532.5h0"/><path d="M423.4 542.6h0"/><path d="M439.1 532.4h0"/><path d="M428.5 533.3h0"/><path d="M423.9 535.8h0"/><path d="M429.5 534.5h0"/><path d="M438.3 533.0h0"/><path d="M432.2 537.7h0"/><path d="M438.3 541.0h0"/><path d="M438.1 537.7h0"/><path d="M435.4 534.5h0"/><path d="M424.1 538.7h0"/><path d="M426.9 539.0h0"/><path d="M425.4 541.1h0"/><path d="M432.3 535.0h0"/><path d="M426.0 540.4h0"/><path d="M425.8 537.5h0"/><path d="M432.3 539.3h0"/><path d="M430.8 532.4h0"/><path d="M432.1 533.4h0"/><path d="M434.9 528.9h0"/><path d="M437.5 539.2h0"/><path d="M424.4 540.1h0"/><path d="M445.5 537.1h0"/><path d="M453.1 533.0h0"/><path d="M453.4 533.8h0"/><path d="M454.8 541.1h0"/><path d="M446.7 541.6h0"/><path d="M447.5 536.6h0"/><path d="M442.7 530.8h0"/><path d="M445.3 532.8h0"/><path d="M454.5 536.7h0"/><path d="M453.9 538.0h0"/><path d="M453.1 537.4h0"/><path d="M453.9 537.1h0"/><path d="M448.7 543.0h0"/><path d="M445.9 543.0h0"/><path d="M441.5 536.7h0"/><path d="M452.3 527.3h0"/><path d="M451.2 535.2h0"/><path d="M453.0 544.7h0"/><path d="M450.3 541.6h0"/><path d="M455.1 536.7h0"/><path d="M454.4 541.1h0"/><path d="M444.2 535.3h0"/><path d="M455.2 539.8h0"/><path d="M451.3 540.1h0"/><path d="M448.6 542.6h0"/><path d="M454.2 534.3h0"/><path d="M452.9 534.8h0"/><path d="M450.4 534.5h0"/><path d="M449.8 533.1h0"/><path d="M450.7 536.9h0"/><path d="M449.9 530.6h0"/><path d="M441.9 541.2h0"/><path d="M447.8 532.8h0"/><path d="M452.7 538.2h0"/><path d="M441.1 538.6h0"/><path d="M443.9 539.5h0"/><path d="M453.7 533.6h0"/><path d="M444.3 535.3h0"/><path d="M441.8 531.0h0"/><path d="M446.3 540.5h0"/><path d="M442.6 535.2h0"/><path d="M442.2 540.7h0"/><path d="M455.0 533.6h0"/><path d="M450.4 529.4h0"/><path d="M453.5 540.6h0"/><path d="M442.2 530.9h0"/><path d="M450.9 540.9h0"/><path d="M441.9 529.0h0"/><path d="M441.5 535.3h0"/><path d="M441.7 533.4h0"/><path d="M444.7 541.2h0"/><path d="M453.0 528.4h0"/><path d="M445.3 536.5h0"/><path d="M451.4 538.2h0"/><path d="M444.7 531.3h0"/><path d="M444.2 539.6h0"/><path d="M444.6 537.2h0"/><path d="M445.7 537.7h0"/><path d="M452.4 539.7h0"/><path d="M453.3 530.8h0"/><path d="M444.3 528.0h0"/><path d="M453.2 540.4h0"/><path d="M443.9 528.5h0"/><path d="M455.0 530.7h0"/><path d="M443.5 537.6h0"/><path d="M454.0 532.9h0"/><path d="M454.9 526.4h0"/><path d="M443.9 538.9h0"/><path d="M448.4 538.5h0"/><path d="M450.9 540.6h0"/><path d="M447.7 526.0h0"/><path d="M455.7 531.0h0"/><path d="M441.1 539.6h0"/><path d="M447.4 536.5h0"/><path d="M454.8 532.7h0"/><path d="M446.6 537.0h0"/><path d="M451.8 530.3h0"/><path d="M441.0 535.5h0"/><path d="M448.5 529.8h0"/><path d="M442.4 534.1h0"/><path d="M447.7 534.7h0"/><path d="M443.0 538.5h0"/><path d="M448.3 534.1h0"/><path d="M443.5 531.8h0"/><path d="M452.1 543.1h0"/><path d="M448.6 533.0h0"/><path d="M451.1 529.6h0"/><path d="M451.6 531.2h0"/><path d="M447.1 533.6h0"/><path d="M441.3 536.5h0"/><path d="M452.1 540.6h0"/><path d="M446.1 539.8h0"/><path d="M448.2 537.2h0"/><path d="M449.7 540.5h0"/><path d="M455.6 535.0h0"/><path d="M452.8 537.8h0"/><path d="M453.8 536.9h0"/><path d="M448.6 529.7h0"/><path d="M449.8 534.5h0"/><path d="M445.9 532.1h0"/><path d="M447.5 543.4h0"/><path d="M452.4 532.7h0"/><path d="M448.2 539.2h0"/><path d="M453.7 527.9h0"/><path d="M449.8 542.4h0"/><path d="M452.7 539.0h0"/><path d="M450.3 531.6h0"/><path d="M450.4 525.7h0"/><path d="M447.7 542.2h0"/><path d="M452.5 536.4h0"/><path d="M443.9 538.8h0"/><path d="M454.0 527.9h0"/><path d="M443.8 525.7h0"/><path d="M447.4 533.9h0"/><path d="M449.6 530.9h0"/><path d="M444.8 538.1h0"/><path d="M455.0 540.4h0"/><path d="M441.3 532.7h0"/><path d="M445.4 537.2h0"/><path d="M449.9 531.6h0"/><path d="M447.2 536.4h0"/><path d="M448.8 529.0h0"/><path d="M455.7 535.9h0"/><path d="M445.1 535.2h0"/><path d="M444.9 530.7h0"/><path d="M445.4 534.3h0"/><path d="M444.5 528.8h0"/><path d="M447.3 538.0h0"/><path d="M447.4 539.5h0"/><path d="M451.9 531.0h0"/><path d="M451.5 532.9h0"/><path d="M445.5 537.9h0"/><path d="M455.8 540.4h0"/><path d="M444.9 538.4h0"/><path d="M453.2 535.5h0"/><path d="M448.3 536.6h0"/><path d="M454.5 540.5h0"/><path d="M444.7 539.4h0"/><path d="M446.4 532.9h0"/><path d="M445.4 530.3h0"/><path d="M453.0 528.4h0"/><path d="M454.1 539.1h0"/><path d="M443.9 540.5h0"/><path d="M449.8 532.9h0"/><path d="M441.5 537.0h0"/><path d="M452.5 532.0h0"/><path d="M444.8 531.4h0"/><path d="M442.4 537.4h0"/><path d="M455.9 536.3h0"/><path d="M451.8 543.0h0"/><path d="M444.5 542.9h0"/><path d="M453.3 532.4h0"/><path d="M441.6 526.1h0"/><path d="M446.5 543.6h0"/><path d="M443.6 542.4h0"/><path d="M449.2 538.1h0"/><path d="M449.5 532.5h0"/><path d="M452.4 544.5h0"/><path d="M454.9 535.8h0"/><path d="M446.2 529.6h0"/><path d="M441.7 546.4h0"/><path d="M447.3 541.3h0"/><path d="M451.3 532.7h0"/><path d="M448.0 530.8h0"/><path d="M444.9 539.7h0"/><path d="M450.4 531.9h0"/><path d="M449.3 531.6h0"/><path d="M449.8 542.4h0"/><path d="M455.2 536.4h0"/><path d="M453.9 538.6h0"/><path d="M442.5 537.4h0"/><path d="M452.1 535.0h0"/><path d="M446.4 541.1h0"/><path d="M450.4 544.7h0"/><path d="M447.2 542.4h0"/><path d="M455.5 542.1h0"/><path d="M453.0 537.0h0"/><path d="M451.3 531.7h0"/><path d="M444.8 538.4h0"/><path d="M442.8 539.3h0"/><path d="M442.9 538.4h0"/><path d="M449.6 532.5h0"/><path d="M446.8 536.6h0"/><path d="M455.7 535.8h0"/><path d="M447.2 539.2h0"/><path d="M444.0 536.2h0"/><path d="M455.4 537.8h0"/><path d="M448.7 530.7h0"/><path d="M452.9 535.8h0"/><path d="M444.8 530.4h0"/><path d="M449.2 534.0h0"/><path d="M452.3 534.8h0"/><path d="M455.7 544.1h0"/><path d="M441.8 537.0h0"/><path d="M449.4 540.4h0"/><path d="M452.8 531.4h0"/><path d="M445.3 534.4h0"/><path d="M446.6 534.2h0"/><path d="M444.6 536.8h0"/><path d="M443.6 529.8h0"/><path d="M445.7 545.4h0"/><path d="M451.6 532.7h0"/><path d="M444.2 537.9h0"/><path d="M453.6 540.8h0"/><path d="M443.9 539.5h0"/><path d="M447.4 536.4h0"/><path d="M455.0 534.8h0"/><path d="M452.8 531.0h0"/><path d="M454.6 539.3h0"/><path d="M441.8 539.6h0"/><path d="M445.7 531.4h0"/><path d="M444.4 530.9h0"/><path d="M453.3 540.9h0"/><path d="M441.7 539.4h0"/><path d="M445.1 534.7h0"/><path d="M453.5 537.5h0"/><path d="M446.6 533.0h0"/><path d="M445.4 539.7h0"/><path d="M445.8 539.2h0"/><path d="M446.6 521.9h0"/><path d="M451.1 530.9h0"/><path d="M446.3 528.6h0"/><path d="M446.5 534.2h0"/><path d="M453.0 539.1h0"/><path d="M448.2 530.5h0"/><path d="M454.0 528.8h0"/><path d="M445.7 536.9h0"/><path d="M443.6 537.3h0"/><path d="M453.1 533.3h0"/><path d="M446.2 536.4h0"/><path d="M445.9 543.1h0"/><path d="M443.0 532.8h0"/><path d="M454.1 532.2h0"/><path d="M455.1 544.4h0"/><path d="M449.3 527.6h0"/><path d="M441.6 541.4h0"/><path d="M443.2 542.0h0"/><path d="M455.4 540.4h0"/><path d="M447.5 536.3h0"/><path d="M448.7 536.6h0"/><path d="M448.8 544.3h0"/><path d="M450.9 535.7h0"/><path d="M448.3 534.2h0"/><path d="M455.5 539.6h0"/><path d="M451.5 547.3h0"/><path d="M445.2 541.7h0"/><path d="M452.6 539.6h0"/><path d="M446.0 532.8h0"/><path d="M441.5 538.6h0"/><path d="M449.0 534.2h0"/><path d="M449.4 522.8h0"/><path d="M455.9 536.3h0"/><path d="M441.3 537.2h0"/><path d="M446.1 532.0h0"/><path d="M452.1 530.3h0"/><path d="M444.7 529.9h0"/><path d="M443.4 536.1h0"/><path d="M446.4 542.3h0"/><path d="M455.2 545.4h0"/><path d="M449.2 540.5h0"/><path d="M455.7 537.9h0"/><path d="M455.9 542.1h0"/><path d="M449.2 543.5h0"/><path d="M452.7 538.0h0"/><path d="M448.5 538.6h0"/><path d="M449.5 539.2h0"/><path d="M455.1 527.8h0"/><path d="M454.0 531.9h0"/><path d="M452.4 542.7h0"/><path d="M444.0 532.0h0"/><path d="M443.2 537.2h0"/><path d="M451.6 540.3h0"/><path d="M442.8 539.3h0"/><path d="M444.6 523.6h0"/><path d="M447.2 537.1h0"/><path d="M445.4 540.8h0"/><path d="M447.3 537.3h0"/><path d="M452.2 533.0h0"/><path d="M452.9 535.9h0"/><path d="M450.4 537.6h0"/><path d="M449.2 541.1h0"/><path d="M442.9 539.8h0"/><path d="M441.9 543.2h0"/><path d="M441.4 536.5h0"/><path d="M445.9 534.2h0"/><path d="M449.1 534.4h0"/><path d="M445.2 536.9h0"/><path d="M452.2 530.1h0"/><path d="M446.3 534.5h0"/><path d="M450.5 533.6h0"/><path d="M453.2 541.6h0"/><path d="M450.1 538.2h0"/><path d="M443.4 538.6h0"/><path d="M453.3 531.2h0"/><path d="M445.8 537.0h0"/><path d="M455.3 537.2h0"/><path d="M450.4 537.5h0"/><path d="M455.5 528.9h0"/><path d="M452.1 539.0h0"/><path d="M447.8 540.0h0"/><path d="M445.0 535.2h0"/><path d="M452.3 536.6h0"/><path d="M446.9 529.6h0"/><path d="M445.8 530.7h0"/><path d="M450.5 534.7h0"/><path d="M441.4 536.9h0"/><path d="M448.5 536.0h0"/><path d="M450.1 529.5h0"/><path d="M453.1 534.0h0"/><path d="M446.2 533.0h0"/><path d="M451.5 547.7h0"/><path d="M446.2 541.6h0"/><path d="M441.2 536.9h0"/><path d="M450.0 533.1h0"/><path d="M446.5 533.0h0"/><path d="M448.8 535.6h0"/><path d="M445.6 544.7h0"/><path d="M452.0 535.7h0"/><path d="M444.5 540.1h0"/><path d="M452.0 546.7h0"/><path d="M449.1 540.7h0"/><path d="M453.3 538.3h0"/><path d="M444.7 535.4h0"/><path d="M444.1 532.6h0"/><path d="M441.1 535.4h0"/><path d="M443.2 536.3h0"/><path d="M454.1 538.8h0"/><path d="M455.6 536.4h0"/><path d="M442.8 541.7h0"/><path d="M445.1 532.8h0"/><path d="M448.1 536.2h0"/><path d="M449.0 531.2h0"/><path d="M452.4 533.5h0"/><path d="M448.2 538.0h0"/><path d="M441.4 536.6h0"/><path d="M449.8 536.3h0"/><path d="M442.9 535.9h0"/><path d="M445.8 548.5h0"/><path d="M445.8 540.7h0"/><path d="M451.6 526.7h0"/><path d="M449.4 535.6h0"/><path d="M451.9 529.2h0"/><path d="M453.4 538.6h0"/><path d="M448.7 543.5h0"/><path d="M445.0 537.5h0"/><path d="M449.1 537.8h0"/><path d="M455.5 539.8h0"/><path d="M453.2 530.2h0"/><path d="M441.9 529.1h0"/><path d="M454.1 539.4h0"/><path d="M446.3 526.5h0"/><path d="M454.4 531.5h0"/><path d="M451.7 541.7h0"/><path d="M442.7 530.9h0"/><path d="M450.5 534.1h0"/><path d="M450.5 535.9h0"/><path d="M445.2 543.7h0"/><path d="M450.8 533.8h0"/><path d="M441.2 539.7h0"/><path d="M448.3 527.3h0"/><path d="M450.8 541.0h0"/><path d="M442.8 543.2h0"/><path d="M453.2 533.8h0"/><path d="M453.0 541.7h0"/><path d="M454.5 528.8h0"/><path d="M455.7 540.4h0"/><path d="M445.4 532.4h0"/><path d="M442.1 540.8h0"/><path d="M442.5 538.5h0"/><path d="M442.3 535.2h0"/><path d="M445.0 539.3h0"/><path d="M447.4 532.6h0"/><path d="M446.3 539.3h0"/><path d="M454.9 529.0h0"/><path d="M452.7 531.6h0"/><path d="M442.6 543.7h0"/><path d="M441.6 526.2h0"/><path d="M449.2 534.3h0"/><path d="M452.9 539.9h0"/><path d="M442.6 534.5h0"/><path d="M452.6 535.3h0"/><path d="M446.4 531.9h0"/><path d="M452.1 531.7h0"/><path d="M441.7 530.1h0"/><path d="M444.7 542.0h0"/><path d="M452.2 534.6h0"/><path d="M442.6 538.9h0"/><path d="M455.6 543.4h0"/><path d="M442.3 539.7h0"/><path d="M442.4 541.0h0"/><path d="M447.5 534.0h0"/><path d="M454.5 537.3h0"/><path d="M446.3 534.1h0"/><path d="M443.0 536.3h0"/><path d="M442.6 535.2h0"/><path d="M449.7 533.6h0"/><path d="M442.3 539.8h0"/><path d="M453.6 536.6h0"/><path d="M453.2 536.7h0"/><path d="M453.2 538.4h0"/><path d="M445.8 540.8h0"/><path d="M446.8 534.5h0"/><path d="M452.4 532.8h0"/><path d="M452.1 526.9h0"/><path d="M446.9 534.9h0"/><path d="M452.2 534.6h0"/><path d="M455.2 541.2h0"/><path d="M453.3 536.2h0"/><path d="M453.3 529.8h0"/><path d="M450.5 526.1h0"/><path d="M446.7 533.4h0"/><path d="M451.3 527.7h0"/><path d="M443.5 527.6h0"/><path d="M454.7 525.4h0"/><path d="M451.0 532.0h0"/><path d="M444.4 538.6h0"/><path d="M442.3 534.8h0"/><path d="M443.5 529.7h0"/><path d="M455.3 538.4h0"/><path d="M452.9 535.8h0"/><path d="M454.4 539.7h0"/><path d="M446.4 538.4h0"/><path d="M445.0 542.7h0"/><path d="M444.0 530.0h0"/><path d="M446.2 539.0h0"/><path d="M441.2 535.2h0"/><path d="M449.7 533.2h0"/><path d="M447.1 537.2h0"/><path d="M453.2 541.1h0"/><path d="M447.2 538.7h0"/><path d="M448.6 541.0h0"/><path d="M445.3 535.3h0"/><path d="M451.9 538.9h0"/><path d="M446.0 530.4h0"/><path d="M447.8 537.6h0"/><path d="M453.3 533.3h0"/><path d="M452.4 540.4h0"/><path d="M452.9 544.6h0"/><path d="M449.6 537.6h0"/><path d="M442.9 531.3h0"/><path d="M442.3 531.1h0"/><path d="M453.9 530.1h0"/><path d="M455.7 537.9h0"/><path d="M450.5 537.7h0"/><path d="M444.9 535.3h0"/><path d="M444.1 537.6h0"/><path d="M444.6 533.3h0"/><path d="M454.6 531.9h0"/><path d="M446.5 531.4h0"/><path d="M451.6 539.8h0"/><path d="M455.0 528.8h0"/><path d="M454.6 545.2h0"/><path d="M454.4 537.6h0"/><path d="M446.1 538.7h0"/><path d="M445.4 536.2h0"/><path d="M451.8 537.4h0"/><path d="M442.2 530.6h0"/><path d="M445.8 539.8h0"/><path d="M445.7 532.5h0"/><path d="M453.4 541.6h0"/><path d="M455.9 536.2h0"/><path d="M451.6 534.3h0"/><path d="M450.7 531.3h0"/><path d="M444.5 541.8h0"/><path d="M447.1 546.8h0"/><path d="M449.1 527.8h0"/><path d="M443.9 540.6h0"/><path d="M452.6 537.5h0"/><path d="M448.8 536.9h0"/><path d="M454.1 529.3h0"/><path d="M455.6 532.5h0"/><path d="M443.8 530.2h0"/><path d="M450.1 529.6h0"/><path d="M451.7 533.6h0"/><path d="M443.9 537.1h0"/><path d="M447.7 529.5h0"/><path d="M451.3 531.1h0"/><path d="M442.8 534.5h0"/><path d="M442.5 544.9h0"/><path d="M447.9 538.9h0"/><path d="M447.5 533.8h0"/><path d="M453.1 538.3h0"/><path d="M442.8 531.4h0"/><path d="M444.6 523.0h0"/><path d="M448.4 535.4h0"/><path d="M452.9 534.1h0"/><path d="M448.5 531.7h0"/><path d="M450.9 527.2h0"/><path d="M445.1 546.3h0"/><path d="M448.6 538.3h0"/><path d="M446.8 529.0h0"/><path d="M454.8 536.1h0"/><path d="M450.0 544.3h0"/><path d="M449.0 533.3h0"/><path d="M455.2 542.3h0"/><path d="M443.2 531.4h0"/><path d="M446.5 531.1h0"/><path d="M455.1 537.7h0"/><path d="M455.5 541.6h0"/><path d="M446.1 533.4h0"/><path d="M453.4 537.6h0"/><path d="M455.4 537.3h0"/><path d="M446.2 538.8h0"/><path d="M442.3 538.3h0"/><path d="M444.6 540.6h0"/><path d="M455.9 531.8h0"/><path d="M453.2 530.3h0"/><path d="M442.4 540.0h0"/><path d="M454.0 542.1h0"/><path d="M445.0 532.2h0"/><path d="M445.3 529.6h0"/><path d="M451.1 533.2h0"/><path d="M444.9 530.3h0"/><path d="M447.6 532.0h0"/><path d="M443.0 535.5h0"/><path d="M444.8 537.1h0"/><path d="M446.0 539.6h0"/><path d="M454.3 536.3h0"/><path d="M444.0 544.5h0"/><path d="M441.4 528.7h0"/><path d="M455.3 541.3h0"/><path d="M444.4 534.6h0"/><path d="M446.7 534.1h0"/><path d="M446.8 536.3h0"/><path d="M450.4 536.1h0"/><path d="M454.7 539.7h0"/><path d="M448.9 537.9h0"/><path d="M453.7 532.2h0"/><path d="M445.1 532.5h0"/><path d="M449.3 542.4h0"/><path d="M449.6 536.2h0"/><path d="M444.1 544.5h0"/><path d="M455.5 536.3h0"/><path d="M442.3 535.6h0"/><path d="M447.8 542.5h0"/><path d="M448.8 528.9h0"/><path d="M455.7 542.6h0"/><path d="M452.8 530.0h0"/><path d="M446.0 544.0h0"/><path d="M444.8 532.4h0"/><path d="M449.0 545.3h0"/><path d="M448.4 538.4h0"/><path d="M454.6 542.4h0"/><path d="M442.9 534.5h0"/><path d="M454.5 540.0h0"/><path d="M448.7 537.1h0"/><path d="M445.6 534.9h0"/><path d="M443.3 540.9h0"/><path d="M444.2 539.0h0"/><path d="M445.9 534.9h0"/><path d="M454.3 540.8h0"/><path d="M451.2 534.2h0"/><path d="M449.2 544.8h0"/><path d="M447.3 526.2h0"/><path d="M443.5 530.7h0"/><path d="M444.0 543.3h0"/><path d="M442.5 540.0h0"/><path d="M448.3 537.9h0"/><path d="M448.6 533.4h0"/><path d="M443.3 532.5h0"/><path d="M442.7 530.9h0"/><path d="M444.7 530.5h0"/><path d="M449.3 541.6h0"/><path d="M451.9 535.3h0"/><path d="M449.3 536.9h0"/><path d="M446.2 533.2h0"/><path d="M446.7 536.9h0"/><path d="M452.9 544.9h0"/><path d="M448.8 538.5h0"/><path d="M451.4 524.0h0"/><path d="M443.8 536.1h0"/><path d="M445.5 530.3h0"/><path d="M445.2 536.5h0"/><path d="M444.2 537.5h0"/><path d="M455.8 536.0h0"/><path d="M445.9 537.2h0"/><path d="M453.7 531.9h0"/><path d="M442.6 538.3h0"/><path d="M442.3 545.2h0"/><path d="M454.1 531.9h0"/><path d="M454.6 533.5h0"/><path d="M451.9 538.2h0"/><path d="M450.4 536.9h0"/><path d="M443.8 532.4h0"/><path d="M450.4 534.3h0"/><path d="M444.3 540.9h0"/><path d="M449.8 529.5h0"/><path d="M452.4 523.7h0"/><path d="M443.2 536.0h0"/><path d="M450.5 541.0h0"/><path d="M452.0 530.9h0"/><path d="M445.9 529.3h0"/><path d="M445.6 540.4h0"/><path d="M449.3 543.5h0"/><path d="M451.2 542.7h0"/><path d="M455.9 538.5h0"/><path d="M451.1 541.5h0"/><path d="M444.7 538.4h0"/><path d="M452.5 538.4h0"/><path d="M441.0 544.3h0"/><path d="M443.2 534.7h0"/><path d="M449.9 529.6h0"/><path d="M453.8 546.3h0"/><path d="M442.6 537.6h0"/><path d="M445.9 538.7h0"/><path d="M442.8 540.3h0"/><path d="M444.2 536.2h0"/><path d="M445.0 541.7h0"/><path d="M453.4 532.7h0"/><path d="M451.8 538.3h0"/><path d="M449.0 541.7h0"/><path d="M451.3 534.7h0"/><path d="M452.6 536.2h0"/><path d="M450.9 529.8h0"/><path d="M445.5 536.0h0"/><path d="M443.3 538.6h0"/><path d="M455.6 527.5h0"/><path d="M443.2 535.7h0"/><path d="M455.8 535.0h0"/><path d="M445.7 529.6h0"/><path d="M473.0 533.8h0"/><path d="M486.9 535.3h0"/><path d="M465.3 539.4h0"/><path d="M479.1 538.2h0"/><path d="M494.2 540.7h0"/><path d="M489.2 537.9h0"/><path d="M469.1 541.1h0"/><path d="M475.7 530.7h0"/><path d="M460.8 534.1h0"/><path d="M489.4 537.9h0"/><path d="M473.9 537.2h0"/><path d="M495.6 534.2h0"/><path d="M492.9 536.8h0"/><path d="M466.6 532.7h0"/><path d="M488.4 536.2h0"/><path d="M480.8 529.3h0"/><path d="M469.4 534.6h0"/><path d="M465.8 540.3h0"/><path d="M456.0 540.0h0"/><path d="M456.3 538.4h0"/><path d="M482.5 531.0h0"/><path d="M473.6 537.8h0"/><path d="M470.8 533.7h0"/><path d="M464.7 541.3h0"/><path d="M489.8 535.0h0"/><path d="M465.4 540.2h0"/><path d="M478.0 538.3h0"/><path d="M464.2 536.8h0"/><path d="M469.5 541.2h0"/><path d="M486.6 529.1h0"/><path d="M490.9 540.4h0"/><path d="M464.4 538.4h0"/><path d="M463.4 531.2h0"/><path d="M482.6 533.7h0"/><path d="M489.5 544.6h0"/><path d="M460.9 535.4h0"/><path d="M484.0 533.3h0"/><path d="M457.9 540.0h0"/><path d="M461.7 536.7h0"/><path d="M494.9 539.1h0"/><path d="M458.7 539.2h0"/><path d="M472.6 531.1h0"/><path d="M468.6 533.5h0"/><path d="M479.8 539.4h0"/><path d="M477.6 540.7h0"/><path d="M481.3 534.2h0"/><path d="M479.1 535.9h0"/><path d="M465.0 537.7h0"/><path d="M473.0 535.9h0"/><path d="M461.8 540.9h0"/><path d="M460.7 539.1h0"/><path d="M459.3 539.1h0"/><path d="M495.0 532.6h0"/><path d="M486.0 536.7h0"/><path d="M463.1 539.9h0"/><path d="M475.4 539.1h0"/><path d="M456.0 533.1h0"/><path d="M482.6 535.5h0"/><path d="M467.7 538.4h0"/><path d="M490.8 537.8h0"/><path d="M482.3 534.2h0"/><path d="M492.6 537.6h0"/><path d="M491.6 537.4h0"/><path d="M477.9 538.8h0"/><path d="M460.6 544.5h0"/><path d="M474.0 534.7h0"/><path d="M460.9 537.2h0"/><path d="M459.4 533.9h0"/><path d="M485.1 526.5h0"/><path d="M495.1 537.8h0"/><path d="M495.4 534.7h0"/><path d="M490.1 537.8h0"/><path d="M482.5 539.0h0"/><path d="M491.0 539.3h0"/><path d="M488.7 537.8h0"/><path d="M488.8 536.5h0"/><path d="M484.6 531.0h0"/><path d="M478.9 535.5h0"/><path d="M472.0 538.5h0"/><path d="M463.6 533.4h0"/><path d="M481.2 539.6h0"/><path d="M474.5 534.4h0"/><path d="M495.2 535.9h0"/><path d="M492.0 538.4h0"/><path d="M495.1 535.2h0"/><path d="M462.2 533.0h0"/><path d="M487.8 534.6h0"/><path d="M458.6 542.8h0"/><path d="M460.0 542.4h0"/><path d="M462.4 537.1h0"/><path d="M483.6 537.7h0"/><path d="M484.2 541.4h0"/><path d="M473.7 534.3h0"/><path d="M467.3 535.1h0"/><path d="M461.4 532.8h0"/><path d="M459.5 535.8h0"/><path d="M471.4 531.1h0"/><path d="M462.5 538.8h0"/><path d="M465.0 538.0h0"/><path d="M464.3 534.6h0"/><path d="M486.7 535.5h0"/><path d="M457.8 541.7h0"/><path d="M460.4 539.3h0"/><path d="M463.6 534.8h0"/><path d="M475.7 536.3h0"/><path d="M464.3 539.1h0"/><path d="M489.3 537.7h0"/><path d="M471.1 537.2h0"/><path d="M485.3 537.4h0"/><path d="M468.1 535.2h0"/><path d="M461.2 534.6h0"/><path d="M466.3 539.3h0"/><path d="M461.7 529.2h0"/><path d="M485.3 535.7h0"/><path d="M495.5 537.1h0"/><path d="M459.2 530.6h0"/><path d="M469.1 536.7h0"/><path d="M467.2 540.5h0"/><path d="M460.6 541.0h0"/><path d="M465.7 538.7h0"/><path d="M490.4 538.8h0"/><path d="M491.4 542.4h0"/><path d="M474.7 538.0h0"/><path d="M476.7 539.6h0"/><path d="M494.9 532.6h0"/><path d="M481.5 535.3h0"/><path d="M471.6 539.5h0"/><path d="M484.1 533.4h0"/><path d="M473.2 537.4h0"/><path d="M478.0 543.2h0"/><path d="M494.9 536.8h0"/><path d="M467.3 532.1h0"/><path d="M479.4 536.5h0"/><path d="M492.8 538.8h0"/><path d="M483.0 536.5h0"/><path d="M494.9 538.7h0"/><path d="M472.6 534.8h0"/><path d="M462.2 535.8h0"/><path d="M465.0 537.8h0"/><path d="M482.5 534.1h0"/><path d="M474.9 531.2h0"/><path d="M493.9 535.6h0"/><path d="M468.2 532.5h0"/><path d="M476.9 534.0h0"/><path d="M473.1 537.3h0"/><path d="M459.6 536.5h0"/><path d="M483.6 531.9h0"/><path d="M486.4 535.4h0"/><path d="M484.1 533.5h0"/><path d="M480.8 541.7h0"/><path d="M486.5 534.2h0"/><path d="M476.6 542.3h0"/><path d="M478.0 530.2h0"/><path d="M461.8 535.6h0"/><path d="M456.5 533.8h0"/><path d="M482.9 538.8h0"/><path d="M468.3 536.8h0"/><path d="M459.2 540.2h0"/><path d="M469.9 539.8h0"/><path d="M482.0 535.9h0"/><path d="M491.8 537.8h0"/><path d="M486.1 537.6h0"/><path d="M488.4 537.2h0"/><path d="M467.8 532.2h0"/><path d="M464.4 533.4h0"/><path d="M456.5 530.5h0"/><path d="M494.4 537.4h0"/><path d="M495.2 538.5h0"/><path d="M470.2 535.8h0"/><path d="M469.9 534.1h0"/><path d="M483.1 541.2h0"/><path d="M490.3 534.5h0"/><path d="M456.7 537.5h0"/><path d="M478.2 535.0h0"/><path d="M490.3 535.6h0"/><path d="M473.9 537.5h0"/><path d="M491.0 539.1h0"/><path d="M477.6 537.4h0"/><path d="M472.7 533.0h0"/><path d="M480.4 542.2h0"/><path d="M490.3 536.0h0"/><path d="M476.6 537.1h0"/><path d="M472.2 537.2h0"/><path d="M463.8 536.0h0"/><path d="M483.7 535.2h0"/><path d="M472.2 536.6h0"/><path d="M468.6 532.3h0"/><path d="M465.1 537.6h0"/><path d="M464.9 529.5h0"/><path d="M469.9 542.8h0"/><path d="M485.5 531.4h0"/><path d="M488.0 537.8h0"/><path d="M462.5 540.6h0"/><path d="M487.4 539.6h0"/><path d="M483.0 538.3h0"/><path d="M468.3 536.1h0"/><path d="M468.2 536.9h0"/><path d="M494.1 532.4h0"/><path d="M477.6 537.1h0"/><path d="M490.9 537.6h0"/><path d="M475.3 537.8h0"/><path d="M457.9 534.9h0"/><path d="M472.4 536.5h0"/><path d="M473.4 531.7h0"/><path d="M474.5 538.5h0"/><path d="M490.6 537.9h0"/><path d="M474.9 538.2h0"/><path d="M463.4 539.3h0"/><path d="M491.2 538.1h0"/><path d="M462.4 539.7h0"/><path d="M461.1 544.0h0"/><path d="M468.5 542.5h0"/><path d="M459.5 540.6h0"/><path d="M473.3 545.5h0"/><path d="M468.2 539.8h0"/><path d="M491.9 535.1h0"/><path d="M481.8 536.2h0"/><path d="M474.2 542.5h0"/><path d="M490.5 542.2h0"/><path d="M475.7 539.0h0"/><path d="M491.3 539.9h0"/><path d="M480.1 535.4h0"/><path d="M476.4 536.9h0"/><path d="M485.5 536.5h0"/><path d="M476.2 538.2h0"/><path d="M460.8 534.2h0"/><path d="M468.7 536.6h0"/><path d="M463.1 528.6h0"/><path d="M468.0 534.6h0"/><path d="M494.4 536.5h0"/><path d="M467.1 537.7h0"/><path d="M463.5 538.9h0"/><path d="M477.2 540.3h0"/><path d="M469.6 536.4h0"/><path d="M494.8 535.2h0"/><path d="M487.4 531.8h0"/><path d="M492.1 535.9h0"/><path d="M466.5 533.8h0"/><path d="M465.1 535.8h0"/><path d="M471.2 537.5h0"/><path d="M483.5 535.0h0"/><path d="M463.1 534.9h0"/><path d="M485.1 537.6h0"/><path d="M476.4 537.6h0"/><path d="M477.0 537.2h0"/><path d="M486.7 543.5h0"/><path d="M466.9 535.8h0"/><path d="M486.3 541.5h0"/><path d="M459.9 529.2h0"/><path d="M493.3 537.3h0"/><path d="M491.4 535.8h0"/><path d="M488.5 535.6h0"/><path d="M466.6 542.4h0"/><path d="M477.2 531.7h0"/><path d="M494.0 538.7h0"/><path d="M482.7 533.0h0"/><path d="M495.1 532.2h0"/><path d="M460.7 533.5h0"/><path d="M461.0 546.1h0"/><path d="M456.6 540.4h0"/><path d="M481.1 538.1h0"/><path d="M489.2 540.8h0"/><path d="M466.0 536.8h0"/><path d="M489.3 531.4h0"/><path d="M472.4 532.5h0"/><path d="M478.2 538.0h0"/><path d="M463.8 540.3h0"/><path d="M457.1 534.1h0"/><path d="M477.3 534.2h0"/><path d="M468.3 537.5h0"/><path d="M495.5 539.5h0"/><path d="M488.2 531.4h0"/><path d="M495.2 530.9h0"/><path d="M465.9 532.3h0"/><path d="M487.1 533.9h0"/><path d="M495.1 538.0h0"/><path d="M464.4 535.7h0"/><path d="M469.9 540.3h0"/><path d="M480.1 531.4h0"/><path d="M489.2 540.3h0"/><path d="M458.1 539.2h0"/><path d="M472.8 537.6h0"/><path d="M462.7 537.2h0"/><path d="M472.6 531.7h0"/><path d="M459.4 533.9h0"/><path d="M492.4 539.3h0"/><path d="M463.9 535.5h0"/><path d="M494.4 535.7h0"/><path d="M485.9 531.6h0"/><path d="M494.3 542.1h0"/><path d="M464.2 538.5h0"/><path d="M465.0 540.1h0"/><path d="M475.7 536.0h0"/><path d="M466.1 533.6h0"/><path d="M484.4 537.3h0"/><path d="M458.6 529.3h0"/><path d="M461.7 539.8h0"/><path d="M493.1 536.1h0"/><path d="M465.8 538.9h0"/><path d="M490.9 541.4h0"/><path d="M488.8 538.1h0"/><path d="M486.5 536.5h0"/><path d="M493.6 539.0h0"/><path d="M478.4 538.9h0"/><path d="M456.9 536.8h0"/><path d="M468.1 539.0h0"/><path d="M471.7 533.5h0"/><path d="M468.0 534.6h0"/><path d="M475.6 536.4h0"/><path d="M490.4 533.2h0"/><path d="M475.5 544.1h0"/><path d="M491.6 539.9h0"/><path d="M456.9 532.3h0"/><path d="M457.0 539.7h0"/><path d="M474.0 533.4h0"/><path d="M476.5 535.2h0"/><path d="M465.4 536.3h0"/><path d="M468.6 537.3h0"/><path d="M492.6 540.6h0"/><path d="M492.0 541.7h0"/><path d="M462.1 542.5h0"/><path d="M494.5 535.2h0"/><path d="M478.9 536.8h0"/><path d="M478.8 535.6h0"/><path d="M459.6 540.5h0"/><path d="M460.6 536.5h0"/><path d="M459.7 533.0h0"/><path d="M468.0 539.3h0"/><path d="M473.0 538.4h0"/><path d="M474.0 538.0h0"/><path d="M495.8 529.8h0"/><path d="M489.7 532.9h0"/><path d="M459.3 530.1h0"/><path d="M473.2 527.8h0"/><path d="M486.5 537.5h0"/><path d="M482.7 535.6h0"/><path d="M464.6 544.7h0"/><path d="M475.4 536.4h0"/><path d="M467.4 538.5h0"/><path d="M477.0 536.6h0"/><path d="M492.7 536.3h0"/><path d="M467.9 544.1h0"/><path d="M459.4 535.7h0"/><path d="M467.3 538.3h0"/><path d="M473.6 541.1h0"/><path d="M492.4 538.9h0"/><path d="M484.4 534.2h0"/><path d="M459.4 539.1h0"/><path d="M494.8 532.2h0"/><path d="M483.1 535.2h0"/><path d="M477.9 537.0h0"/><path d="M477.8 540.2h0"/><path d="M463.1 540.0h0"/><path d="M480.2 533.2h0"/><path d="M459.8 537.1h0"/><path d="M494.3 536.3h0"/><path d="M459.8 536.2h0"/><path d="M474.7 534.2h0"/><path d="M464.8 534.6h0"/><path d="M486.9 538.3h0"/><path d="M350.4 538.3h0"/><path d="M341.1 537.1h0"/><path d="M341.4 534.1h0"/><path d="M349.4 545.7h0"/><path d="M345.5 530.8h0"/><path d="M342.0 534.6h0"/><path d="M342.4 538.3h0"/><path d="M341.5 541.9h0"/><path d="M344.6 540.0h0"/><path d="M341.8 535.4h0"/><path d="M342.7 535.4h0"/><path d="M346.6 535.7h0"/><path d="M345.5 544.2h0"/><path d="M344.6 539.3h0"/><path d="M337.4 537.5h0"/><path d="M345.4 538.3h0"/><path d="M343.0 540.1h0"/><path d="M340.9 536.7h0"/><path d="M348.8 532.0h0"/><path d="M347.5 542.9h0"/><path d="M350.8 532.0h0"/><path d="M338.3 541.5h0"/><path d="M342.7 541.5h0"/><path d="M348.3 541.7h0"/><path d="M339.6 533.9h0"/><path d="M340.0 535.2h0"/><path d="M341.7 532.6h0"/><path d="M337.6 540.7h0"/><path d="M347.3 542.5h0"/><path d="M348.8 528.1h0"/><path d="M339.3 534.9h0"/><path d="M338.7 548.1h0"/><path d="M346.7 541.9h0"/><path d="M350.7 537.1h0"/><path d="M351.5 530.9h0"/><path d="M345.5 529.1h0"/><path d="M345.2 542.0h0"/><path d="M352.0 534.3h0"/><path d="M338.0 538.2h0"/><path d="M342.8 538.6h0"/><path d="M347.4 539.1h0"/><path d="M350.1 542.7h0"/><path d="M347.5 541.3h0"/><path d="M344.4 538.9h0"/><path d="M344.2 535.3h0"/><path d="M350.6 543.4h0"/><path d="M348.2 531.0h0"/><path d="M340.1 539.0h0"/><path d="M350.9 533.8h0"/><path d="M349.2 541.6h0"/><path d="M346.4 542.5h0"/><path d="M349.1 532.4h0"/><path d="M347.9 534.9h0"/><path d="M342.2 545.9h0"/><path d="M347.6 535.2h0"/><path d="M342.7 544.4h0"/><path d="M337.5 535.4h0"/><path d="M342.8 534.0h0"/><path d="M345.1 537.3h0"/><path d="M348.5 538.8h0"/><path d="M344.9 538.1h0"/><path d="M338.8 537.7h0"/><path d="M342.7 541.0h0"/><path d="M348.8 535.5h0"/><path d="M342.2 540.0h0"/><path d="M347.3 545.0h0"/><path d="M341.7 536.0h0"/><path d="M339.8 529.6h0"/><path d="M350.6 532.7h0"/><path d="M338.5 538.1h0"/><path d="M348.6 540.6h0"/><path d="M346.7 539.6h0"/><path d="M337.8 531.5h0"/><path d="M337.2 534.0h0"/><path d="M340.7 541.1h0"/><path d="M347.3 536.3h0"/><path d="M348.6 530.8h0"/><path d="M342.5 537.0h0"/><path d="M350.2 536.8h0"/><path d="M338.7 539.8h0"/><path d="M348.7 544.6h0"/><path d="M347.6 533.5h0"/><path d="M342.1 534.5h0"/><path d="M351.8 534.1h0"/><path d="M342.3 531.7h0"/><path d="M340.8 537.6h0"/><path d="M346.6 539.1h0"/><path d="M345.2 535.3h0"/><path d="M339.6 542.6h0"/><path d="M342.3 545.8h0"/><path d="M349.2 538.9h0"/><path d="M342.1 540.1h0"/><path d="M348.5 541.1h0"/><path d="M345.8 536.9h0"/><path d="M348.5 534.1h0"/><path d="M340.4 540.1h0"/><path d="M350.1 546.1h0"/><path d="M338.7 544.7h0"/><path d="M345.8 541.3h0"/><path d="M351.5 538.3h0"/><path d="M339.0 537.4h0"/><path d="M338.7 535.2h0"/><path d="M340.0 528.4h0"/><path d="M337.5 541.6h0"/><path d="M347.3 532.8h0"/><path d="M344.9 538.1h0"/><path d="M341.0 536.5h0"/><path d="M347.7 538.7h0"/><path d="M344.7 532.5h0"/><path d="M341.3 533.5h0"/><path d="M340.1 530.7h0"/><path d="M341.6 528.1h0"/><path d="M349.8 542.9h0"/><path d="M352.0 537.5h0"/><path d="M342.5 533.1h0"/><path d="M346.1 532.6h0"/><path d="M348.3 534.6h0"/><path d="M340.9 540.0h0"/><path d="M347.2 528.0h0"/><path d="M343.7 540.9h0"/><path d="M350.8 532.8h0"/><path d="M339.4 538.8h0"/><path d="M338.4 538.1h0"/><path d="M337.7 533.1h0"/><path d="M343.4 540.6h0"/><path d="M343.5 533.5h0"/><path d="M339.8 536.5h0"/><path d="M349.1 541.5h0"/><path d="M348.3 537.3h0"/><path d="M347.3 535.9h0"/><path d="M346.9 534.0h0"/><path d="M347.4 532.2h0"/><path d="M348.7 543.0h0"/><path d="M344.0 540.4h0"/><path d="M340.5 540.3h0"/><path d="M339.1 543.2h0"/><path d="M341.9 528.5h0"/><path d="M345.1 539.1h0"/><path d="M351.6 538.4h0"/><path d="M349.8 538.9h0"/><path d="M345.0 541.0h0"/><path d="M338.1 533.2h0"/><path d="M339.2 536.5h0"/><path d="M340.4 540.1h0"/><path d="M339.0 538.5h0"/><path d="M342.8 535.4h0"/><path d="M347.3 535.8h0"/><path d="M337.4 533.4h0"/><path d="M340.3 531.6h0"/><path d="M350.7 539.3h0"/><path d="M344.4 541.4h0"/><path d="M344.9 539.2h0"/><path d="M345.7 536.6h0"/><path d="M347.0 539.8h0"/><path d="M340.4 535.8h0"/><path d="M347.2 542.5h0"/><path d="M338.4 537.4h0"/><path d="M348.9 535.8h0"/><path d="M348.8 540.9h0"/><path d="M341.8 534.0h0"/></g>
<g stroke="#e41a1c" stroke-width="2.0" stroke-linecap="round" stroke-opacity="0.45" fill="none"><path d="M316.6 538.5h0"/><path d="M329.3 536.9h0"/><path d="M296.4 531.4h0"/><path d="M311.6 540.6h0"/><path d="M329.8 537.2h0"/><path d="M316.8 540.8h0"/><path d="M280.8 534.5h0"/><path d="M284.3 542.5h0"/><path d="M312.0 541.5h0"/><path d="M306.6 534.8h0"/><path d="M309.1 546.1h0"/><path d="M282.1 529.9h0"/><path d="M301.0 535.0h0"/><path d="M307.1 538.3h0"/><path d="M293.6 539.1h0"/><path d="M303.4 535.4h0"/><path d="M304.7 535.9h0"/><path d="M300.9 541.8h0"/><path d="M289.4 537.0h0"/><path d="M326.8 541.2h0"/><path d="M325.8 539.7h0"/><path d="M301.6 537.7h0"/><path d="M297.5 537.3h0"/><path d="M315.9 538.8h0"/><path d="M315.0 538.0h0"/><path d="M321.7 539.3h0"/><path d="M287.5 538.9h0"/><path d="M297.3 531.0h0"/><path d="M321.7 531.5h0"/><path d="M302.6 541.3h0"/><path d="M296.9 546.7h0"/><path d="M313.3 534.1h0"/><path d="M315.2 529.7h0"/><path d="M290.3 538.4h0"/><path d="M288.6 535.9h0"/><path d="M285.6 537.3h0"/><path d="M284.8 536.0h0"/><path d="M287.7 539.6h0"/><path d="M305.1 537.5h0"/><path d="M287.5 538.4h0"/><path d="M284.2 538.6h0"/><path d="M327.0 536.7h0"/><path d="M294.7 543.2h0"/><path d="M296.0 532.7h0"/><path d="M282.5 537.0h0"/><path d="M303.6 536.5h0"/><path d="M310.3 540.4h0"/><path d="M317.1 545.9h0"/><path d="M323.1 537.9h0"/><path d="M320.0 539.4h0"/><path d="M282.0 547.6h0"/><path d="M286.5 532.6h0"/><path d="M300.8 531.1h0"/><path d="M313.4 538.7h0"/><path d="M328.6 535.4h0"/><path d="M327.4 531.2h0"/><path d="M326.6 534.8h0"/><path d="M319.5 549.4h0"/><path d="M307.6 532.3h0"/><path d="M285.5 545.2h0"/><path d="M322.6 539.4h0"/><path d="M283.1 530.9h0"/><path d="M312.1 540.9h0"/><path d="M317.8 543.9h0"/><path d="M306.6 538.1h0"/><path d="M307.3 538.8h0"/><path d="M318.8 546.6h0"/><path d="M291.6 531.5h0"/><path d="M323.9 537.8h0"/><path d="M316.5 538.3h0"/><path d="M312.8 537.4h0"/><path d="M327.7 537.2h0"/><path d="M316.6 532.1h0"/><path d="M321.2 538.5h0"/><path d="M297.3 540.3h0"/><path d="M290.6 535.7h0"/><path d="M282.3 536.5h0"/><path d="M322.7 534.8h0"/><path d="M323.9 541.3h0"/><path d="M304.9 535.7h0"/><path d="M326.1 535.3h0"/><path d="M296.1 541.9h0"/><path d="M328.2 535.5h0"/><path d="M302.4 537.8h0"/><path d="M304.3 531.7h0"/><path d="M284.3 530.7h0"/><path d="M284.9 536.3h0"/><path d="M321.7 542.4h0"/><path d="M290.6 537.8h0"/><path d="M282.9 541.3h0"/><path d="M287.5 541.1h0"/><path d="M327.3 532.4h0"/><path d="M315.5 535.3h0"/><path d="M294.0 539.0h0"/><path d="M300.8 542.1h0"/><path d="M298.9 536.8h0"/><path d="M320.1 532.1h0"/><path d="M327.5 535.2h0"/><path d="M288.7 536.7h0"/><path d="M285.7 536.6h0"/><path d="M294.1 532.0h0"/><path d="M324.7 534.0h0"/><path d="M293.5 536.9h0"/><path d="M298.1 546.3h0"/><path d="M313.9 534.7h0"/><path d="M325.0 536.8h0"/><path d="M289.9 537.7h0"/><path d="M292.7 532.8h0"/><path d="M314.3 540.8h0"/><path d="M326.4 536.3h0"/><path d="M310.8 537.0h0"/><path d="M298.0 543.5h0"/><path d="M322.1 538.4h0"/><path d="M319.2 537.0h0"/><path d="M289.6 533.0h0"/><path d="M301.5 535.3h0"/><path d="M285.0 537.6h0"/><path d="M307.3 534.4h0"/><path d="M305.9 546.2h0"/><path d="M310.0 539.3h0"/><path d="M327.4 540.7h0"/><path d="M297.3 535.4h0"/><path d="M319.9 530.3h0"/><path d="M287.4 534.5h0"/><path d="M284.7 533.4h0"/><path d="M326.6 534.1h0"/><path d="M281.1 530.8h0"/><path d="M311.5 542.1h0"/><path d="M329.3 535.5h0"/><path d="M300.7 541.0h0"/><path d="M289.3 539.5h0"/><path d="M283.1 534.5h0"/><path d="M289.7 534.0h0"/><path d="M297.1 537.9h0"/><path d="M311.3 532.9h0"/><path d="M304.0 537.5h0"/><path d="M280.4 538.0h0"/><path d="M292.4 537.3h0"/><path d="M320.7 537.1h0"/><path d="M318.6 532.7h0"/><path d="M304.0 533.1h0"/><path d="M289.0 539.1h0"/><path d="M280.2 538.2h0"/><path d="M290.5 539.4h0"/><path d="M306.9 535.2h0"/><path d="M300.4 536.0h0"/><path d="M284.6 535.4h0"/><path d="M310.7 542.0h0"/><path d="M315.5 536.3h0"/><path d="M307.7 539.9h0"/><path d="M316.2 541.7h0"/><path d="M292.4 537.3h0"/><path d="M309.9 538.8h0"/><path d="M323.5 535.4h0"/><path d="M285.2 535.5h0"/><path d="M321.0 537.5h0"/><path d="M281.3 535.3h0"/><path d="M282.3 536.2h0"/><path d="M306.2 537.7h0"/><path d="M307.6 540.7h0"/><path d="M369.2 536.0h0"/><path d="M347.9 534.5h0"/><path d="M373.6 539.1h0"/><path d="M374.1 541.7h0"/><path d="M334.4 534.6h0"/><path d="M344.5 535.8h0"/><path d="M346.1 542.8h0"/><path d="M359.6 531.6h0"/><path d="M373.9 538.7h0"/><path d="M375.3 528.9h0"/><path d="M339.3 530.8h0"/><path d="M364.8 538.1h0"/><path d="M339.7 533.8h0"/><path d="M363.0 542.1h0"/><path d="M362.6 536.6h0"/><path d="M341.1 546.0h0"/><path d="M354.0 542.6h0"/><path d="M363.5 537.8h0"/><path d="M367.6 534.7h0"/><path d="M373.2 533.6h0"/><path d="M351.0 532.3h0"/><path d="M375.6 532.8h0"/><path d="M375.2 539.6h0"/><path d="M352.5 537.9h0"/><path d="M355.3 540.4h0"/><path d="M351.9 537.3h0"/><path d="M337.3 545.6h0"/><path d="M350.4 541.2h0"/><path d="M347.2 531.1h0"/><path d="M333.5 536.7h0"/><path d="M335.2 540.6h0"/><path d="M353.5 534.4h0"/><path d="M371.9 536.2h0"/><path d="M359.2 537.8h0"/><path d="M356.0 539.2h0"/><path d="M337.0 542.2h0"/><path d="M373.3 537.7h0"/><path d="M336.4 537.0h0"/><path d="M373.1 537.4h0"/><path d="M366.9 530.7h0"/><path d="M362.6 537.4h0"/><path d="M344.5 536.0h0"/><path d="M373.5 531.7h0"/><path d="M355.3 533.6h0"/><path d="M362.3 546.8h0"/><path d="M344.6 537.8h0"/><path d="M354.4 542.2h0"/><path d="M341.6 541.0h0"/><path d="M341.6 533.1h0"/><path d="M355.9 530.1h0"/><path d="M351.4 535.5h0"/><path d="M344.7 548.1h0"/><path d="M332.7 539.7h0"/><path d="M346.9 538.9h0"/><path d="M362.7 539.7h0"/><path d="M336.4 530.2h0"/><path d="M350.9 535.3h0"/><path d="M358.3 534.4h0"/><path d="M352.0 537.2h0"/><path d="M333.3 533.4h0"/><path d="M366.2 538.2h0"/><path d="M356.8 543.5h0"/><path d="M371.5 537.5h0"/><path d="M371.0 540.7h0"/><path d="M374.4 544.5h0"/><path d="M333.9 546.5h0"/><path d="M359.2 540.2h0"/><path d="M374.6 538.8h0"/><path d="M345.3 529.2h0"/><path d="M372.8 540.4h0"/><path d="M344.8 540.8h0"/><path d="M352.5 537.9h0"/><path d="M362.4 533.9h0"/><path d="M368.4 543.3h0"/><path d="M365.1 538.7h0"/><path d="M333.9 531.8h0"/><path d="M360.3 530.1h0"/><path d="M366.6 541.1h0"/><path d="M344.2 545.4h0"/><path d="M343.8 538.2h0"/><path d="M375.0 538.6h0"/><path d="M373.1 532.7h0"/><path d="M362.0 533.5h0"/><path d="M366.0 537.3h0"/><path d="M374.0 541.5h0"/><path d="M332.2 536.1h0"/><path d="M372.6 541.5h0"/><path d="M366.2 541.9h0"/><path d="M347.9 537.8h0"/><path d="M334.5 528.5h0"/><path d="M358.2 529.4h0"/><path d="M355.2 530.9h0"/><path d="M364.6 545.0h0"/><path d="M366.0 534.7h0"/><path d="M374.2 541.1h0"/><path d="M342.7 535.4h0"/><path d="M337.8 533.5h0"/><path d="M338.2 534.3h0"/><path d="M362.8 540.6h0"/><path d="M372.9 542.2h0"/><path d="M359.6 534.3h0"/><path d="M336.7 531.8h0"/><path d="M354.5 541.0h0"/><path d="M360.7 541.5h0"/><path d="M345.7 538.1h0"/><path d="M350.5 540.1h0"/><path d="M367.5 533.1h0"/><path d="M341.7 532.7h0"/><path d="M342.5 533.7h0"/><path d="M333.5 540.3h0"/><path d="M334.3 541.5h0"/><path d="M353.6 539.0h0"/><path d="M333.9 536.9h0"/><path d="M344.4 533.6h0"/><path d="M367.2 535.5h0"/><path d="M375.5 539.0h0"/><path d="M364.0 534.8h0"/><path d="M333.2 533.8h0"/><path d="M369.3 538.0h0"/><path d="M369.4 541.9h0"/><path d="M346.4 535.2h0"/><path d="M360.1 533.0h0"/><path d="M356.5 534.2h0"/><path d="M341.2 542.1h0"/><path d="M344.4 535.4h0"/><path d="M345.1 536.9h0"/><path d="M374.2 538.4h0"/><path d="M352.3 538.0h0"/><path d="M371.4 539.8h0"/><path d="M375.7 540.4h0"/><path d="M338.5 535.9h0"/><path d="M356.3 537.4h0"/><path d="M366.2 536.8h0"/><path d="M358.8 542.6h0"/><path d="M341.4 536.3h0"/><path d="M364.8 530.1h0"/><path d="M363.8 542.2h0"/><path d="M350.2 536.9h0"/><path d="M335.9 537.4h0"/><path d="M335.4 536.1h0"/><path d="M338.9 534.0h0"/><path d="M341.9 540.0h0"/><path d="M368.1 533.3h0"/><path d="M367.1 534.3h0"/><path d="M342.0 538.6h0"/><path d="M368.0 534.4h0"/><path d="M358.7 531.7h0"/><path d="M362.7 530.7h0"/><path d="M356.3 538.1h0"/><path d="M361.0 533.4h0"/><path d="M417.7 540.9h0"/><path d="M385.7 538.2h0"/><path d="M417.3 546.0h0"/><path d="M383.8 536.3h0"/><path d="M428.3 539.7h0"/><path d="M418.6 532.8h0"/><path d="M426.7 545.7h0"/><path d="M419.0 539.6h0"/><path d="M440.3 536.1h0"/><path d="M404.5 536.3h0"/><path d="M433.5 539.4h0"/><path d="M400.1 533.1h0"/><path d="M401.8 539.6h0"/><path d="M404.5 535.2h0"/><path d="M396.6 537.7h0"/><path d="M402.9 538.6h0"/><path d="M413.5 541.0h0"/><path d="M410.0 540.5h0"/><path d="M439.2 540.0h0"/><path d="M413.2 536.0h0"/><path d="M430.3 540.1h0"/><path d="M395.5 542.2h0"/><path d="M395.0 534.8h0"/><path d="M389.1 536.9h0"/><path d="M410.0 535.0h0"/><path d="M428.4 537.1h0"/><path d="M409.2 530.0h0"/><path d="M421.9 534.2h0"/><path d="M381.0 536.1h0"/><path d="M397.0 535.3h0"/><path d="M438.8 533.1h0"/><path d="M429.8 536.8h0"/><path d="M398.5 534.2h0"/><path d="M431.2 538.4h0"/><path d="M426.4 530.5h0"/><path d="M436.1 538.2h0"/><path d="M408.3 551.9h0"/><path d="M416.4 534.5h0"/><path d="M382.4 538.9h0"/><path d="M391.7 538.2h0"/><path d="M424.8 534.4h0"/><path d="M424.7 549.8h0"/><path d="M383.4 545.5h0"/><path d="M379.7 538.2h0"/><path d="M411.4 543.4h0"/><path d="M406.9 534.7h0"/><path d="M420.0 535.2h0"/><path d="M380.9 539.4h0"/><path d="M393.5 533.7h0"/><path d="M389.9 546.1h0"/><path d="M408.2 537.9h0"/><path d="M421.5 533.5h0"/><path d="M433.7 531.3h0"/><path d="M385.0 534.9h0"/><path d="M378.3 530.7h0"/><path d="M436.6 535.6h0"/><path d="M378.0 538.0h0"/><path d="M423.8 536.0h0"/><path d="M381.1 526.5h0"/><path d="M425.0 527.6h0"/><path d="M425.3 535.6h0"/><path d="M417.3 535.1h0"/><path d="M406.3 535.0h0"/><path d="M415.3 543.9h0"/><path d="M381.1 539.6h0"/><path d="M409.4 536.7h0"/><path d="M438.8 540.8h0"/><path d="M408.9 538.3h0"/><path d="M399.7 542.8h0"/><path d="M411.3 537.9h0"/><path d="M383.4 533.1h0"/><path d="M389.9 537.2h0"/><path d="M413.3 533.8h0"/><path d="M419.6 538.2h0"/><path d="M399.6 541.0h0"/><path d="M418.8 536.9h0"/><path d="M420.0 545.4h0"/><path d="M409.8 540.8h0"/><path d="M394.9 539.0h0"/><path d="M391.5 540.0h0"/><path d="M386.7 535.8h0"/><path d="M386.2 541.0h0"/><path d="M394.5 533.4h0"/><path d="M434.2 533.9h0"/><path d="M417.7 537.0h0"/><path d="M412.7 540.4h0"/><path d="M409.4 542.6h0"/><path d="M382.3 534.8h0"/><path d="M378.9 538.7h0"/><path d="M398.7 525.5h0"/><path d="M408.6 533.7h0"/><path d="M407.9 531.3h0"/><path d="M429.0 541.6h0"/><path d="M440.3 537.8h0"/><path d="M405.6 539.7h0"/><path d="M395.7 548.2h0"/><path d="M427.5 536.5h0"/><path d="M404.7 539.4h0"/><path d="M392.0 538.9h0"/><path d="M383.9 535.9h0"/><path d="M382.1 533.1h0"/><path d="M427.5 535.0h0"/><path d="M428.3 529.9h0"/><path d="M431.5 540.5h0"/><path d="M411.9 533.9h0"/><path d="M427.8 540.9h0"/><path d="M402.2 538.6h0"/><path d="M420.2 532.7h0"/><path d="M401.9 535.2h0"/><path d="M437.6 536.4h0"/><path d="M387.3 536.5h0"/><path d="M386.7 534.5h0"/><path d="M432.2 531.8h0"/><path d="M427.6 534.7h0"/><path d="M402.4 539.4h0"/><path d="M417.5 533.8h0"/><path d="M393.2 537.6h0"/><path d="M386.3 536.2h0"/><path d="M403.9 536.7h0"/><path d="M423.0 533.2h0"/><path d="M467.0 539.4h0"/><path d="M489.2 536.6h0"/><path d="M493.3 546.9h0"/><path d="M469.9 540.6h0"/><path d="M458.5 536.9h0"/><path d="M484.2 535.7h0"/><path d="M459.4 546.2h0"/><path d="M476.1 537.9h0"/><path d="M492.0 537.2h0"/><path d="M486.2 532.6h0"/><path d="M495.7 536.2h0"/><path d="M460.2 532.8h0"/><path d="M477.8 535.0h0"/><path d="M485.1 541.5h0"/><path d="M461.0 525.0h0"/><path d="M463.5 534.5h0"/><path d="M485.5 536.4h0"/><path d="M468.7 539.3h0"/><path d="M462.1 530.4h0"/><path d="M485.3 537.2h0"/><path d="M459.7 534.9h0"/><path d="M461.9 536.6h0"/><path d="M456.9 538.2h0"/><path d="M493.3 544.8h0"/><path d="M467.9 540.2h0"/><path d="M461.9 529.6h0"/><path d="M488.0 536.4h0"/><path d="M486.4 540.7h0"/><path d="M457.3 541.7h0"/><path d="M458.1 541.4h0"/><path d="M491.7 539.5h0"/><path d="M456.0 538.3h0"/><path d="M492.8 530.9h0"/><path d="M491.2 535.9h0"/><path d="M472.3 529.8h0"/><path d="M460.5 545.2h0"/><path d="M474.7 538.4h0"/><path d="M480.4 546.4h0"/><path d="M486.2 547.5h0"/><path d="M465.1 536.6h0"/><path d="M491.7 545.9h0"/><path d="M495.4 537.4h0"/><path d="M485.0 541.7h0"/><path d="M478.2 532.4h0"/><path d="M473.7 532.1h0"/><path d="M489.0 544.9h0"/><path d="M491.6 534.2h0"/><path d="M466.6 537.7h0"/><path d="M462.0 535.3h0"/><path d="M459.8 540.1h0"/><path d="M471.0 532.0h0"/><path d="M471.3 533.1h0"/><path d="M480.1 537.9h0"/><path d="M471.8 545.0h0"/><path d="M481.1 548.7h0"/><path d="M467.3 533.1h0"/><path d="M493.6 536.8h0"/><path d="M479.0 544.3h0"/><path d="M480.5 542.1h0"/><path d="M489.4 525.7h0"/><path d="M483.4 542.8h0"/><path d="M470.2 536.1h0"/><path d="M464.5 531.7h0"/><path d="M458.4 526.9h0"/><path d="M468.8 536.1h0"/><path d="M459.0 535.4h0"/><path d="M478.5 543.1h0"/><path d="M460.3 535.5h0"/><path d="M491.9 537.8h0"/><path d="M458.9 542.7h0"/><path d="M492.9 543.0h0"/><path d="M466.6 531.8h0"/><path d="M485.6 532.7h0"/><path d="M468.8 525.3h0"/><path d="M483.4 539.2h0"/><path d="M479.5 547.0h0"/><path d="M456.9 528.2h0"/><path d="M485.3 534.7h0"/><path d="M483.4 529.6h0"/><path d="M481.5 540.8h0"/><path d="M473.8 539.4h0"/><path d="M485.0 530.5h0"/><path d="M491.7 541.2h0"/><path d="M487.4 537.8h0"/><path d="M464.9 537.6h0"/><path d="M480.8 533.3h0"/><path d="M472.3 532.6h0"/><path d="M458.6 541.1h0"/><path d="M466.5 533.1h0"/><path d="M459.4 538.5h0"/><path d="M484.2 537.9h0"/><path d="M463.0 536.7h0"/><path d="M480.6 533.0h0"/><path d="M464.2 537.8h0"/><path d="M473.5 535.1h0"/><path d="M492.0 540.9h0"/><path d="M494.6 544.0h0"/><path d="M487.9 542.5h0"/><path d="M489.5 536.1h0"/><path d="M473.4 536.9h0"/><path d="M476.0 536.6h0"/><path d="M488.0 543.5h0"/><path d="M485.1 540.9h0"/><path d="M475.0 537.2h0"/><path d="M471.0 534.0h0"/><path d="M471.5 535.0h0"/><path d="M495.1 538.8h0"/><path d="M485.6 540.6h0"/><path d="M461.4 544.3h0"/><path d="M464.8 539.8h0"/><path d="M444.8 551.8h0"/><path d="M438.8 551.3h0"/><path d="M446.3 551.3h0"/><path d="M443.8 552.2h0"/><path d="M449.7 550.8h0"/><path d="M450.4 555.2h0"/><path d="M435.0 551.4h0"/><path d="M445.1 555.6h0"/><path d="M449.4 552.2h0"/><path d="M435.7 554.1h0"/><path d="M438.8 555.0h0"/><path d="M434.7 554.6h0"/><path d="M443.6 554.5h0"/><path d="M435.7 549.9h0"/><path d="M444.0 555.0h0"/><path d="M434.4 551.4h0"/><path d="M437.3 550.8h0"/><path d="M440.4 545.3h0"/><path d="M443.4 549.3h0"/><path d="M443.1 555.7h0"/><path d="M442.5 556.5h0"/><path d="M438.3 552.3h0"/><path d="M448.6 551.0h0"/><path d="M442.6 554.7h0"/><path d="M439.8 549.4h0"/><path d="M440.8 558.9h0"/><path d="M451.8 559.4h0"/><path d="M448.0 555.1h0"/><path d="M449.3 550.5h0"/><path d="M448.7 549.5h0"/><path d="M434.0 552.3h0"/><path d="M437.6 547.7h0"/><path d="M445.0 550.9h0"/><path d="M434.5 553.0h0"/><path d="M436.3 547.5h0"/><path d="M438.5 551.4h0"/><path d="M443.8 555.2h0"/><path d="M437.9 551.5h0"/><path d="M435.8 556.1h0"/><path d="M445.9 548.9h0"/><path d="M444.5 553.3h0"/><path d="M445.2 558.4h0"/><path d="M436.5 548.3h0"/><path d="M442.2 551.2h0"/><path d="M445.4 554.2h0"/><path d="M438.7 552.0h0"/><path d="M437.1 550.3h0"/><path d="M434.8 552.6h0"/><path d="M443.9 551.7h0"/><path d="M444.3 548.9h0"/><path d="M442.2 553.9h0"/><path d="M451.5 552.5h0"/><path d="M436.6 546.5h0"/><path d="M444.4 553.5h0"/><path d="M439.5 554.8h0"/><path d="M446.1 552.2h0"/><path d="M436.4 549.2h0"/><path d="M442.2 555.1h0"/><path d="M451.0 553.3h0"/><path d="M442.4 554.5h0"/><path d="M446.1 546.7h0"/><path d="M449.9 548.4h0"/><path d="M440.1 551.3h0"/><path d="M449.9 548.7h0"/><path d="M447.7 557.1h0"/><path d="M446.5 555.0h0"/><path d="M437.9 551.5h0"/><path d="M443.7 548.1h0"/><path d="M448.0 557.4h0"/><path d="M435.7 551.4h0"/><path d="M439.0 553.5h0"/><path d="M446.6 553.5h0"/><path d="M446.7 552.1h0"/><path d="M439.5 556.2h0"/><path d="M437.7 547.7h0"/><path d="M445.8 554.4h0"/><path d="M435.9 551.4h0"/><path d="M449.8 556.2h0"/><path d="M448.0 554.9h0"/><path d="M448.5 558.4h0"/><path d="M448.7 547.6h0"/><path d="M446.2 543.7h0"/><path d="M439.9 552.2h0"/><path d="M435.1 551.3h0"/><path d="M445.7 545.8h0"/><path d="M450.3 554.6h0"/><path d="M435.2 551.6h0"/><path d="M452.0 554.8h0"/><path d="M445.3 549.7h0"/><path d="M434.2 551.0h0"/><path d="M435.7 548.8h0"/><path d="M436.3 549.0h0"/><path d="M442.4 556.0h0"/><path d="M446.1 554.5h0"/><path d="M444.4 551.7h0"/><path d="M437.2 550.5h0"/><path d="M439.5 552.8h0"/><path d="M450.4 550.4h0"/><path d="M437.6 549.7h0"/><path d="M443.6 553.8h0"/><path d="M436.7 552.3h0"/><path d="M440.9 553.8h0"/><path d="M435.1 556.3h0"/><path d="M451.8 548.9h0"/><path d="M435.9 546.3h0"/><path d="M437.9 553.0h0"/><path d="M448.6 546.6h0"/><path d="M435.2 547.0h0"/><path d="M445.5 554.3h0"/><path d="M446.2 553.5h0"/><path d="M434.8 554.2h0"/><path d="M449.0 549.2h0"/><path d="M445.6 547.9h0"/><path d="M438.3 554.0h0"/><path d="M451.2 557.4h0"/><path d="M442.6 552.1h0"/><path d="M436.7 548.1h0"/><path d="M443.1 551.0h0"/><path d="M435.9 552.3h0"/><path d="M444.0 557.8h0"/><path d="M444.3 550.3h0"/><path d="M447.0 553.4h0"/><path d="M443.7 552.2h0"/><path d="M447.4 551.9h0"/><path d="M441.2 553.9h0"/><path d="M434.1 555.5h0"/><path d="M439.6 552.0h0"/><path d="M442.3 550.5h0"/><path d="M434.5 546.6h0"/><path d="M440.2 553.3h0"/><path d="M447.2 555.8h0"/><path d="M449.2 546.2h0"/><path d="M443.3 548.8h0"/><path d="M442.3 554.9h0"/><path d="M448.7 553.2h0"/><path d="M436.3 552.1h0"/><path d="M442.6 547.6h0"/><path d="M447.7 552.4h0"/><path d="M441.3 547.5h0"/><path d="M446.0 551.5h0"/><path d="M441.8 554.8h0"/><path d="M451.1 551.7h0"/><path d="M444.7 557.9h0"/><path d="M436.7 554.5h0"/><path d="M448.7 550.4h0"/><path d="M436.9 555.1h0"/><path d="M442.3 553.5h0"/><path d="M446.6 556.6h0"/><path d="M440.7 552.3h0"/><path d="M449.6 558.0h0"/><path d="M438.0 553.6h0"/><path d="M443.5 549.9h0"/><path d="M450.4 554.2h0"/><path d="M450.1 549.4h0"/><path d="M436.0 551.0h0"/><path d="M446.1 550.3h0"/><path d="M444.1 554.8h0"/><path d="M445.2 552.6h0"/><path d="M445.2 555.8h0"/><path d="M448.2 554.8h0"/><path d="M443.2 554.0h0"/><path d="M435.6 550.6h0"/><path d="M438.9 547.2h0"/><path d="M451.1 556.9h0"/><path d="M435.3 547.4h0"/><path d="M434.8 560.1h0"/><path d="M440.8 559.3h0"/><path d="M445.0 546.6h0"/><path d="M447.3 548.3h0"/><path d="M448.0 551.7h0"/><path d="M447.3 551.6h0"/><path d="M451.4 552.3h0"/><path d="M449.4 559.7h0"/><path d="M440.9 550.1h0"/><path d="M436.7 554.0h0"/><path d="M440.0 559.5h0"/><path d="M435.3 550.7h0"/><path d="M445.6 550.0h0"/><path d="M447.0 547.9h0"/><path d="M446.5 548.9h0"/><path d="M445.0 553.3h0"/><path d="M440.5 550.1h0"/><path d="M448.0 552.5h0"/><path d="M448.6 551.9h0"/><path d="M441.5 546.2h0"/><path d="M434.7 553.4h0"/><path d="M442.2 560.7h0"/><path d="M444.4 553.9h0"/><path d="M451.4 557.5h0"/><path d="M434.2 555.8h0"/><path d="M446.9 547.6h0"/><path d="M436.3 550.9h0"/><path d="M441.4 555.0h0"/><path d="M438.1 552.9h0"/><path d="M435.9 549.0h0"/><path d="M450.0 551.8h0"/><path d="M446.9 546.7h0"/><path d="M447.2 555.7h0"/><path d="M435.6 551.5h0"/><path d="M444.8 552.0h0"/><path d="M442.2 555.3h0"/><path d="M441.0 551.3h0"/><path d="M444.6 550.1h0"/><path d="M435.8 548.5h0"/><path d="M443.7 559.1h0"/><path d="M447.9 551.9h0"/><path d="M443.0 550.3h0"/><path d="M441.8 548.4h0"/><path d="M451.6 551.1h0"/><path d="M444.2 552.2h0"/><path d="M447.8 554.7h0"/><path d="M436.1 547.6h0"/><path d="M442.2 552.7h0"/><path d="M441.3 547.3h0"/><path d="M437.4 552.0h0"/><path d="M440.4 551.4h0"/><path d="M446.1 555.1h0"/><path d="M447.5 556.8h0"/><path d="M439.2 551.4h0"/><path d="M436.3 553.0h0"/><path d="M440.9 548.0h0"/><path d="M450.0 557.0h0"/><path d="M443.4 556.8h0"/><path d="M450.2 548.9h0"/><path d="M437.0 555.4h0"/><path d="M449.0 556.1h0"/><path d="M436.9 559.5h0"/><path d="M448.0 555.6h0"/><path d="M435.1 550.6h0"/><path d="M446.2 549.5h0"/><path d="M443.3 558.8h0"/><path d="M435.6 551.5h0"/><path d="M445.7 555.8h0"/><path d="M436.7 555.0h0"/><path d="M448.2 550.7h0"/><path d="M443.0 553.3h0"/><path d="M446.6 551.7h0"/><path d="M450.2 550.6h0"/><path d="M440.9 550.7h0"/><path d="M438.6 551.6h0"/><path d="M449.8 549.8h0"/><path d="M441.0 554.4h0"/><path d="M434.1 555.7h0"/><path d="M447.5 555.5h0"/><path d="M436.0 552.6h0"/><path d="M443.1 555.3h0"/><path d="M442.0 552.0h0"/><path d="M439.6 553.2h0"/><path d="M447.4 547.6h0"/><path d="M436.0 555.8h0"/><path d="M444.0 548.6h0"/><path d="M449.6 550.3h0"/><path d="M447.2 545.0h0"/><path d="M446.6 554.7h0"/><path d="M437.0 550.7h0"/><path d="M434.7 554.4h0"/><path d="M446.9 553.8h0"/><path d="M450.3 551.6h0"/><path d="M435.7 549.5h0"/><path d="M439.2 547.7h0"/><path d="M451.9 553.7h0"/><path d="M437.2 554.8h0"/><path d="M438.9 552.1h0"/><path d="M439.6 548.8h0"/><path d="M440.6 550.5h0"/><path d="M449.8 550.3h0"/><path d="M444.8 549.4h0"/><path d="M437.3 552.3h0"/><path d="M441.3 550.4h0"/><path d="M449.2 545.7h0"/><path d="M441.0 550.6h0"/><path d="M442.8 554.5h0"/><path d="M444.7 553.7h0"/><path d="M448.6 553.2h0"/><path d="M443.9 551.4h0"/><path d="M445.9 550.4h0"/><path d="M442.1 557.5h0"/><path d="M441.2 554.9h0"/><path d="M444.9 553.8h0"/><path d="M440.8 555.9h0"/><path d="M436.4 559.2h0"/><path d="M443.8 556.6h0"/><path d="M440.4 549.0h0"/><path d="M448.4 556.9h0"/><path d="M443.8 547.2h0"/><path d="M445.0 552.4h0"/><path d="M437.0 552.1h0"/><path d="M444.7 546.3h0"/><path d="M448.2 546.1h0"/><path d="M441.6 556.5h0"/><path d="M440.3 549.1h0"/><path d="M438.9 550.5h0"/><path d="M443.1 554.9h0"/><path d="M440.1 553.6h0"/><path d="M434.5 555.6h0"/><path d="M440.6 547.0h0"/><path d="M449.8 543.8h0"/><path d="M446.5 557.3h0"/><path d="M441.0 555.2h0"/><path d="M436.6 553.1h0"/><path d="M449.3 555.7h0"/><path d="M447.3 549.0h0"/><path d="M447.7 551.7h0"/><path d="M449.9 553.4h0"/><path d="M440.9 558.1h0"/><path d="M434.3 557.9h0"/><path d="M452.0 552.5h0"/><path d="M443.1 559.0h0"/><path d="M442.2 549.8h0"/><path d="M445.4 554.1h0"/><path d="M437.7 549.1h0"/><path d="M447.0 551.5h0"/><path d="M447.0 550.6h0"/><path d="M445.0 551.2h0"/><path d="M447.2 554.8h0"/><path d="M444.0 554.6h0"/><path d="M437.3 553.8h0"/><path d="M451.1 552.1h0"/><path d="M444.7 549.9h0"/><path d="M443.5 553.3h0"/><path d="M451.8 548.1h0"/><path d="M444.6 553.9h0"/><path d="M435.1 556.4h0"/><path d="M448.9 555.0h0"/><path d="M434.3 554.6h0"/><path d="M435.4 547.8h0"/><path d="M438.6 549.7h0"/><path d="M437.8 551.2h0"/><path d="M446.8 552.8h0"/><path d="M450.7 551.6h0"/><path d="M449.8 533.8h0"/><path d="M444.4 542.4h0"/><path d="M446.6 536.5h0"/><path d="M454.6 521.9h0"/><path d="M453.1 525.2h0"/><path d="M451.6 544.0h0"/><path d="M452.1 534.2h0"/><path d="M454.1 533.2h0"/><path d="M441.1 526.0h0"/><path d="M451.1 523.5h0"/><path d="M450.4 535.1h0"/><path d="M452.4 538.4h0"/><path d="M446.6 533.0h0"/><path d="M444.4 532.3h0"/><path d="M450.0 545.9h0"/><path d="M341.0 515.0h0"/><path d="M343.0 513.0h0"/><path d="M458.0 488.6h0"/><path d="M459.0 500.3h0"/><path d="M460.0 509.1h0"/><path d="M461.0 517.9h0"/><path d="M342.0 554.0h0"/><path d="M478.0 547.1h0"/><path d="M438.0 568.6h0"/><path d="M442.0 574.4h0"/><path d="M488.0 521.8h0"/><path d="M492.0 521.8h0"/><path d="M286.0 525.7h0"/><path d="M327.0 541.3h0"/></g>
<line x1="422.2" y1="590.6999999999999" x2="422.2" y2="483.9" stroke="#4a4a4a" stroke-width="1.1" stroke-dasharray="2.7 2.5" stroke-dashoffset="0.45"/>
<line x1="441.8" y1="590.6999999999999" x2="441.8" y2="483.9" stroke="#2a2a2a" stroke-width="1.9" stroke-dasharray="2.7 2.5" stroke-dashoffset="0.45"/>
<line x1="458.1" y1="590.6999999999999" x2="458.1" y2="483.9" stroke="#555" stroke-width="1.1" stroke-dasharray="2.7 2.5" stroke-dashoffset="0.45"/>
<line x1="467.2" y1="590.6999999999999" x2="467.2" y2="483.9" stroke="#555" stroke-width="1.1" stroke-dasharray="2.7 2.5" stroke-dashoffset="0.45"/>
<rect x="270.5" y="483.9" width="235.7" height="106.79999999999995" fill="none" stroke="#000" stroke-width="1.4"/>
<line x1="265.4" y1="498.4" x2="270.5" y2="498.4" stroke="#000" stroke-width="1.2"/>
<text x="261.0" y="502.29999999999995" font-size="11.8" fill="#000" text-anchor="end">2</text>
<line x1="265.4" y1="517.9" x2="270.5" y2="517.9" stroke="#000" stroke-width="1.2"/>
<text x="261.0" y="521.8" font-size="11.8" fill="#000" text-anchor="end">1</text>
<line x1="265.4" y1="537.4" x2="270.5" y2="537.4" stroke="#000" stroke-width="1.2"/>
<text x="261.0" y="541.3" font-size="11.8" fill="#000" text-anchor="end">0</text>
<line x1="265.4" y1="556.9" x2="270.5" y2="556.9" stroke="#000" stroke-width="1.2"/>
<text x="261.0" y="560.8" font-size="11.8" fill="#000" text-anchor="end" textLength="9.4" lengthAdjust="spacingAndGlyphs">-1</text>
<line x1="265.4" y1="576.4" x2="270.5" y2="576.4" stroke="#000" stroke-width="1.2"/>
<text x="261.0" y="580.3" font-size="11.8" fill="#000" text-anchor="end" textLength="9.4" lengthAdjust="spacingAndGlyphs">-2</text>
<text x="243.4" y="537.6" font-size="14.2" fill="#000" text-anchor="middle" textLength="61.5" lengthAdjust="spacingAndGlyphs" transform="rotate(-90 243.4 537.6)">Log2 ratio</text>
<line x1="280.0" y1="590.6999999999999" x2="280.0" y2="595.1999999999999" stroke="#000" stroke-width="1.2"/>
<text x="279.8" y="610.4" font-size="11.8" fill="#000" text-anchor="middle" textLength="19.3" lengthAdjust="spacingAndGlyphs">2e7</text>
<line x1="351.75" y1="590.6999999999999" x2="351.75" y2="595.1999999999999" stroke="#000" stroke-width="1.2"/>
<text x="351.55" y="610.4" font-size="11.8" fill="#000" text-anchor="middle" textLength="28.8" lengthAdjust="spacingAndGlyphs">2.5e7</text>
<line x1="423.5" y1="590.6999999999999" x2="423.5" y2="595.1999999999999" stroke="#000" stroke-width="1.2"/>
<text x="423.3" y="610.4" font-size="11.8" fill="#000" text-anchor="middle" textLength="18.6" lengthAdjust="spacingAndGlyphs">3e7</text>
<line x1="495.25" y1="590.6999999999999" x2="495.25" y2="595.1999999999999" stroke="#000" stroke-width="1.2"/>
<text x="495.05" y="610.4" font-size="11.8" fill="#000" text-anchor="middle" textLength="30" lengthAdjust="spacingAndGlyphs">3.5e7</text>
<text x="388.1" y="630.0999999999999" font-size="14.4" fill="#000" text-anchor="middle" textLength="93.6" lengthAdjust="spacingAndGlyphs">Chromosome 6</text>
<text x="422.4" y="61.0" font-size="12.0" fill="#000" textLength="31" lengthAdjust="spacingAndGlyphs" transform="rotate(-45 422.4 61.0)">HLA-A</text>
<text x="443.2" y="61.0" font-size="12.0" fill="#000" textLength="42" lengthAdjust="spacingAndGlyphs" transform="rotate(-45 443.2 61.0)">HLA-C/B</text>
<text x="463.0" y="60.8" font-size="12.0" fill="#000" textLength="56.5" lengthAdjust="spacingAndGlyphs" transform="rotate(-45 463.0 60.8)">Class II HLA</text>
<circle cx="317.5" cy="645.4" r="6.7" fill="#777"/>
<text x="328.2" y="649.2" font-size="11.8" fill="#000" textLength="72.8" lengthAdjust="spacingAndGlyphs">Pre-Transplant</text>
<circle cx="421" cy="645" r="6.8" fill="#c8553a"/>
<text x="432.0" y="649.3" font-size="11.8" fill="#000" textLength="39.6" lengthAdjust="spacingAndGlyphs">Relapse</text>
<text x="11.8" y="689.6" font-size="17.4" fill="#000">D</text>
<rect x="29" y="717.9" width="359.4" height="18.200000000000045" fill="#c8c4c4"/>
<rect x="29" y="754.4" width="359.4" height="31.600000000000023" fill="#c8c4c4"/>
<rect x="29" y="806.1" width="359.4" height="19.0" fill="#c8c4c4"/>
<rect x="29" y="843.7" width="359.4" height="16.59999999999991" fill="#c8c4c4"/>
<line x1="29" y1="698.1" x2="388.4" y2="698.1" stroke="#3a3a3a" stroke-width="1.7"/>
<line x1="29" y1="717.0" x2="388.4" y2="717.0" stroke="#3a3a3a" stroke-width="1.7"/>
<line x1="29" y1="861.1" x2="388.4" y2="861.1" stroke="#3a3a3a" stroke-width="1.7"/>
<text x="227.0" y="711.2" font-size="11.8" fill="#000" text-anchor="middle" textLength="34.0" lengthAdjust="spacingAndGlyphs">MN-03</text>
<text x="284.15" y="711.2" font-size="11.8" fill="#000" text-anchor="middle" textLength="34.3" lengthAdjust="spacingAndGlyphs">MN-04</text>
<text x="352.4" y="711.2" font-size="11.8" fill="#000" text-anchor="middle" textLength="34.0" lengthAdjust="spacingAndGlyphs">MN-15</text>
<text x="114.25" y="730.6" font-size="11.8" fill="#000" text-anchor="middle" textLength="66.9" lengthAdjust="spacingAndGlyphs">Conditioning</text>
<text x="227.1" y="730.7" font-size="11.8" fill="#000" text-anchor="middle" textLength="17.2" lengthAdjust="spacingAndGlyphs">RIC</text>
<text x="283.9" y="730.7" font-size="11.8" fill="#000" text-anchor="middle" textLength="23.8" lengthAdjust="spacingAndGlyphs">MAC</text>
<text x="352.85" y="730.7" font-size="11.8" fill="#000" text-anchor="middle" textLength="24.1" lengthAdjust="spacingAndGlyphs">MAC</text>
<text x="115.25" y="749.8" font-size="11.8" fill="#000" text-anchor="middle" textLength="37.3" lengthAdjust="spacingAndGlyphs">cGVHD</text>
<text x="284.15" y="749.8" font-size="11.8" fill="#000" text-anchor="middle" textLength="48.7" lengthAdjust="spacingAndGlyphs">Extensive</text>
<text x="115.0" y="774.6" font-size="11.8" fill="#000" text-anchor="middle" textLength="33.2" lengthAdjust="spacingAndGlyphs">Donor</text>
<text x="227.35" y="768.2" font-size="11.8" fill="#000" text-anchor="middle" textLength="29.7" lengthAdjust="spacingAndGlyphs">10/10</text>
<text x="284.0" y="768.2" font-size="11.8" fill="#000" text-anchor="middle" textLength="29.6" lengthAdjust="spacingAndGlyphs">10/10</text>
<text x="352.5" y="768.1" font-size="11.8" fill="#000" text-anchor="middle" textLength="64.8" lengthAdjust="spacingAndGlyphs">9/10 (HLA-C)</text>
<text x="227.15" y="782.2" font-size="11.8" fill="#000" text-anchor="middle" textLength="23.3" lengthAdjust="spacingAndGlyphs">URD</text>
<text x="283.85" y="782.2" font-size="11.8" fill="#000" text-anchor="middle" textLength="23.3" lengthAdjust="spacingAndGlyphs">URD</text>
<text x="352.55" y="782.0" font-size="11.8" fill="#000" text-anchor="middle" textLength="35.7" lengthAdjust="spacingAndGlyphs">MMUD</text>
<text x="114.7" y="799.7" font-size="11.8" fill="#000" text-anchor="middle" textLength="127.8" lengthAdjust="spacingAndGlyphs">Years to relapse after HCT</text>
<text x="226.45" y="799.6" font-size="11.8" fill="#000" text-anchor="middle">2</text>
<text x="284.4" y="800.3" font-size="11.8" fill="#000" text-anchor="middle" textLength="15.2" lengthAdjust="spacingAndGlyphs">1.2</text>
<text x="352.15" y="800.3" font-size="11.8" fill="#000" text-anchor="middle" textLength="14.9" lengthAdjust="spacingAndGlyphs">2.1</text>
<text x="114.25" y="819.6" font-size="11.8" fill="#000" text-anchor="middle" textLength="115.5" lengthAdjust="spacingAndGlyphs">Pre-HCT % myeloblasts</text>
<text x="227.0" y="819.2" font-size="11.8" fill="#000" text-anchor="middle" textLength="22.6" lengthAdjust="spacingAndGlyphs">80%</text>
<text x="283.9" y="819.2" font-size="11.8" fill="#000" text-anchor="middle" textLength="22.6" lengthAdjust="spacingAndGlyphs">80%</text>
<text x="352.5" y="819.9" font-size="11.8" fill="#000" text-anchor="middle" textLength="22.6" lengthAdjust="spacingAndGlyphs">85%</text>
<text x="114.7" y="838.2" font-size="11.8" fill="#000" text-anchor="middle" textLength="112.8" lengthAdjust="spacingAndGlyphs">Relapse % myeloblasts</text>
<text x="227.0" y="837.6" font-size="11.8" fill="#000" text-anchor="middle" textLength="22.6" lengthAdjust="spacingAndGlyphs">20%</text>
<text x="283.9" y="837.6" font-size="11.8" fill="#000" text-anchor="middle" textLength="22.6" lengthAdjust="spacingAndGlyphs">80%</text>
<text x="352.5" y="837.6" font-size="11.8" fill="#000" text-anchor="middle" textLength="22.6" lengthAdjust="spacingAndGlyphs">80%</text>
<text x="114.35" y="856.0" font-size="11.8" fill="#000" text-anchor="middle" textLength="149.1" lengthAdjust="spacingAndGlyphs">Relapse blasts sorted for array</text>
<text x="227.2" y="856.1" font-size="11.8" fill="#000" text-anchor="middle" textLength="17.8" lengthAdjust="spacingAndGlyphs">Yes</text>
<line x1="225.70000000000002" y1="746.8" x2="228.9" y2="746.8" stroke="#222" stroke-width="1.1"/>
<line x1="351.2" y1="746.6" x2="354.40000000000003" y2="746.6" stroke="#222" stroke-width="1.1"/>
<line x1="282.59999999999997" y1="852.6" x2="285.8" y2="852.6" stroke="#222" stroke-width="1.1"/>
<line x1="351.2" y1="852.6" x2="354.40000000000003" y2="852.6" stroke="#222" stroke-width="1.1"/></svg></body></html>
